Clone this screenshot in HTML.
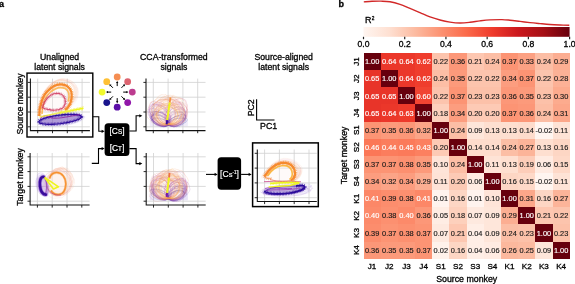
<!DOCTYPE html>
<html><head><meta charset="utf-8"><style>
html,body{margin:0;padding:0;background:#fff;width:575px;height:284px;overflow:hidden}
svg{display:block;will-change:transform}
text{font-family:"Liberation Sans", sans-serif}
</style></head><body>
<svg width="575" height="284" viewBox="0 0 575 284" font-family='"Liberation Sans", sans-serif'>
<rect width="575" height="284" fill="#fff"/>
<text x="-0.9" y="6.8" font-size="9.0" text-anchor="start" fill="#000" stroke="#000" stroke-width="0.3" font-weight="bold">a</text>
<text x="59.6" y="59.9" font-size="8.7" text-anchor="middle" fill="#000" stroke="#000" stroke-width="0.3" font-weight="normal">Unaligned</text>
<text x="59.6" y="69.5" font-size="8.7" text-anchor="middle" fill="#000" stroke="#000" stroke-width="0.3" font-weight="normal">latent signals</text>
<text x="173.9" y="59.9" font-size="8.7" text-anchor="middle" fill="#000" stroke="#000" stroke-width="0.3" font-weight="normal">CCA-transformed</text>
<text x="173.9" y="69.5" font-size="8.7" text-anchor="middle" fill="#000" stroke="#000" stroke-width="0.3" font-weight="normal">signals</text>
<text x="283.7" y="59.9" font-size="8.7" text-anchor="middle" fill="#000" stroke="#000" stroke-width="0.3" font-weight="normal">Source-aligned</text>
<text x="283.7" y="69.5" font-size="8.7" text-anchor="middle" fill="#000" stroke="#000" stroke-width="0.3" font-weight="normal">latent signals</text>
<text x="22.8" y="104" font-size="8.8" text-anchor="middle" fill="#000" stroke="#000" stroke-width="0.3" font-weight="normal" transform="rotate(-90 22.8 104)">Source monkey</text>
<text x="22.8" y="177" font-size="8.8" text-anchor="middle" fill="#000" stroke="#000" stroke-width="0.3" font-weight="normal" transform="rotate(-90 22.8 177)">Target monkey</text>
<line x1="30.40" y1="82.40" x2="89.90" y2="82.40" stroke="#d0d0d0" stroke-width="0.8"/>
<line x1="30.40" y1="97.20" x2="89.90" y2="97.20" stroke="#d0d0d0" stroke-width="0.8"/>
<line x1="30.40" y1="112.00" x2="89.90" y2="112.00" stroke="#d0d0d0" stroke-width="0.8"/>
<line x1="30.40" y1="126.80" x2="89.90" y2="126.80" stroke="#d0d0d0" stroke-width="0.8"/>
<line x1="37.70" y1="78.60" x2="37.70" y2="130.60" stroke="#d0d0d0" stroke-width="0.8"/>
<line x1="52.50" y1="78.60" x2="52.50" y2="130.60" stroke="#d0d0d0" stroke-width="0.8"/>
<line x1="67.30" y1="78.60" x2="67.30" y2="130.60" stroke="#d0d0d0" stroke-width="0.8"/>
<line x1="82.10" y1="78.60" x2="82.10" y2="130.60" stroke="#d0d0d0" stroke-width="0.8"/>
<line x1="30.10" y1="156.80" x2="89.60" y2="156.80" stroke="#d0d0d0" stroke-width="0.8"/>
<line x1="30.10" y1="171.60" x2="89.60" y2="171.60" stroke="#d0d0d0" stroke-width="0.8"/>
<line x1="30.10" y1="186.40" x2="89.60" y2="186.40" stroke="#d0d0d0" stroke-width="0.8"/>
<line x1="30.10" y1="201.20" x2="89.60" y2="201.20" stroke="#d0d0d0" stroke-width="0.8"/>
<line x1="37.40" y1="153.00" x2="37.40" y2="205.00" stroke="#d0d0d0" stroke-width="0.8"/>
<line x1="52.20" y1="153.00" x2="52.20" y2="205.00" stroke="#d0d0d0" stroke-width="0.8"/>
<line x1="67.00" y1="153.00" x2="67.00" y2="205.00" stroke="#d0d0d0" stroke-width="0.8"/>
<line x1="81.80" y1="153.00" x2="81.80" y2="205.00" stroke="#d0d0d0" stroke-width="0.8"/>
<line x1="146.00" y1="82.40" x2="205.50" y2="82.40" stroke="#d0d0d0" stroke-width="0.8"/>
<line x1="146.00" y1="97.20" x2="205.50" y2="97.20" stroke="#d0d0d0" stroke-width="0.8"/>
<line x1="146.00" y1="112.00" x2="205.50" y2="112.00" stroke="#d0d0d0" stroke-width="0.8"/>
<line x1="146.00" y1="126.80" x2="205.50" y2="126.80" stroke="#d0d0d0" stroke-width="0.8"/>
<line x1="153.30" y1="78.60" x2="153.30" y2="130.60" stroke="#d0d0d0" stroke-width="0.8"/>
<line x1="168.10" y1="78.60" x2="168.10" y2="130.60" stroke="#d0d0d0" stroke-width="0.8"/>
<line x1="182.90" y1="78.60" x2="182.90" y2="130.60" stroke="#d0d0d0" stroke-width="0.8"/>
<line x1="197.70" y1="78.60" x2="197.70" y2="130.60" stroke="#d0d0d0" stroke-width="0.8"/>
<line x1="146.20" y1="156.80" x2="205.70" y2="156.80" stroke="#d0d0d0" stroke-width="0.8"/>
<line x1="146.20" y1="171.60" x2="205.70" y2="171.60" stroke="#d0d0d0" stroke-width="0.8"/>
<line x1="146.20" y1="186.40" x2="205.70" y2="186.40" stroke="#d0d0d0" stroke-width="0.8"/>
<line x1="146.20" y1="201.20" x2="205.70" y2="201.20" stroke="#d0d0d0" stroke-width="0.8"/>
<line x1="153.50" y1="153.00" x2="153.50" y2="205.00" stroke="#d0d0d0" stroke-width="0.8"/>
<line x1="168.30" y1="153.00" x2="168.30" y2="205.00" stroke="#d0d0d0" stroke-width="0.8"/>
<line x1="183.10" y1="153.00" x2="183.10" y2="205.00" stroke="#d0d0d0" stroke-width="0.8"/>
<line x1="197.90" y1="153.00" x2="197.90" y2="205.00" stroke="#d0d0d0" stroke-width="0.8"/>
<line x1="257.30" y1="153.30" x2="316.80" y2="153.30" stroke="#d0d0d0" stroke-width="0.8"/>
<line x1="257.30" y1="168.10" x2="316.80" y2="168.10" stroke="#d0d0d0" stroke-width="0.8"/>
<line x1="257.30" y1="182.90" x2="316.80" y2="182.90" stroke="#d0d0d0" stroke-width="0.8"/>
<line x1="257.30" y1="197.70" x2="316.80" y2="197.70" stroke="#d0d0d0" stroke-width="0.8"/>
<line x1="264.60" y1="149.50" x2="264.60" y2="201.50" stroke="#d0d0d0" stroke-width="0.8"/>
<line x1="279.40" y1="149.50" x2="279.40" y2="201.50" stroke="#d0d0d0" stroke-width="0.8"/>
<line x1="294.20" y1="149.50" x2="294.20" y2="201.50" stroke="#d0d0d0" stroke-width="0.8"/>
<line x1="309.00" y1="149.50" x2="309.00" y2="201.50" stroke="#d0d0d0" stroke-width="0.8"/>
<path d="M38.5,112.8 C39.3,95.6 50.5,81.0 61.7,81.1 C70.9,81.8 75.9,87.8 74.8,95.8 C73.7,103.8 66.5,109.8 58.5,111.8" fill="none" stroke="#f8a060" stroke-opacity="0.16" stroke-width="0.4"/>
<path d="M38.3,112.5 C38.3,94.5 50.3,79.4 62.4,80.0 C72.5,81.5 77.5,87.5 75.9,95.5 C74.4,103.5 66.3,109.5 58.3,111.5" fill="none" stroke="#f4b080" stroke-opacity="0.16" stroke-width="0.4"/>
<path d="M39.5,110.7 C40.9,94.1 51.5,79.7 62.2,79.6 C70.9,79.7 75.9,85.7 75.0,93.7 C74.2,101.7 67.5,107.7 59.5,109.7" fill="none" stroke="#f8a060" stroke-opacity="0.16" stroke-width="0.4"/>
<path d="M38.2,112.5 C38.6,94.9 50.2,80.1 61.8,80.4 C71.4,81.5 76.4,87.5 75.1,95.5 C73.8,103.5 66.2,109.5 58.2,111.5" fill="none" stroke="#f4b080" stroke-opacity="0.16" stroke-width="0.4"/>
<path d="M40.0,110.7 C40.3,93.0 52.0,78.1 63.8,78.5 C73.5,79.7 78.5,85.7 77.1,93.7 C75.8,101.7 68.0,107.7 60.0,109.7" fill="none" stroke="#fbc070" stroke-opacity="0.16" stroke-width="0.4"/>
<path d="M38.8,112.4 C40.1,95.8 50.8,81.4 61.5,81.3 C70.2,81.4 75.2,87.4 74.3,95.4 C73.5,103.4 66.8,109.4 58.8,111.4" fill="none" stroke="#f4b080" stroke-opacity="0.16" stroke-width="0.4"/>
<path d="M38.5,110.9 C39.4,93.8 50.5,79.2 61.6,79.3 C70.7,79.9 75.7,85.9 74.7,93.9 C73.6,101.9 66.5,107.9 58.5,109.9" fill="none" stroke="#e890a0" stroke-opacity="0.16" stroke-width="0.4"/>
<path d="M40.4,110.9 C40.8,93.3 52.4,78.4 64.0,78.8 C73.6,79.9 78.6,85.9 77.3,93.9 C76.0,101.9 68.4,107.9 60.4,109.9" fill="none" stroke="#f4b080" stroke-opacity="0.16" stroke-width="0.4"/>
<path d="M39.9,110.7 C40.6,93.4 51.9,78.8 63.2,78.9 C72.5,79.7 77.5,85.7 76.3,93.7 C75.2,101.7 67.9,107.7 59.9,109.7" fill="none" stroke="#f8a060" stroke-opacity="0.16" stroke-width="0.4"/>
<path d="M39.7,112.4 C40.0,94.6 51.7,79.8 63.5,80.1 C73.2,81.4 78.2,87.4 76.8,95.4 C75.5,103.4 67.7,109.4 59.7,111.4" fill="none" stroke="#e890a0" stroke-opacity="0.16" stroke-width="0.4"/>
<path d="M41.2,111.8 C41.8,94.3 53.2,79.6 64.7,79.8 C74.1,80.8 79.1,86.8 77.9,94.8 C76.7,102.8 69.2,108.8 61.2,110.8" fill="none" stroke="#f4b080" stroke-opacity="0.16" stroke-width="0.4"/>
<path d="M40.4,111.4 C40.4,93.3 52.4,78.3 64.5,78.8 C74.5,80.4 79.5,86.4 78.0,94.4 C76.5,102.4 68.4,108.4 60.4,110.4" fill="none" stroke="#e890a0" stroke-opacity="0.16" stroke-width="0.4"/>
<path d="M41.1,113.1 C41.5,95.5 53.1,80.7 64.6,81.0 C74.2,82.1 79.2,88.1 77.9,96.1 C76.6,104.1 69.1,110.1 61.1,112.1" fill="none" stroke="#e890a0" stroke-opacity="0.16" stroke-width="0.4"/>
<path d="M38.3,112.3 C38.6,94.6 50.3,79.7 62.0,80.1 C71.6,81.3 76.6,87.3 75.3,95.3 C74.0,103.3 66.3,109.3 58.3,111.3" fill="none" stroke="#f4b080" stroke-opacity="0.16" stroke-width="0.4"/>
<path d="M38.5,112.2 C38.6,94.2 50.5,79.3 62.5,79.7 C72.5,81.2 77.5,87.2 76.0,95.2 C74.5,103.2 66.5,109.2 58.5,111.2" fill="none" stroke="#f8a060" stroke-opacity="0.16" stroke-width="0.4"/>
<path d="M38.3,112.5 C37.9,94.1 50.3,79.0 62.6,79.6 C72.9,81.5 77.9,87.5 76.3,95.5 C74.6,103.5 66.3,109.5 58.3,111.5" fill="none" stroke="#e890a0" stroke-opacity="0.16" stroke-width="0.4"/>
<path d="M39.2,112.2 C40.0,95.0 51.2,80.4 62.4,80.5 C71.7,81.2 76.7,87.2 75.5,95.2 C74.4,103.2 67.2,109.2 59.2,111.2" fill="none" stroke="#fbc070" stroke-opacity="0.16" stroke-width="0.4"/>
<path d="M38.3,111.4 C39.6,94.7 50.3,80.4 61.1,80.2 C69.8,80.4 74.8,86.4 73.9,94.4 C73.1,102.4 66.3,108.4 58.3,110.4" fill="none" stroke="#f8a060" stroke-opacity="0.16" stroke-width="0.4"/>
<path d="M39.2,116 C39.2,106 43,95 48,90.7 C52,86.5 56,84.3 60,84.3 C64,84.3 68,86 70,89 C72,92 72,97 71,101 C70,105 68,108 65,110 C58,113 46,114 39.5,112 Z" fill="#fdf0ea" fill-opacity="0.3"/>
<path d="M39.2,116 C39.2,106 43,95 48,90.7 C52,86.5 56,84.3 60,84.3 C64,84.3 68,86 70,89 C72,92 72,97 71,101 C70,105 68,108 65,110" fill="none" stroke="#f68a2e" stroke-width="4.40" stroke-dasharray="0.6 0.9" stroke-opacity="0.75"/>
<path d="M39.2,116 C39.2,106 43,95 48,90.7 C52,86.5 56,84.3 60,84.3 C64,84.3 68,86 70,89 C72,92 72,97 71,101 C70,105 68,108 65,110" fill="none" stroke="#f68a2e" stroke-width="2.2" stroke-opacity="1.0"/>
<path d="M42.0,114 C42.5,104 46,96 50,92.5 C54,89 57,87.6 60.5,87.6 C64,87.6 66.8,89 68,91.5 C69.2,94 69.2,98 68.2,101.5" fill="none" stroke="#fbb045" stroke-width="1.6" stroke-opacity="0.85"/>
<path d="M42.5,107.6 C44,101 49,94.5 55.2,93.5 C60,92.8 64,95 65,99.2 C66,103 64.5,107 62.2,108.3 C58,110.5 53,110.5 49.5,109.7 C46,109 43.5,108.5 42.5,107.6 Z" fill="none" stroke="#d03a60" stroke-width="3.40" stroke-dasharray="0.6 0.9" stroke-opacity="0.64"/>
<path d="M42.5,107.6 C44,101 49,94.5 55.2,93.5 C60,92.8 64,95 65,99.2 C66,103 64.5,107 62.2,108.3 C58,110.5 53,110.5 49.5,109.7 C46,109 43.5,108.5 42.5,107.6 Z" fill="none" stroke="#d03a60" stroke-width="1.2" stroke-opacity="0.85"/>
<path d="M81.95,118.14 L82.38,119.11 L81.04,120.21 L78.85,121.28 L77.60,122.22 L74.12,123.30 L71.50,123.97 L67.51,124.92 L63.79,125.61 L59.64,125.76 L55.64,126.02 L51.46,126.35 L48.31,125.81 L44.96,125.50 L41.76,125.14 L39.72,124.29 L37.71,123.60 L36.33,122.75 L35.66,121.72 L36.07,120.63 L38.03,119.42 L38.43,118.42 L40.72,117.51 L44.07,116.62 L47.09,115.82 L51.11,115.02 L54.82,114.41 L58.74,114.18 L62.65,113.91 L66.60,113.90 L70.71,113.77 L73.31,114.30 L76.42,114.75 L78.40,115.33 L81.65,116.12 L81.89,117.14 L81.61,118.17 Z" fill="none" stroke="#9a80d8" stroke-opacity="0.22" stroke-width="0.4"/>
<path d="M80.61,118.92 L80.36,119.53 L79.43,120.26 L78.41,120.86 L75.54,121.49 L72.95,122.17 L70.39,122.68 L66.99,123.01 L63.71,123.57 L60.01,123.80 L56.31,123.94 L53.04,123.91 L49.70,123.73 L47.11,123.59 L44.33,123.40 L41.25,123.03 L39.67,122.62 L38.63,122.02 L39.49,121.36 L39.80,120.74 L40.01,120.07 L41.21,119.48 L43.55,118.77 L46.72,118.17 L48.88,117.65 L52.35,117.26 L56.07,116.79 L59.58,116.52 L63.33,116.47 L66.64,116.28 L70.19,116.54 L72.59,116.75 L76.08,116.85 L77.17,117.30 L79.99,117.73 L79.97,118.34 L79.95,118.96 Z" fill="none" stroke="#9a80d8" stroke-opacity="0.22" stroke-width="0.4"/>
<path d="M85.02,116.75 L83.63,117.93 L82.90,119.00 L81.85,120.05 L79.47,121.15 L77.39,122.21 L73.76,123.36 L70.55,124.15 L66.69,124.96 L62.68,125.59 L58.92,125.96 L55.12,126.01 L51.07,126.20 L48.12,126.21 L45.13,125.75 L42.84,125.28 L40.60,124.57 L39.84,123.72 L39.88,122.71 L39.67,121.71 L40.12,120.60 L42.18,119.44 L44.22,118.35 L46.68,117.32 L50.00,116.29 L53.24,115.33 L57.12,114.43 L61.14,113.99 L65.17,113.42 L68.67,113.54 L72.44,113.49 L75.47,113.65 L78.83,113.69 L81.59,114.34 L83.10,114.96 L83.24,115.93 L85.19,116.72 Z" fill="none" stroke="#9a80d8" stroke-opacity="0.22" stroke-width="0.4"/>
<path d="M83.62,117.64 L83.99,118.64 L82.52,119.75 L81.79,120.66 L79.36,121.80 L76.03,122.75 L73.55,123.60 L69.68,124.55 L66.29,125.08 L62.30,125.14 L58.57,125.58 L54.76,125.30 L51.15,125.47 L47.45,124.89 L45.50,124.52 L42.60,123.80 L41.67,122.81 L39.57,122.02 L40.25,120.94 L39.51,119.93 L41.38,118.74 L42.92,117.65 L44.50,116.81 L47.06,115.67 L50.50,115.12 L53.77,114.40 L57.66,113.87 L61.42,113.48 L65.25,113.23 L69.25,113.20 L72.66,113.42 L75.73,113.83 L78.37,114.34 L81.37,114.81 L82.20,115.71 L84.58,116.56 L84.80,117.56 Z" fill="none" stroke="#9a80d8" stroke-opacity="0.22" stroke-width="0.4"/>
<path d="M83.19,117.98 L82.67,118.88 L81.41,119.78 L79.41,120.66 L77.02,121.55 L75.15,122.35 L71.51,123.12 L68.61,124.02 L64.78,124.39 L60.93,124.84 L57.14,125.08 L53.46,125.26 L49.56,125.52 L46.72,125.09 L43.40,124.84 L41.99,124.25 L40.29,123.75 L39.03,123.05 L38.61,122.27 L39.28,121.41 L39.95,120.57 L42.05,119.59 L43.80,118.68 L46.04,117.82 L49.01,117.05 L52.35,116.49 L56.27,115.68 L60.02,115.34 L63.89,115.30 L67.72,114.83 L71.13,114.92 L74.55,115.25 L76.97,115.50 L79.69,115.87 L81.41,116.51 L82.61,117.20 L82.69,118.03 Z" fill="none" stroke="#9a80d8" stroke-opacity="0.22" stroke-width="0.4"/>
<path d="M80.94,117.12 L80.77,117.80 L79.60,118.46 L78.52,119.23 L75.94,119.93 L73.46,120.47 L70.41,121.12 L66.54,121.68 L63.21,122.08 L59.39,122.66 L55.60,122.71 L51.94,122.90 L48.24,122.88 L45.17,122.61 L43.09,122.35 L40.04,122.06 L38.65,121.55 L38.48,120.96 L37.05,120.43 L37.33,119.76 L38.54,119.03 L40.18,118.36 L41.74,117.71 L44.36,116.89 L48.40,116.32 L51.19,115.68 L55.06,115.42 L58.80,114.88 L62.50,114.77 L66.05,114.69 L70.12,114.76 L73.21,114.81 L76.08,115.02 L77.37,115.44 L79.41,115.99 L79.61,116.56 L80.75,117.13 Z" fill="none" stroke="#9a80d8" stroke-opacity="0.22" stroke-width="0.4"/>
<path d="M81.03,114.99 L79.84,116.25 L80.05,117.20 L77.99,118.41 L76.23,119.74 L73.95,120.69 L70.86,121.82 L67.38,122.83 L64.23,123.78 L60.47,124.58 L56.86,125.31 L53.35,125.67 L49.40,126.23 L46.29,126.15 L43.37,126.10 L41.55,125.56 L40.60,124.83 L38.83,124.20 L37.99,123.35 L39.12,122.10 L39.74,121.06 L40.78,120.00 L42.17,118.73 L45.24,117.52 L48.07,116.43 L51.26,115.55 L54.82,114.59 L58.36,113.69 L61.93,112.90 L65.96,112.58 L68.81,112.55 L71.79,112.47 L74.45,112.68 L76.88,112.93 L79.57,113.29 L79.96,114.22 L80.65,115.07 Z" fill="none" stroke="#9a80d8" stroke-opacity="0.22" stroke-width="0.4"/>
<path d="M81.08,114.91 L81.53,115.85 L79.79,117.15 L78.62,118.34 L77.41,119.53 L74.71,120.46 L71.06,121.97 L68.41,122.78 L64.67,123.49 L61.08,124.65 L57.30,125.19 L53.48,125.31 L50.68,125.33 L47.25,125.54 L43.98,125.38 L42.08,124.85 L40.64,124.10 L40.22,123.18 L39.40,122.26 L38.85,121.33 L40.47,120.05 L41.05,118.91 L43.74,117.76 L45.66,116.52 L48.71,115.53 L51.82,114.64 L55.41,113.54 L58.98,112.73 L62.77,112.23 L66.12,112.01 L70.03,111.57 L72.59,111.98 L75.48,111.98 L77.64,112.57 L79.71,113.03 L80.13,114.07 L80.80,114.96 Z" fill="none" stroke="#9a80d8" stroke-opacity="0.22" stroke-width="0.4"/>
<path d="M81.04,116.74 L80.93,117.28 L80.46,117.86 L79.64,118.45 L78.49,119.07 L77.03,119.69 L75.28,120.30 L73.28,120.89 L71.04,121.46 L68.63,121.99 L66.07,122.47 L63.40,122.90 L60.69,123.27 L57.96,123.57 L55.28,123.80 L52.67,123.95 L50.20,124.02 L47.90,124.01 L45.81,123.92 L43.96,123.75 L42.39,123.50 L41.13,123.18 L40.19,122.80 L39.60,122.36 L39.36,121.86 L39.47,121.32 L39.94,120.74 L40.76,120.15 L41.91,119.53 L43.37,118.91 L45.12,118.30 L47.12,117.71 L49.36,117.14 L51.77,116.61 L54.33,116.13 L57.00,115.70 L59.71,115.33 L62.44,115.03 L65.12,114.80 L67.73,114.65 L70.20,114.58 L72.50,114.59 L74.59,114.68 L76.44,114.85 L78.01,115.10 L79.27,115.42 L80.21,115.80 L80.80,116.24 L81.04,116.74 Z" fill="#7048b8" fill-opacity="0.55"/>
<path d="M81.54,116.68 L81.43,117.26 L80.95,117.87 L80.12,118.51 L78.94,119.16 L77.45,119.82 L75.66,120.47 L73.61,121.09 L71.32,121.69 L68.85,122.24 L66.23,122.74 L63.50,123.19 L60.72,123.57 L57.93,123.87 L55.18,124.10 L52.52,124.25 L49.98,124.31 L47.62,124.28 L45.48,124.17 L43.59,123.98 L41.98,123.70 L40.69,123.35 L39.72,122.94 L39.11,122.45 L38.86,121.92 L38.97,121.34 L39.45,120.73 L40.28,120.09 L41.46,119.44 L42.95,118.78 L44.74,118.13 L46.79,117.51 L49.08,116.91 L51.55,116.36 L54.17,115.86 L56.90,115.41 L59.68,115.03 L62.47,114.73 L65.22,114.50 L67.88,114.35 L70.42,114.29 L72.78,114.32 L74.92,114.43 L76.81,114.62 L78.42,114.90 L79.71,115.25 L80.68,115.66 L81.29,116.15 L81.54,116.68 Z" fill="none" stroke="#2e0c9c" stroke-width="3.50" stroke-dasharray="0.6 0.9" stroke-opacity="0.75"/>
<path d="M81.54,116.68 L81.43,117.26 L80.95,117.87 L80.12,118.51 L78.94,119.16 L77.45,119.82 L75.66,120.47 L73.61,121.09 L71.32,121.69 L68.85,122.24 L66.23,122.74 L63.50,123.19 L60.72,123.57 L57.93,123.87 L55.18,124.10 L52.52,124.25 L49.98,124.31 L47.62,124.28 L45.48,124.17 L43.59,123.98 L41.98,123.70 L40.69,123.35 L39.72,122.94 L39.11,122.45 L38.86,121.92 L38.97,121.34 L39.45,120.73 L40.28,120.09 L41.46,119.44 L42.95,118.78 L44.74,118.13 L46.79,117.51 L49.08,116.91 L51.55,116.36 L54.17,115.86 L56.90,115.41 L59.68,115.03 L62.47,114.73 L65.22,114.50 L67.88,114.35 L70.42,114.29 L72.78,114.32 L74.92,114.43 L76.81,114.62 L78.42,114.90 L79.71,115.25 L80.68,115.66 L81.29,116.15 L81.54,116.68 Z" fill="none" stroke="#2e0c9c" stroke-width="1.3" stroke-opacity="1.0"/>
<path d="M40,118.5 C43,116 46,114.5 49,117 C54,120 66,117 80,114.5" fill="none" stroke="#8a1aa0" stroke-width="1.0" stroke-opacity="0.8"/>
<path d="M39.5,117 L62,112.3" fill="none" stroke="#f0e830" stroke-width="1.6" stroke-opacity="0.8"/>
<path d="M60,112.8 L83.5,108.3" fill="none" stroke="#eef51e" stroke-width="3.70" stroke-dasharray="0.6 0.9" stroke-opacity="0.75"/>
<path d="M60,112.8 L83.5,108.3" fill="none" stroke="#eef51e" stroke-width="1.5" stroke-opacity="1.0"/>
<path d="M52,115 L84,106.5" fill="none" stroke="#f5f070" stroke-width="0.8" stroke-opacity="0.6"/>
<path d="M68.38,186.44 L68.27,188.68 L66.45,190.58 L65.33,191.96 L64.37,193.87 L62.62,195.03 L60.81,195.94 L58.78,195.84 L56.85,196.73 L55.19,195.78 L53.35,195.49 L51.86,194.24 L50.48,193.38 L49.04,191.27 L48.30,190.10 L47.42,187.53 L47.84,185.94 L47.12,183.33 L48.45,181.37 L48.84,179.07 L49.62,176.99 L51.30,175.28 L52.62,174.00 L53.93,172.29 L55.94,172.13 L57.75,171.27 L59.47,171.63 L61.47,171.14 L63.05,172.65 L64.81,172.77 L65.95,173.97 L67.01,175.85 L68.17,177.77 L68.49,179.90 L69.00,182.11 L69.02,184.32 L68.40,186.45 Z" fill="none" stroke="#fbc080" stroke-opacity="0.28" stroke-width="0.45"/>
<path d="M69.26,189.22 L67.04,190.64 L65.48,192.67 L63.65,194.09 L61.42,194.49 L59.78,195.65 L57.57,195.50 L54.81,196.16 L52.77,195.43 L51.43,193.59 L49.29,192.97 L48.51,190.79 L47.03,188.85 L46.05,187.19 L45.88,184.86 L46.35,182.80 L46.68,179.93 L47.74,177.95 L48.36,175.40 L50.58,173.80 L52.08,172.03 L53.81,170.77 L56.08,169.97 L58.47,168.97 L60.54,169.07 L62.97,168.72 L65.01,169.32 L66.91,170.16 L68.31,172.03 L69.76,173.37 L70.67,175.88 L71.53,177.31 L71.70,180.11 L71.32,182.24 L70.62,184.43 L69.69,186.65 L69.07,189.09 Z" fill="none" stroke="#e890a0" stroke-opacity="0.28" stroke-width="0.45"/>
<path d="M71.65,186.69 L69.77,188.57 L68.37,190.90 L66.93,192.79 L65.52,194.10 L62.66,195.44 L60.72,195.34 L58.69,195.75 L56.51,195.70 L54.29,195.57 L52.48,194.59 L51.09,192.50 L49.43,190.78 L48.98,188.82 L47.63,187.12 L47.38,184.22 L48.08,181.76 L48.06,179.31 L49.26,176.98 L50.40,174.53 L51.50,172.53 L53.03,170.86 L55.46,169.32 L57.62,168.70 L59.42,167.99 L62.25,166.66 L64.07,167.87 L66.22,168.06 L68.28,168.71 L69.45,170.75 L70.67,172.82 L72.43,174.22 L72.66,177.19 L73.34,179.09 L72.84,181.51 L72.25,184.20 L71.03,186.42 Z" fill="none" stroke="#f8a070" stroke-opacity="0.28" stroke-width="0.45"/>
<path d="M70.29,186.05 L70.45,188.73 L69.64,191.29 L67.46,193.33 L66.50,194.57 L64.12,195.99 L62.05,197.93 L59.50,197.63 L57.35,197.93 L54.78,198.29 L52.45,197.99 L50.07,197.03 L48.23,194.96 L46.84,193.19 L46.09,190.72 L44.05,188.46 L43.47,186.33 L43.97,183.78 L44.01,181.17 L45.37,178.92 L45.64,176.52 L46.71,174.04 L49.38,172.89 L50.72,171.47 L53.31,170.52 L55.34,168.84 L58.01,168.36 L60.23,168.97 L62.62,169.51 L64.67,171.11 L66.28,172.73 L67.86,173.62 L69.95,176.13 L69.99,178.33 L71.17,181.11 L70.68,183.45 L71.09,186.20 Z" fill="none" stroke="#e890a0" stroke-opacity="0.28" stroke-width="0.45"/>
<path d="M67.60,185.93 L67.05,187.88 L65.58,189.32 L63.43,190.10 L61.95,191.43 L60.13,192.01 L58.62,191.97 L56.97,191.84 L55.10,191.49 L53.39,190.78 L51.44,190.52 L50.63,188.87 L49.31,187.53 L48.89,185.67 L48.25,184.00 L48.21,182.13 L48.58,179.86 L48.68,177.85 L50.02,176.33 L51.16,174.62 L51.97,172.82 L53.47,171.80 L55.33,170.95 L56.68,170.42 L58.52,170.24 L60.72,170.24 L62.45,170.31 L64.37,170.66 L65.59,172.07 L67.06,173.10 L68.13,174.79 L68.53,176.64 L69.01,178.05 L69.44,180.27 L68.76,182.13 L68.78,184.29 L67.38,185.81 Z" fill="none" stroke="#f4b090" stroke-opacity="0.28" stroke-width="0.45"/>
<path d="M70.90,187.26 L69.68,189.43 L67.81,191.02 L66.66,192.90 L64.34,194.74 L61.65,195.11 L59.72,195.12 L57.42,195.39 L55.32,195.07 L52.88,195.17 L51.02,194.03 L49.80,191.46 L47.94,190.09 L47.04,188.78 L46.71,185.66 L46.20,183.87 L46.70,181.31 L46.15,178.64 L47.32,176.42 L48.25,174.10 L50.05,172.15 L51.81,170.64 L54.06,169.83 L56.34,168.73 L58.58,167.86 L60.31,168.15 L62.97,167.97 L65.14,168.51 L66.58,170.69 L68.70,171.61 L70.23,172.98 L71.23,175.70 L71.41,177.16 L72.33,180.45 L71.63,182.42 L71.78,184.84 L70.29,186.98 Z" fill="none" stroke="#fbc080" stroke-opacity="0.28" stroke-width="0.45"/>
<path d="M68.86,189.49 L67.91,191.52 L65.98,192.94 L64.29,194.09 L62.36,195.23 L59.70,195.31 L58.01,195.38 L55.72,195.60 L53.87,194.99 L52.15,193.89 L50.02,193.39 L49.25,191.07 L48.00,189.36 L47.80,187.35 L46.76,185.49 L47.07,183.11 L47.61,180.85 L47.96,178.53 L49.35,176.74 L50.58,174.82 L52.74,173.54 L54.83,172.17 L56.66,171.03 L58.55,170.82 L60.65,170.57 L62.40,171.19 L64.40,171.39 L66.24,172.32 L67.90,173.45 L69.41,174.80 L70.46,176.29 L70.89,179.27 L71.65,180.77 L71.26,183.46 L71.06,185.46 L69.43,187.25 L69.28,189.76 Z" fill="none" stroke="#e890a0" stroke-opacity="0.28" stroke-width="0.45"/>
<path d="M72.41,186.97 L71.14,188.56 L70.24,190.27 L69.25,191.45 L67.29,192.73 L65.11,193.22 L62.88,193.53 L60.27,194.18 L58.45,193.30 L56.07,193.04 L53.84,192.20 L51.91,191.07 L49.87,189.77 L49.02,187.85 L47.44,186.38 L47.21,184.39 L46.19,182.34 L46.67,180.56 L46.91,178.65 L47.36,176.86 L48.92,175.31 L50.65,174.38 L51.83,172.50 L53.57,172.37 L56.15,171.45 L58.37,171.89 L60.48,172.18 L62.88,172.18 L65.02,172.92 L67.09,173.99 L68.50,175.90 L69.82,177.71 L71.04,179.24 L72.02,181.19 L73.06,183.11 L72.24,184.98 L72.04,186.85 Z" fill="none" stroke="#f4b090" stroke-opacity="0.28" stroke-width="0.45"/>
<path d="M67.99,187.82 L67.49,190.21 L65.11,191.24 L63.33,192.46 L61.95,194.17 L59.52,194.82 L57.57,194.98 L55.27,194.75 L53.25,194.18 L51.61,192.82 L49.74,191.83 L48.51,189.87 L47.67,188.18 L46.07,186.77 L45.99,184.20 L45.63,182.13 L46.35,179.78 L47.25,177.84 L48.27,175.80 L49.34,173.66 L51.48,172.45 L53.15,171.36 L54.66,169.71 L56.67,169.17 L59.29,169.31 L61.48,168.72 L63.15,169.72 L64.85,171.10 L66.62,172.23 L67.76,173.89 L69.16,174.93 L70.07,176.72 L70.32,178.96 L70.03,181.72 L70.34,184.11 L69.69,186.27 L68.00,187.83 Z" fill="none" stroke="#f4b090" stroke-opacity="0.28" stroke-width="0.45"/>
<path d="M71.94,185.26 L71.03,187.49 L68.82,188.87 L67.84,191.26 L65.67,192.17 L64.32,193.29 L62.18,194.36 L59.72,194.42 L57.74,194.50 L55.79,193.65 L53.70,193.05 L51.85,192.15 L50.54,190.35 L48.88,189.00 L48.07,186.55 L48.10,184.14 L47.09,181.96 L47.47,179.54 L48.28,177.37 L48.95,175.09 L50.75,173.35 L51.67,171.45 L53.71,169.91 L55.60,168.54 L57.81,168.80 L60.06,167.99 L62.25,167.52 L64.00,168.99 L66.33,168.89 L68.06,170.45 L69.39,171.61 L70.89,173.77 L71.82,176.18 L71.63,177.98 L72.49,180.70 L72.32,182.80 L71.13,184.99 Z" fill="none" stroke="#fbc080" stroke-opacity="0.28" stroke-width="0.45"/>
<path d="M67.57,186.99 L66.45,189.18 L64.37,190.59 L62.98,192.56 L60.94,193.27 L59.17,193.81 L57.04,194.05 L55.22,194.35 L53.35,193.98 L51.89,192.92 L49.95,192.83 L49.39,190.37 L48.00,189.32 L47.85,187.33 L47.62,185.09 L48.21,182.75 L47.68,180.45 L49.00,178.36 L50.33,176.35 L51.62,174.22 L52.97,172.28 L54.46,171.02 L56.98,170.38 L58.72,169.67 L60.98,168.85 L62.52,168.75 L64.68,168.64 L66.15,169.80 L67.21,171.46 L68.61,172.81 L69.60,174.05 L70.36,176.12 L70.11,178.22 L69.96,180.01 L69.88,183.04 L68.30,184.70 L67.48,186.93 Z" fill="none" stroke="#f8a070" stroke-opacity="0.28" stroke-width="0.45"/>
<path d="M72.55,187.06 L70.35,188.67 L69.71,190.92 L67.24,192.08 L65.84,193.10 L63.28,193.82 L60.84,194.39 L58.79,194.16 L56.37,194.30 L54.31,193.60 L52.84,191.64 L50.80,190.26 L48.97,189.14 L48.21,186.38 L47.84,184.36 L46.78,182.35 L47.26,179.92 L48.01,177.86 L48.74,175.51 L50.30,173.73 L51.96,171.82 L53.07,170.35 L54.82,169.01 L57.31,168.53 L59.96,167.47 L61.80,168.17 L64.05,168.38 L66.03,169.42 L68.03,170.69 L70.13,171.50 L71.11,173.35 L72.09,175.58 L72.74,177.60 L74.02,179.87 L73.69,182.67 L72.63,184.38 L71.47,186.53 Z" fill="none" stroke="#e890a0" stroke-opacity="0.28" stroke-width="0.45"/>
<path d="M68.02,186.81 L67.64,188.94 L65.88,190.38 L64.45,192.02 L62.46,193.63 L61.08,194.20 L58.83,195.09 L57.02,195.77 L55.02,195.49 L53.36,194.24 L51.36,193.95 L50.06,192.45 L48.72,191.43 L47.34,189.71 L46.38,187.36 L46.48,185.33 L46.00,183.39 L46.90,181.25 L46.80,178.90 L47.80,177.01 L49.21,175.00 L51.13,173.69 L52.38,172.08 L54.42,171.05 L55.71,171.13 L58.04,170.84 L60.18,170.17 L62.12,170.74 L63.90,171.57 L65.05,173.62 L66.72,174.80 L67.46,176.04 L68.07,178.45 L68.52,180.22 L68.59,182.53 L68.78,184.66 L67.58,186.64 Z" fill="none" stroke="#f4b090" stroke-opacity="0.28" stroke-width="0.45"/>
<path d="M69.99,185.52 L69.06,187.46 L68.39,189.51 L67.49,191.51 L65.63,192.51 L64.50,194.20 L62.17,194.73 L60.31,195.59 L58.01,196.36 L55.98,195.83 L53.89,195.24 L52.07,193.70 L50.07,192.51 L48.88,191.45 L47.19,189.89 L46.26,187.82 L45.52,185.60 L45.97,183.67 L46.24,181.53 L46.35,179.41 L47.05,177.32 L49.13,176.01 L50.42,174.34 L52.14,172.79 L53.96,172.09 L55.99,170.84 L57.89,171.74 L60.18,170.79 L62.12,171.44 L64.20,172.32 L65.92,173.88 L67.50,175.97 L68.14,177.48 L68.94,179.26 L69.49,181.33 L70.04,183.43 L69.53,185.44 Z" fill="none" stroke="#e890a0" stroke-opacity="0.28" stroke-width="0.45"/>
<path d="M70.63,187.73 L69.31,189.45 L68.15,191.37 L66.06,192.51 L64.67,193.64 L62.19,194.60 L59.81,195.41 L57.63,195.09 L55.63,194.35 L53.21,193.84 L50.71,193.72 L48.83,192.35 L47.29,190.81 L46.05,188.36 L44.91,186.82 L44.53,184.21 L44.42,182.43 L43.87,179.97 L44.34,177.92 L45.04,175.95 L46.46,174.25 L47.88,172.62 L49.83,171.67 L52.12,171.21 L54.86,170.45 L57.20,170.07 L59.56,170.32 L61.81,170.77 L63.76,172.18 L65.86,173.47 L67.23,175.63 L68.77,177.01 L69.48,179.02 L71.03,181.60 L71.21,183.59 L70.81,185.62 L70.59,187.71 Z" fill="none" stroke="#e890a0" stroke-opacity="0.28" stroke-width="0.45"/>
<path d="M70.27,184.73 L70.07,186.98 L68.64,188.67 L67.23,190.29 L65.85,192.10 L63.70,193.50 L62.04,194.34 L60.30,195.01 L58.36,194.41 L56.67,193.60 L54.78,193.61 L52.96,192.95 L51.52,191.10 L50.16,189.37 L49.57,187.71 L49.18,185.46 L48.73,183.27 L48.43,181.07 L49.30,178.97 L50.20,176.94 L51.07,174.89 L52.17,172.82 L53.98,171.79 L55.74,170.08 L57.64,169.75 L59.25,169.66 L61.59,168.67 L63.29,169.54 L65.12,169.75 L66.86,170.94 L68.48,172.32 L69.13,174.62 L69.99,176.13 L70.68,178.43 L70.68,180.25 L70.98,182.66 L70.97,184.93 Z" fill="none" stroke="#f8a070" stroke-opacity="0.28" stroke-width="0.45"/>
<path d="M68.47,184.57 L66.82,186.31 L65.56,188.23 L64.62,190.37 L62.99,192.12 L61.37,192.49 L59.35,193.66 L57.72,193.97 L56.43,193.40 L54.44,194.15 L53.31,192.77 L51.99,192.03 L51.03,190.38 L50.59,188.11 L50.33,186.39 L50.29,184.59 L49.81,182.22 L51.04,179.95 L51.31,177.60 L52.65,175.63 L53.38,173.66 L55.34,172.11 L56.72,170.71 L58.13,169.53 L60.38,168.15 L61.68,168.17 L63.57,167.61 L64.65,169.02 L66.36,169.05 L67.40,170.51 L68.41,171.61 L68.93,173.14 L69.07,175.72 L69.34,177.97 L69.64,180.09 L68.75,182.18 L68.43,184.55 Z" fill="none" stroke="#f8a070" stroke-opacity="0.28" stroke-width="0.45"/>
<path d="M73.87,185.88 L73.06,187.90 L71.34,189.85 L70.23,191.25 L68.35,192.90 L66.86,194.14 L64.32,195.04 L62.04,194.88 L59.72,194.88 L57.41,194.67 L55.27,193.74 L53.19,193.04 L51.11,191.55 L49.39,189.34 L48.59,187.80 L47.80,185.21 L47.43,182.91 L47.05,180.78 L48.31,178.79 L48.28,176.42 L50.33,174.72 L51.55,173.39 L52.86,171.37 L54.75,170.70 L57.58,169.44 L59.91,169.04 L61.95,169.19 L64.33,169.69 L66.31,171.01 L68.63,172.10 L70.34,173.03 L71.86,175.04 L73.26,176.88 L74.31,179.59 L74.17,181.29 L74.58,183.68 L73.30,185.72 Z" fill="none" stroke="#fbc080" stroke-opacity="0.28" stroke-width="0.45"/>
<path d="M68.84,186.76 L68.19,188.26 L67.38,189.67 L66.41,190.97 L65.31,192.13 L64.10,193.14 L62.79,193.97 L61.40,194.61 L59.97,195.05 L58.51,195.29 L57.05,195.32 L55.61,195.14 L54.22,194.75 L52.91,194.15 L51.70,193.37 L50.59,192.41 L49.63,191.29 L48.82,190.03 L48.17,188.65 L47.70,187.17 L47.41,185.61 L47.31,184.02 L47.41,182.41 L47.69,180.80 L48.16,179.24 L48.81,177.74 L49.62,176.33 L50.59,175.03 L51.69,173.87 L52.90,172.86 L54.21,172.03 L55.60,171.39 L57.03,170.95 L58.49,170.71 L59.95,170.68 L61.39,170.86 L62.78,171.25 L64.09,171.85 L65.30,172.63 L66.41,173.59 L67.37,174.71 L68.18,175.97 L68.83,177.35 L69.30,178.83 L69.59,180.39 L69.69,181.98 L69.59,183.59 L69.31,185.20 L68.84,186.76 Z" fill="#fde4d8" fill-opacity="0.45"/>
<path d="M47.95,182.50 L48.60,184.54 L49.02,186.30 L49.18,188.33 L49.05,189.78 L48.64,191.04 L48.49,192.70 L47.69,193.41 L46.77,193.55 L45.84,193.33 L44.65,192.55 L43.50,191.53 L42.43,190.72 L41.54,189.19 L40.54,187.17 L39.96,185.21 L39.45,183.11 L38.80,181.36 L38.83,179.25 L38.63,177.41 L39.11,176.01 L39.52,174.99 L40.46,174.79 L41.28,174.37 L42.17,174.29 L43.14,174.61 L44.40,176.16 L45.44,177.02 L46.55,178.56 L47.50,180.34 L48.13,182.44 Z" fill="none" stroke="#9a70d8" stroke-opacity="0.3" stroke-width="0.45"/>
<path d="M46.95,183.43 L47.59,185.18 L47.17,187.19 L47.07,189.07 L46.60,190.73 L46.21,191.96 L45.19,192.53 L44.27,193.33 L43.16,193.38 L42.10,193.48 L40.90,193.09 L39.93,191.65 L38.87,190.57 L38.04,188.88 L37.51,187.19 L36.85,185.39 L36.35,183.46 L36.30,181.50 L36.69,179.72 L37.35,178.18 L37.88,177.21 L38.62,175.69 L39.66,175.35 L40.77,175.42 L42.03,175.86 L42.91,175.92 L44.14,177.27 L45.18,178.31 L46.00,179.82 L46.65,181.52 L47.07,183.41 Z" fill="none" stroke="#9a70d8" stroke-opacity="0.3" stroke-width="0.45"/>
<path d="M47.01,185.45 L47.31,187.32 L47.23,189.28 L46.84,191.06 L46.31,192.57 L45.72,193.47 L44.81,194.36 L43.94,195.62 L42.86,195.63 L41.65,194.85 L40.55,194.74 L39.79,193.74 L38.72,192.01 L37.72,190.65 L37.19,188.76 L36.81,186.92 L36.92,184.97 L37.07,183.01 L37.27,181.42 L37.58,179.85 L38.23,178.45 L39.13,177.56 L40.11,176.72 L41.20,176.68 L42.29,176.93 L43.44,177.53 L44.34,178.92 L45.44,179.89 L46.28,181.90 L46.81,183.60 L47.16,185.43 Z" fill="none" stroke="#9a70d8" stroke-opacity="0.3" stroke-width="0.45"/>
<path d="M47.04,184.49 L47.63,186.36 L47.62,188.33 L48.00,190.04 L47.66,191.79 L47.21,193.27 L46.52,194.86 L45.59,195.45 L44.56,196.07 L43.26,195.45 L42.06,195.14 L40.63,194.59 L39.61,192.91 L38.22,191.79 L37.44,189.92 L36.79,188.01 L36.10,186.02 L35.78,184.33 L35.87,182.42 L35.83,180.60 L36.69,179.40 L37.25,178.07 L38.18,177.38 L39.39,177.36 L40.51,177.08 L41.60,177.46 L43.26,178.47 L44.03,179.36 L45.25,181.01 L46.31,182.65 L47.10,184.47 Z" fill="none" stroke="#9a70d8" stroke-opacity="0.3" stroke-width="0.45"/>
<path d="M48.05,185.85 L48.27,188.10 L48.28,190.12 L48.42,192.39 L48.21,194.02 L47.71,195.54 L47.20,196.31 L46.50,196.73 L45.76,196.91 L45.00,196.51 L44.26,196.34 L43.31,194.60 L42.60,192.98 L41.88,191.15 L41.46,189.31 L40.84,187.08 L40.51,184.93 L40.54,182.91 L40.52,180.89 L40.60,179.02 L40.99,177.82 L41.51,176.57 L42.29,176.40 L42.87,175.43 L43.70,176.00 L44.52,176.72 L45.31,178.28 L46.33,179.92 L46.84,181.86 L47.36,183.77 L47.99,185.86 Z" fill="none" stroke="#9a70d8" stroke-opacity="0.3" stroke-width="0.45"/>
<path d="M47.74,183.06 L48.51,185.39 L48.23,187.93 L48.42,189.77 L47.73,191.59 L47.41,193.77 L46.64,195.02 L45.51,195.09 L44.50,195.68 L43.37,195.42 L42.08,194.03 L40.91,192.87 L39.79,191.54 L38.91,189.74 L38.22,187.47 L37.75,185.12 L37.07,182.68 L37.20,180.36 L37.05,178.43 L37.68,176.64 L38.11,174.52 L38.87,173.28 L39.83,172.88 L40.91,172.63 L42.09,172.86 L43.18,173.50 L44.32,174.79 L45.60,176.35 L46.38,178.40 L47.54,180.65 L47.78,183.05 Z" fill="none" stroke="#9a70d8" stroke-opacity="0.3" stroke-width="0.45"/>
<path d="M47.87,183.17 L48.29,185.24 L48.37,187.22 L48.17,189.14 L48.08,191.04 L47.81,192.11 L47.39,193.26 L46.67,193.66 L46.11,194.56 L45.18,193.37 L44.30,192.88 L43.45,191.98 L42.69,190.39 L41.91,188.70 L41.45,186.78 L41.00,184.57 L40.65,182.40 L40.32,180.23 L40.42,178.40 L40.42,176.45 L40.69,175.30 L41.35,174.63 L41.91,173.87 L42.67,173.96 L43.41,173.82 L44.12,174.26 L45.01,175.79 L45.76,177.12 L46.77,179.17 L47.34,181.00 L47.70,183.21 Z" fill="none" stroke="#9a70d8" stroke-opacity="0.3" stroke-width="0.45"/>
<path d="M46.83,185.32 L47.39,187.48 L47.60,189.69 L47.64,192.03 L47.31,193.93 L47.02,194.88 L46.28,195.78 L45.63,196.28 L44.82,196.62 L43.90,196.29 L43.17,196.10 L42.20,194.61 L41.11,193.38 L40.28,191.59 L39.81,189.16 L38.95,187.06 L38.83,184.73 L38.54,182.58 L38.60,180.80 L38.49,178.90 L38.95,177.63 L39.57,176.55 L40.26,175.88 L41.09,175.73 L41.92,175.64 L42.80,176.55 L43.72,177.25 L44.70,179.33 L45.67,180.80 L46.37,183.12 L46.72,185.34 Z" fill="none" stroke="#9a70d8" stroke-opacity="0.3" stroke-width="0.45"/>
<path d="M46.54,182.51 L47.07,184.60 L47.15,186.66 L47.17,188.83 L46.86,190.40 L46.10,191.53 L45.51,193.20 L44.49,193.30 L43.42,193.30 L42.21,193.00 L41.32,193.20 L40.25,191.86 L39.12,190.24 L38.28,188.53 L37.25,186.91 L36.61,184.81 L36.35,182.73 L36.22,180.61 L36.39,178.40 L36.83,176.77 L37.16,175.59 L37.87,174.04 L38.88,173.71 L39.96,173.72 L41.07,173.90 L42.13,174.34 L43.35,175.59 L44.35,176.82 L45.10,178.52 L45.88,180.39 L46.59,182.49 Z" fill="none" stroke="#9a70d8" stroke-opacity="0.3" stroke-width="0.45"/>
<path d="M47.21,184.41 L47.37,186.43 L47.20,188.15 L47.20,189.97 L46.77,191.76 L46.27,193.06 L45.39,193.57 L44.72,194.47 L43.78,193.96 L42.89,193.63 L42.08,193.53 L41.17,192.20 L40.55,190.77 L39.59,189.31 L39.29,187.38 L38.81,185.46 L38.92,183.44 L38.86,181.59 L39.13,179.91 L39.48,178.40 L40.11,177.32 L40.71,176.59 L41.45,175.48 L42.34,175.74 L43.15,175.58 L44.02,176.47 L45.08,177.83 L45.67,178.85 L46.41,180.69 L46.68,182.51 L47.14,184.42 Z" fill="none" stroke="#9a70d8" stroke-opacity="0.3" stroke-width="0.45"/>
<path d="M49.6,178.5 C50.5,175 53,172.8 56.5,172.6 C62,172.4 66,178 65.8,184 C65.5,190 63,194 59,194.5 C55.5,195 52.5,193 51,190.5" fill="none" stroke="#f8a040" stroke-width="2.6" stroke-opacity="0.35"/>
<path d="M49.6,178.5 C50.5,175 53,172.8 56.5,172.6 C62,172.4 66,178 65.8,184 C65.5,190 63,194 59,194.5 C55.5,195 52.5,193 51,190.5" fill="none" stroke="#f7902f" stroke-width="1.5"/>
<path d="M64,176 C67,181 67,189 63,195" fill="none" stroke="#f8a050" stroke-width="0.8" stroke-opacity="0.6"/>
<path d="M47,186 C48,192 54,196 61,195" fill="none" stroke="#c04088" stroke-width="1.0" stroke-opacity="0.7"/>
<path d="M43.5,176.8 C46.5,179 47,186 46,192 C45.5,194.5 44,195 43,193" fill="none" stroke="#8a20a8" stroke-width="1.1" stroke-opacity="0.75"/>
<path d="M43.5,175.5 C38,176 36.5,183 38.5,189 C40,194 44,197 48,195.5 C50,190 48,180 43.5,175.5 Z" fill="#a070d0" fill-opacity="0.35"/>
<path d="M43.6,176.8 C40.5,176.8 39.5,181 40,186 C40.5,190.5 42.5,194.5 45.8,194.6" fill="none" stroke="#6a30c0" stroke-width="4.2" stroke-opacity="0.35" stroke-linecap="round"/>
<path d="M43.6,176.8 C40.5,176.8 39.5,181 40,186 C40.5,190.5 42.5,194.5 45.8,194.6" fill="none" stroke="#3a0c9c" stroke-width="2.6" stroke-linecap="round"/>
<path d="M44.6,177.4 L58.5,186.8 L53.5,189 L44.6,177.4" fill="#fffbd0" fill-opacity="0.5" stroke="#eef51e" stroke-width="1.6" stroke-linejoin="round"/>
<defs><radialGradient id="ccag0" gradientUnits="userSpaceOnUse" cx="168.8" cy="108.3" r="21" gradientTransform="translate(168.8 108.3) scale(1 1.15) translate(-168.8 -108.3)"><stop offset="0" stop-color="#f8a060"/><stop offset="0.5" stop-color="#f6a070"/><stop offset="0.7" stop-color="#d890b0"/><stop offset="0.85" stop-color="#8a70d8"/><stop offset="1" stop-color="#6a50d0"/></radialGradient></defs>
<path d="M149.8,126.3 C148.8,110.3 156.8,95.3 168.8,95.3 C180.8,95.3 188.8,110.3 187.8,126.3 Z" fill="url(#ccag0)" fill-opacity="0.1"/>
<path d="M185.64,120.40 L185.57,121.05 L186.11,121.57 L185.33,122.21 L184.47,123.10 L183.59,123.67 L182.81,124.24 L181.94,124.84 L180.56,125.18 L179.22,125.95 L177.78,126.12 L176.29,126.30 L175.10,126.50 L173.81,126.68 L172.62,126.43 L171.42,126.39 L169.90,126.19 L169.50,125.77 L168.74,125.33 L167.95,124.95 L168.45,124.20 L167.69,123.76 L168.22,122.98 L168.85,122.33 L168.96,121.72 L169.85,120.96 L171.21,120.38 L172.31,119.73 L173.45,119.40 L174.67,118.99 L176.10,118.50 L177.46,118.30 L178.96,118.14 L180.17,117.90 L181.62,118.11 L182.51,118.29 L183.62,118.48 L184.38,118.93 L184.92,119.30 L186.01,119.68 L186.06,120.30 Z" fill="none" stroke="#2a1a9a" stroke-opacity="0.38" stroke-width="0.4"/>
<path d="M185.37,116.09 L185.60,116.65 L185.44,117.34 L185.51,117.90 L184.95,118.84 L184.10,119.65 L183.37,120.42 L182.17,121.17 L180.87,122.24 L179.56,123.10 L178.19,123.67 L176.87,124.37 L175.36,124.85 L173.96,125.19 L172.48,125.39 L171.59,125.55 L170.56,125.52 L169.51,125.26 L168.90,125.04 L167.56,124.97 L167.46,124.37 L167.10,123.86 L167.86,122.93 L167.73,122.41 L168.15,121.62 L169.25,120.53 L170.09,119.71 L171.15,118.74 L172.27,117.99 L173.58,117.24 L174.98,116.71 L176.34,116.14 L177.89,115.64 L179.29,115.29 L180.49,114.85 L181.71,114.74 L182.57,114.82 L183.50,114.96 L185.00,114.90 L185.21,115.52 L185.40,116.08 Z" fill="none" stroke="#2a1a9a" stroke-opacity="0.38" stroke-width="0.4"/>
<path d="M187.04,119.65 L187.48,120.06 L186.98,120.74 L186.78,121.32 L185.91,121.88 L185.01,122.45 L183.62,123.15 L182.53,123.72 L181.25,124.25 L179.91,124.70 L178.40,125.03 L176.90,125.59 L175.36,125.73 L173.86,125.79 L172.83,125.85 L171.71,125.70 L170.29,125.73 L169.29,125.53 L168.45,125.21 L168.09,124.84 L168.19,124.27 L168.45,123.70 L168.15,123.19 L168.92,122.58 L169.75,121.94 L170.56,121.34 L171.36,120.79 L172.70,120.11 L174.09,119.67 L175.32,119.24 L176.82,118.59 L178.41,118.33 L179.89,118.25 L181.15,118.18 L182.37,117.96 L184.02,118.05 L185.15,118.20 L185.54,118.42 L186.98,118.62 L187.11,119.12 L187.30,119.59 Z" fill="none" stroke="#2a1a9a" stroke-opacity="0.38" stroke-width="0.4"/>
<path d="M152.17,116.75 L152.10,115.97 L153.12,115.75 L153.38,115.15 L154.58,115.06 L155.59,114.92 L157.02,115.07 L158.02,115.34 L159.41,115.77 L160.71,116.00 L162.05,116.69 L163.29,117.38 L164.53,118.04 L166.04,118.72 L166.92,119.70 L167.66,120.40 L168.60,121.40 L168.85,122.25 L169.15,122.94 L169.32,123.79 L169.11,124.38 L168.25,124.75 L168.10,125.38 L166.91,125.54 L166.54,126.03 L165.31,126.02 L164.14,125.89 L162.64,125.68 L161.39,125.42 L159.90,124.97 L158.57,124.42 L157.30,123.80 L156.04,122.75 L154.85,121.93 L154.09,121.31 L153.25,120.47 L152.12,119.47 L151.80,118.64 L151.44,117.88 L151.46,117.18 L151.52,116.46 Z" fill="none" stroke="#2a1a9a" stroke-opacity="0.38" stroke-width="0.4"/>
<path d="M151.15,116.30 L152.04,116.00 L152.40,115.38 L152.94,115.03 L154.21,115.04 L155.48,115.00 L156.67,115.12 L157.71,115.37 L159.25,115.38 L160.62,115.87 L161.90,116.55 L163.14,117.32 L164.50,118.02 L165.77,118.87 L166.52,119.67 L167.29,120.40 L168.45,121.32 L169.01,122.33 L168.81,122.82 L169.24,123.76 L169.14,124.44 L168.37,124.78 L168.18,125.37 L166.90,125.53 L166.24,125.90 L165.12,126.03 L163.94,125.90 L162.68,125.46 L161.31,125.16 L159.80,124.76 L158.48,124.11 L157.16,123.47 L155.76,122.84 L154.47,122.03 L153.88,121.31 L152.80,120.36 L152.44,119.69 L151.39,118.42 L151.50,117.86 L151.34,117.08 L151.41,116.42 Z" fill="none" stroke="#2a1a9a" stroke-opacity="0.38" stroke-width="0.4"/>
<path d="M183.76,118.49 L184.17,119.11 L183.85,119.92 L184.18,120.49 L183.24,121.52 L182.49,122.30 L181.86,122.84 L181.19,123.68 L180.01,124.56 L178.83,125.14 L177.60,125.62 L176.22,125.71 L175.06,126.35 L173.91,126.44 L172.75,126.29 L171.47,126.41 L170.21,126.28 L169.29,126.03 L169.02,125.42 L168.57,124.87 L168.06,124.29 L167.57,123.75 L167.83,122.95 L168.33,122.00 L168.72,121.40 L169.05,120.57 L170.11,119.77 L171.11,118.82 L172.25,118.38 L173.24,117.67 L174.51,117.25 L175.73,116.87 L177.11,116.53 L178.35,116.16 L179.31,116.36 L180.31,116.44 L181.73,116.53 L182.53,116.85 L183.49,117.08 L183.98,117.71 L184.09,118.37 Z" fill="none" stroke="#2a1a9a" stroke-opacity="0.38" stroke-width="0.4"/>
<path d="M151.70,120.28 L152.21,119.86 L152.32,119.35 L153.25,119.12 L154.10,118.80 L154.78,118.71 L155.89,118.57 L157.04,118.60 L158.59,118.64 L159.74,118.99 L161.17,119.11 L162.45,119.50 L163.70,119.82 L165.08,120.36 L166.19,121.04 L166.83,121.35 L167.56,122.08 L168.17,122.67 L169.15,123.27 L168.85,123.77 L169.07,124.33 L168.62,124.77 L168.47,125.25 L167.76,125.55 L166.94,125.88 L165.82,125.91 L164.85,126.16 L163.50,125.88 L162.38,125.84 L161.11,125.69 L159.66,125.58 L158.37,125.15 L156.96,124.72 L155.89,124.10 L154.80,123.71 L153.90,123.11 L152.78,122.59 L152.48,121.94 L152.04,121.43 L152.07,120.92 L151.84,120.31 Z" fill="none" stroke="#2a1a9a" stroke-opacity="0.38" stroke-width="0.4"/>
<path d="M152.25,119.82 L151.97,119.13 L152.68,118.73 L153.16,118.35 L153.84,117.86 L154.87,117.66 L156.22,117.62 L157.44,117.80 L158.62,117.90 L159.82,118.00 L161.11,118.45 L162.35,118.82 L163.53,119.37 L164.84,119.84 L165.72,120.51 L166.75,121.18 L167.22,121.68 L168.08,122.37 L168.46,123.07 L168.75,123.79 L168.53,124.35 L167.86,124.74 L167.91,125.41 L167.10,125.68 L166.11,125.89 L165.27,126.34 L164.08,126.12 L162.85,126.19 L161.78,126.29 L160.44,125.80 L159.15,125.50 L157.80,125.21 L156.45,124.85 L155.38,124.16 L154.34,123.44 L153.81,123.03 L152.88,122.22 L152.53,121.58 L151.65,120.88 L151.46,120.24 L151.94,119.73 Z" fill="none" stroke="#2a1a9a" stroke-opacity="0.38" stroke-width="0.4"/>
<path d="M185.21,116.01 L185.71,116.38 L185.90,117.00 L184.99,118.00 L184.58,118.71 L184.36,119.38 L183.09,120.32 L182.12,121.18 L180.95,121.70 L179.54,122.64 L178.17,123.24 L176.84,124.17 L175.44,124.53 L173.89,125.07 L172.53,125.40 L171.47,125.47 L170.11,125.49 L169.36,125.45 L168.29,125.33 L168.17,124.77 L167.68,124.34 L167.65,123.74 L167.54,123.12 L167.76,122.56 L168.48,121.53 L169.42,120.59 L170.13,119.99 L171.11,119.22 L172.57,118.19 L173.67,117.32 L175.06,116.68 L176.44,116.16 L177.96,115.64 L179.13,115.31 L180.56,114.80 L181.97,114.58 L182.68,114.92 L183.89,114.78 L184.49,115.10 L185.61,115.20 L185.90,115.69 Z" fill="none" stroke="#2a1a9a" stroke-opacity="0.38" stroke-width="0.4"/>
<path d="M150.43,113.25 L151.45,112.86 L151.82,112.06 L152.88,111.83 L153.74,111.49 L155.14,111.19 L156.61,111.75 L158.00,112.01 L159.55,112.61 L161.08,113.01 L162.48,114.07 L164.13,114.64 L165.26,116.06 L166.31,116.96 L167.45,118.27 L168.34,119.08 L168.86,120.62 L168.70,121.34 L169.39,122.59 L169.11,123.48 L168.66,124.25 L168.28,125.12 L167.55,125.72 L166.69,126.22 L165.49,126.11 L164.01,126.37 L162.45,126.15 L160.86,125.80 L159.54,125.28 L158.14,124.41 L156.71,123.64 L155.34,122.82 L153.80,121.78 L152.59,120.70 L151.57,119.65 L150.97,118.22 L150.71,117.34 L150.58,116.31 L149.67,114.96 L150.30,114.26 L150.26,113.15 Z" fill="none" stroke="#5a20b0" stroke-opacity="0.38" stroke-width="0.4"/>
<path d="M152.32,114.62 L153.05,113.80 L154.12,113.33 L154.73,112.59 L155.64,112.17 L156.96,111.91 L158.10,112.19 L159.80,112.49 L160.85,112.88 L162.53,113.11 L163.59,114.07 L164.94,114.61 L166.09,115.55 L166.91,116.87 L167.42,117.93 L168.29,119.11 L168.58,119.85 L168.94,121.27 L168.93,122.39 L168.71,123.47 L167.78,124.09 L167.13,124.87 L166.46,125.56 L165.64,126.43 L164.78,126.67 L163.63,126.81 L161.99,126.64 L160.69,126.74 L159.35,126.41 L157.92,125.98 L156.73,125.27 L155.61,124.48 L154.54,123.56 L153.49,122.31 L153.12,121.03 L152.37,120.31 L152.09,119.07 L151.63,117.75 L152.02,116.73 L152.27,115.85 L152.51,114.74 Z" fill="none" stroke="#5a20b0" stroke-opacity="0.38" stroke-width="0.4"/>
<path d="M154.13,111.96 L155.01,111.67 L155.94,111.32 L156.78,111.19 L157.76,110.85 L158.65,111.07 L160.16,111.23 L161.63,112.02 L162.69,112.40 L163.83,113.42 L165.09,114.34 L166.10,115.35 L167.24,116.33 L168.11,117.37 L168.81,118.68 L169.51,119.72 L169.79,120.74 L170.37,121.97 L169.91,122.77 L169.54,123.43 L169.32,124.27 L168.66,124.73 L168.00,125.25 L166.87,125.33 L166.24,125.85 L164.91,125.20 L163.74,124.89 L162.40,124.59 L161.20,123.76 L159.87,123.16 L158.56,122.40 L157.47,121.44 L156.60,120.04 L155.61,119.27 L155.03,118.18 L154.41,116.78 L153.93,115.77 L153.52,114.61 L153.69,113.70 L154.37,113.22 L154.25,112.06 Z" fill="none" stroke="#5a20b0" stroke-opacity="0.38" stroke-width="0.4"/>
<path d="M153.04,115.02 L153.96,114.32 L154.84,113.79 L155.56,112.91 L156.88,112.93 L158.12,112.64 L159.25,112.68 L160.44,112.49 L161.73,112.90 L163.04,113.67 L164.44,114.20 L165.75,114.83 L166.97,115.82 L168.06,116.79 L168.61,117.60 L169.24,118.66 L169.66,120.17 L170.28,121.46 L169.90,122.31 L169.90,123.48 L169.29,124.24 L169.08,125.23 L168.11,125.83 L167.01,126.37 L166.17,126.71 L164.69,126.72 L163.77,126.95 L161.98,126.78 L160.65,126.73 L159.43,125.84 L158.07,125.42 L156.91,124.54 L155.61,123.71 L154.52,122.83 L153.96,121.86 L153.48,120.32 L152.69,119.05 L153.03,118.34 L152.75,117.28 L152.54,115.89 L153.21,115.11 Z" fill="none" stroke="#5a20b0" stroke-opacity="0.38" stroke-width="0.4"/>
<path d="M152.17,113.52 L152.61,112.72 L153.35,112.19 L154.55,111.80 L155.24,111.37 L156.91,111.45 L158.28,111.68 L159.26,112.19 L160.74,112.65 L162.42,113.00 L163.57,114.06 L165.07,114.69 L166.15,115.98 L167.16,116.73 L168.09,118.42 L168.92,119.42 L168.98,120.45 L169.55,121.64 L169.58,122.65 L169.24,123.47 L169.28,124.57 L168.60,125.17 L167.44,125.61 L166.57,126.02 L165.39,126.11 L164.05,126.12 L162.70,126.08 L161.30,125.79 L160.05,125.32 L158.72,124.53 L157.26,123.83 L156.04,122.90 L155.01,121.79 L153.72,120.87 L152.94,119.83 L152.27,118.33 L152.11,117.54 L151.38,116.24 L151.82,115.52 L151.59,114.22 L152.01,113.42 Z" fill="none" stroke="#5a20b0" stroke-opacity="0.38" stroke-width="0.4"/>
<path d="M151.71,116.22 L151.67,115.32 L152.90,115.12 L153.65,114.67 L154.32,114.30 L155.52,114.16 L156.63,113.87 L158.12,114.10 L159.30,114.70 L160.58,115.26 L161.86,115.78 L163.20,116.41 L164.28,117.26 L165.55,117.80 L166.52,118.88 L167.25,119.98 L167.43,120.89 L167.81,121.79 L168.10,122.73 L167.83,123.37 L167.81,124.28 L167.64,125.10 L166.99,125.64 L165.92,125.81 L165.26,126.28 L164.03,126.42 L162.73,126.37 L161.37,126.07 L159.95,125.64 L158.60,125.33 L157.30,124.87 L156.17,123.94 L154.91,123.53 L153.61,122.48 L153.23,121.41 L152.27,120.48 L151.50,119.54 L151.12,118.60 L151.22,117.74 L151.34,116.95 L151.60,116.16 Z" fill="none" stroke="#5a20b0" stroke-opacity="0.38" stroke-width="0.4"/>
<path d="M185.04,114.52 L185.24,115.65 L185.80,116.50 L186.00,117.58 L185.77,118.61 L185.03,120.14 L184.64,121.11 L183.93,122.17 L182.97,123.42 L182.07,124.51 L180.74,125.18 L179.58,126.18 L177.98,126.24 L176.84,126.86 L175.39,126.70 L173.95,127.30 L173.11,126.62 L171.63,126.40 L171.11,125.70 L169.70,125.27 L169.58,124.10 L169.08,123.09 L168.89,122.10 L168.35,121.34 L168.99,119.94 L169.21,118.63 L169.55,117.84 L170.40,116.24 L171.37,115.47 L172.51,114.55 L173.70,113.82 L174.73,112.78 L176.14,112.08 L177.39,111.77 L179.01,111.89 L180.14,111.75 L181.67,112.06 L182.28,112.41 L183.24,113.07 L184.30,113.75 L184.88,114.62 Z" fill="none" stroke="#5a20b0" stroke-opacity="0.38" stroke-width="0.4"/>
<path d="M150.00,115.71 L150.62,115.12 L151.88,114.81 L152.49,114.13 L153.51,114.05 L154.97,113.66 L156.04,113.84 L157.28,113.61 L158.92,114.17 L160.31,114.77 L161.72,115.50 L163.33,115.87 L164.69,116.81 L166.05,117.65 L166.88,118.88 L167.98,119.89 L168.17,120.60 L168.92,121.69 L169.11,122.61 L168.95,123.37 L169.12,124.37 L168.88,125.14 L167.65,125.55 L167.20,126.26 L166.17,126.46 L164.91,126.69 L163.46,126.72 L162.12,126.35 L160.38,126.07 L158.94,125.62 L157.55,124.68 L156.00,124.38 L154.67,123.08 L153.50,122.52 L152.48,121.31 L151.25,120.43 L150.97,119.55 L150.43,118.57 L149.76,117.40 L150.27,116.72 L150.01,115.71 Z" fill="none" stroke="#5a20b0" stroke-opacity="0.38" stroke-width="0.4"/>
<path d="M184.99,114.85 L185.31,115.79 L185.63,116.55 L185.39,117.73 L185.59,118.66 L184.70,120.14 L184.00,121.12 L183.42,122.12 L182.29,122.81 L181.43,124.06 L180.08,124.63 L178.96,125.48 L177.38,125.82 L176.20,126.60 L174.90,126.43 L173.61,126.77 L172.62,126.24 L171.56,126.09 L170.73,125.52 L169.74,125.06 L169.44,124.13 L168.38,123.67 L168.41,122.67 L168.34,121.62 L168.64,120.37 L169.30,119.09 L170.20,118.32 L170.64,116.97 L171.49,116.00 L172.68,115.04 L174.12,114.64 L175.21,113.62 L176.56,113.21 L177.91,113.02 L179.20,112.67 L180.57,112.78 L181.38,112.98 L182.85,112.90 L183.47,113.66 L184.43,114.13 L185.06,114.81 Z" fill="none" stroke="#5a20b0" stroke-opacity="0.38" stroke-width="0.4"/>
<path d="M148.50,110.14 L148.96,109.26 L150.20,108.95 L151.84,108.86 L152.43,108.19 L154.03,108.62 L155.66,109.15 L157.42,109.53 L159.04,110.08 L160.41,111.14 L162.12,112.17 L163.60,113.35 L165.08,114.58 L166.15,115.70 L167.03,117.15 L168.14,118.42 L168.92,120.05 L168.95,121.23 L169.09,122.38 L168.89,123.41 L168.16,124.11 L167.64,124.90 L166.40,125.32 L165.50,125.82 L164.62,126.22 L162.82,125.99 L161.53,125.40 L159.88,125.13 L158.01,124.44 L156.30,123.70 L154.97,122.23 L153.22,121.35 L152.05,120.18 L150.63,118.69 L149.83,117.25 L148.93,115.78 L148.17,114.31 L147.94,113.32 L148.19,112.23 L147.72,110.85 L148.48,110.12 Z" fill="none" stroke="#8a30b0" stroke-opacity="0.38" stroke-width="0.4"/>
<path d="M184.30,108.99 L185.22,109.98 L185.58,111.43 L186.27,112.71 L186.05,114.27 L186.03,115.70 L186.01,117.09 L185.05,118.78 L184.30,120.00 L183.15,121.35 L181.96,122.67 L180.64,123.88 L179.26,124.67 L178.13,125.78 L176.45,126.55 L174.55,126.77 L172.83,126.65 L171.47,126.59 L170.72,125.70 L168.94,125.45 L168.53,123.99 L167.15,123.40 L166.46,122.42 L166.78,120.41 L166.45,118.77 L166.41,117.85 L166.98,116.07 L167.12,114.46 L168.02,113.23 L169.04,111.73 L170.40,110.52 L171.26,108.98 L173.03,108.07 L174.60,107.87 L176.02,107.30 L178.00,106.87 L179.17,106.69 L180.36,107.32 L182.23,107.21 L183.16,108.12 L184.35,108.93 Z" fill="none" stroke="#8a30b0" stroke-opacity="0.38" stroke-width="0.4"/>
<path d="M184.28,109.96 L184.96,110.61 L185.31,111.61 L185.68,112.56 L185.65,113.81 L185.01,115.37 L184.37,116.63 L183.87,117.75 L183.06,119.22 L181.94,120.23 L180.76,121.47 L179.47,122.60 L178.34,123.69 L177.18,124.24 L175.74,124.94 L174.34,125.49 L173.12,125.48 L171.87,125.67 L170.55,125.64 L169.85,124.93 L169.42,123.98 L168.83,123.22 L168.29,122.43 L167.94,121.72 L168.08,120.45 L168.27,118.86 L168.77,117.80 L169.22,116.41 L170.43,115.03 L171.53,114.03 L172.54,112.76 L173.75,111.76 L175.20,110.73 L176.37,109.90 L177.65,109.20 L179.12,108.77 L180.17,108.81 L181.37,108.80 L182.68,108.75 L183.16,109.66 L184.51,109.75 Z" fill="none" stroke="#8a30b0" stroke-opacity="0.38" stroke-width="0.4"/>
<path d="M150.58,106.23 L152.03,105.87 L152.75,104.51 L154.59,104.72 L155.46,104.33 L157.78,104.66 L159.34,104.86 L160.93,105.66 L162.64,106.58 L163.86,108.20 L165.30,109.48 L166.64,111.01 L167.54,112.58 L168.90,113.66 L169.56,115.42 L169.51,117.21 L170.24,119.00 L169.62,120.40 L169.44,122.03 L168.49,122.88 L168.15,124.44 L167.00,125.12 L165.48,125.49 L164.02,125.66 L162.85,126.50 L161.36,126.11 L159.63,125.65 L157.61,124.51 L156.36,123.75 L154.80,122.30 L153.37,120.99 L151.78,119.67 L150.90,118.10 L149.99,116.27 L149.14,114.54 L148.60,113.31 L148.70,111.44 L148.40,109.81 L148.95,108.34 L149.39,106.86 L150.19,105.82 Z" fill="none" stroke="#8a30b0" stroke-opacity="0.38" stroke-width="0.4"/>
<path d="M153.20,107.56 L154.18,107.09 L154.83,106.27 L156.04,106.16 L157.29,105.86 L158.94,106.17 L160.22,106.63 L161.59,107.82 L163.46,108.78 L164.67,109.77 L165.92,111.25 L167.58,112.20 L168.64,113.75 L169.05,115.33 L170.03,116.63 L170.45,118.03 L170.74,119.59 L170.76,121.24 L170.92,122.79 L170.24,123.64 L169.71,124.58 L168.23,124.64 L167.38,125.13 L166.16,125.49 L165.11,125.96 L163.77,125.55 L162.25,124.64 L160.60,124.06 L158.82,123.16 L157.75,121.69 L156.43,120.46 L154.87,119.37 L154.04,117.86 L153.01,116.25 L152.40,114.78 L152.33,113.36 L151.77,111.76 L151.50,110.19 L151.65,108.94 L152.65,108.53 L153.08,107.43 Z" fill="none" stroke="#8a30b0" stroke-opacity="0.38" stroke-width="0.4"/>
<path d="M152.40,106.39 L153.38,105.55 L155.00,105.52 L156.15,105.03 L157.53,104.69 L159.34,105.12 L160.49,105.38 L162.44,106.47 L164.25,107.02 L165.34,108.36 L166.46,109.94 L168.09,110.90 L168.74,112.95 L169.48,114.64 L170.16,116.10 L170.43,117.32 L170.75,119.41 L170.22,120.44 L169.95,122.03 L169.02,122.91 L168.01,123.86 L167.26,124.96 L165.70,125.29 L165.05,126.25 L162.93,125.81 L161.46,125.47 L160.10,125.26 L158.50,124.10 L156.56,123.78 L155.69,122.18 L154.07,121.00 L152.82,119.68 L151.71,118.13 L150.95,116.63 L150.44,114.49 L150.47,113.24 L150.37,111.76 L150.23,109.80 L150.56,108.09 L151.31,107.22 L152.71,106.73 Z" fill="none" stroke="#8a30b0" stroke-opacity="0.38" stroke-width="0.4"/>
<path d="M150.45,104.82 L151.33,104.26 L152.72,104.31 L154.26,104.43 L155.32,104.43 L156.64,104.41 L158.33,105.69 L159.62,106.36 L161.38,107.68 L162.70,108.87 L164.41,110.15 L165.81,111.68 L166.98,113.20 L167.88,114.82 L168.70,116.72 L168.88,118.37 L169.05,119.52 L168.89,120.91 L169.12,122.42 L168.64,123.57 L167.52,123.94 L166.87,124.83 L165.51,124.79 L164.28,125.01 L163.22,125.06 L161.66,124.75 L160.38,124.24 L158.76,123.04 L157.42,121.88 L155.67,120.58 L154.09,119.35 L152.78,117.73 L152.03,115.90 L150.86,114.53 L149.79,112.75 L149.60,111.27 L149.59,109.78 L149.72,108.66 L149.72,107.14 L150.09,106.03 L150.40,104.76 Z" fill="none" stroke="#8a30b0" stroke-opacity="0.38" stroke-width="0.4"/>
<path d="M184.73,110.85 L185.04,111.98 L185.23,113.21 L185.78,114.24 L185.77,115.47 L185.04,116.87 L184.62,118.51 L183.53,119.49 L182.95,121.12 L181.68,121.94 L180.62,123.39 L178.96,123.97 L177.52,124.94 L176.47,125.66 L174.68,125.95 L173.12,126.20 L172.17,125.97 L170.60,125.88 L169.61,125.64 L168.65,124.98 L167.61,124.38 L167.53,123.03 L166.72,122.38 L166.81,120.81 L166.55,120.11 L167.02,118.48 L167.91,117.26 L168.43,115.66 L169.35,114.51 L170.67,113.39 L171.79,112.22 L172.93,111.00 L174.26,110.22 L175.80,109.67 L177.36,109.39 L179.03,109.33 L180.45,108.82 L181.37,109.34 L182.65,109.60 L183.34,110.57 L184.26,111.22 Z" fill="none" stroke="#8a30b0" stroke-opacity="0.38" stroke-width="0.4"/>
<path d="M183.92,109.35 L184.91,110.32 L185.15,111.73 L185.47,112.85 L185.49,114.34 L185.64,115.79 L185.25,117.17 L184.80,118.74 L183.81,119.96 L182.82,121.64 L181.81,123.13 L180.50,124.21 L178.74,124.81 L177.25,125.74 L175.61,125.87 L173.82,126.64 L172.93,126.31 L171.12,126.25 L170.06,125.78 L168.82,125.04 L167.33,124.65 L167.03,123.20 L166.20,122.11 L166.08,120.66 L166.01,118.96 L165.98,117.55 L166.44,116.01 L167.43,114.66 L167.75,113.20 L168.99,111.84 L170.39,110.75 L171.45,109.40 L173.22,108.62 L174.81,107.95 L176.34,107.40 L177.77,107.09 L179.36,107.08 L180.60,107.17 L181.71,107.93 L183.27,108.16 L184.22,109.08 Z" fill="none" stroke="#8a30b0" stroke-opacity="0.38" stroke-width="0.4"/>
<path d="M151.18,101.84 L152.53,101.57 L154.35,101.65 L155.72,101.58 L156.95,101.31 L158.39,102.10 L159.83,102.77 L161.97,103.47 L163.62,105.29 L164.68,106.93 L166.24,108.37 L167.22,110.24 L168.50,111.87 L169.06,114.11 L169.95,115.53 L169.91,117.14 L169.90,118.84 L169.95,121.08 L169.51,122.55 L168.51,123.04 L167.84,124.41 L166.70,124.95 L165.00,124.78 L163.57,125.24 L162.39,125.22 L160.53,124.76 L158.93,123.67 L157.14,122.73 L155.59,121.67 L154.42,119.69 L152.94,118.18 L151.93,116.36 L151.13,114.49 L149.83,112.79 L149.53,110.72 L149.09,108.99 L148.81,107.07 L149.21,105.44 L150.07,104.64 L150.15,102.72 L151.75,102.61 Z" fill="none" stroke="#c05090" stroke-opacity="0.38" stroke-width="0.4"/>
<path d="M184.92,105.82 L186.05,106.74 L186.53,108.13 L187.49,109.11 L187.61,110.90 L187.46,112.60 L187.32,114.57 L186.99,116.17 L186.20,117.65 L184.91,119.02 L183.83,120.67 L182.78,122.41 L181.31,123.63 L179.70,124.48 L177.55,125.29 L176.46,125.41 L174.49,125.85 L173.38,125.81 L171.60,125.49 L170.51,124.82 L169.32,124.01 L168.08,123.31 L167.28,121.97 L167.05,120.09 L166.96,118.99 L166.40,117.55 L166.99,115.83 L167.38,114.16 L168.24,112.45 L168.98,110.51 L170.28,109.05 L171.46,107.63 L173.36,106.57 L174.54,105.28 L175.93,104.71 L178.39,104.07 L179.60,104.21 L181.13,104.21 L182.70,104.23 L183.84,104.92 L185.06,105.66 Z" fill="none" stroke="#c05090" stroke-opacity="0.38" stroke-width="0.4"/>
<path d="M178.03,104.87 L179.34,104.85 L179.69,106.18 L180.62,106.77 L181.09,107.88 L180.93,109.67 L181.37,110.88 L181.02,112.74 L180.95,114.37 L179.97,115.89 L179.71,117.70 L178.71,119.12 L177.57,120.49 L176.34,121.69 L175.48,122.92 L174.16,123.33 L172.83,124.67 L171.81,124.25 L170.35,124.96 L169.18,124.63 L168.26,124.10 L167.16,123.92 L166.37,122.95 L165.93,121.98 L165.52,120.52 L165.24,119.25 L165.19,117.38 L165.21,115.87 L165.68,114.35 L166.43,112.96 L167.20,111.34 L168.12,109.77 L168.90,108.27 L169.88,107.22 L171.13,106.01 L172.18,105.39 L173.33,104.57 L174.80,104.22 L175.83,104.19 L177.09,104.27 L178.40,104.15 Z" fill="none" stroke="#c05090" stroke-opacity="0.38" stroke-width="0.4"/>
<path d="M184.71,103.83 L185.35,105.44 L186.18,106.77 L186.50,108.30 L187.18,110.04 L186.76,111.54 L186.89,113.60 L186.79,115.21 L185.86,116.79 L184.57,118.42 L183.57,120.29 L182.50,122.03 L180.58,123.16 L178.74,124.15 L177.65,124.80 L175.77,125.89 L173.97,126.03 L172.54,125.52 L170.35,126.12 L169.20,125.19 L167.65,124.77 L166.57,123.69 L166.05,122.12 L165.99,120.16 L165.22,118.73 L165.14,116.73 L165.09,115.38 L165.88,113.28 L166.74,111.48 L167.55,109.79 L168.74,108.20 L170.05,106.77 L171.69,105.53 L172.98,104.22 L174.99,103.69 L176.34,102.90 L178.39,102.55 L180.25,102.57 L181.62,102.94 L183.42,102.95 L184.61,103.95 Z" fill="none" stroke="#c05090" stroke-opacity="0.38" stroke-width="0.4"/>
<path d="M153.47,104.68 L154.08,103.67 L155.43,103.43 L157.00,103.69 L158.34,103.89 L159.58,103.87 L161.20,105.14 L162.44,105.55 L164.12,106.97 L165.71,108.10 L166.87,109.79 L168.12,111.37 L169.29,112.76 L170.25,114.87 L170.76,116.78 L171.00,118.46 L171.28,119.84 L171.34,121.45 L170.85,122.79 L170.25,123.75 L169.08,124.11 L168.44,125.21 L167.30,125.58 L165.62,124.93 L164.48,125.07 L162.91,124.37 L161.05,123.77 L159.49,122.95 L158.03,121.87 L156.94,120.28 L155.79,118.69 L154.41,117.25 L153.24,115.91 L152.80,113.73 L151.80,111.80 L151.85,110.54 L151.57,109.33 L151.43,107.45 L152.07,106.47 L152.06,104.72 L152.82,103.87 Z" fill="none" stroke="#c05090" stroke-opacity="0.38" stroke-width="0.4"/>
<path d="M152.42,103.49 L154.26,103.46 L155.12,102.20 L156.99,102.57 L159.13,102.56 L160.29,102.46 L162.11,103.48 L163.73,104.49 L165.00,105.56 L166.86,106.71 L168.01,108.38 L169.71,109.69 L170.07,111.73 L170.99,113.46 L171.41,115.34 L171.90,117.04 L171.54,119.17 L171.02,120.11 L170.78,122.13 L169.49,122.99 L168.81,124.47 L167.24,124.94 L166.06,125.51 L164.53,126.24 L162.48,125.41 L161.04,124.95 L159.35,125.18 L157.92,123.73 L156.22,122.53 L154.55,121.35 L153.10,120.03 L152.38,118.04 L151.36,116.11 L150.37,115.04 L150.15,112.74 L149.73,110.47 L149.46,109.11 L149.94,107.33 L150.83,106.18 L151.98,105.32 L152.87,104.07 Z" fill="none" stroke="#c05090" stroke-opacity="0.38" stroke-width="0.4"/>
<path d="M183.90,99.69 L185.44,99.90 L186.14,101.37 L186.58,103.31 L187.31,104.50 L187.41,105.87 L187.16,108.12 L186.89,110.31 L185.93,112.58 L185.09,114.34 L183.72,116.32 L182.76,118.49 L181.19,119.90 L179.95,121.68 L178.24,123.05 L176.17,124.31 L174.75,124.74 L172.81,125.26 L171.62,124.77 L170.04,124.68 L168.91,123.73 L167.37,123.63 L166.37,122.43 L165.84,121.12 L165.45,119.61 L165.45,116.97 L165.30,115.43 L165.62,113.12 L166.56,111.15 L167.43,108.79 L169.05,107.18 L169.77,104.91 L171.90,103.32 L172.88,101.69 L175.15,100.26 L176.44,99.61 L178.62,98.62 L179.51,98.75 L181.02,98.89 L183.04,98.36 L184.08,99.42 Z" fill="none" stroke="#c05090" stroke-opacity="0.38" stroke-width="0.4"/>
<path d="M179.02,104.21 L180.47,104.62 L181.90,105.45 L182.64,107.33 L183.32,108.09 L183.87,110.48 L183.91,111.34 L184.37,113.40 L184.15,115.27 L183.26,116.74 L183.02,118.74 L181.89,120.15 L180.85,121.71 L179.12,122.65 L177.99,123.58 L176.73,124.33 L174.49,125.24 L173.17,125.44 L171.88,124.86 L169.92,125.13 L168.87,123.89 L167.23,123.75 L166.16,122.77 L165.53,120.82 L164.56,120.11 L164.05,117.74 L163.80,116.14 L164.08,114.62 L163.69,112.85 L164.56,111.23 L165.36,109.64 L165.89,107.94 L167.08,106.44 L168.42,105.32 L169.96,104.68 L171.57,103.87 L173.34,103.02 L174.69,103.11 L176.41,102.56 L177.80,103.28 L179.44,103.39 Z" fill="none" stroke="#c05090" stroke-opacity="0.38" stroke-width="0.4"/>
<path d="M179.17,102.46 L180.51,102.87 L181.31,104.02 L182.09,105.83 L183.16,106.50 L183.21,108.43 L183.50,110.00 L183.09,111.92 L182.84,113.65 L182.26,115.38 L181.52,117.07 L180.93,118.99 L179.71,120.43 L178.14,121.67 L177.11,122.71 L175.89,123.47 L173.88,124.67 L172.61,124.88 L171.07,125.38 L169.76,124.66 L168.22,124.84 L167.20,123.77 L166.51,122.14 L165.35,121.88 L165.10,119.72 L164.36,118.45 L164.43,116.67 L164.67,114.93 L165.08,113.15 L165.07,111.20 L165.91,109.43 L166.87,107.76 L167.94,106.33 L168.98,104.76 L170.70,103.92 L172.18,102.40 L173.40,102.60 L175.04,101.77 L176.81,101.43 L177.88,102.13 L179.08,102.66 Z" fill="none" stroke="#c05090" stroke-opacity="0.38" stroke-width="0.4"/>
<path d="M175.48,101.16 L177.54,101.21 L179.46,102.07 L180.37,103.93 L182.09,105.31 L182.52,107.12 L183.28,108.70 L184.36,110.69 L184.23,112.79 L183.76,114.61 L184.05,116.71 L183.15,118.46 L182.20,120.10 L180.67,121.61 L179.08,122.70 L177.78,123.62 L175.40,124.63 L173.23,124.95 L171.47,124.77 L169.29,125.17 L167.61,124.23 L165.60,123.83 L164.24,122.26 L162.59,121.40 L161.31,119.88 L160.11,118.13 L158.95,116.16 L158.55,113.94 L158.54,111.89 L159.06,110.16 L159.24,108.25 L160.68,106.72 L161.38,104.79 L162.77,103.31 L163.87,102.43 L165.89,101.45 L167.81,101.03 L169.66,99.85 L171.80,99.81 L173.78,99.87 L175.53,101.00 Z" fill="none" stroke="#e07070" stroke-opacity="0.38" stroke-width="0.4"/>
<path d="M159.80,105.97 L161.19,104.76 L163.19,104.87 L164.97,104.77 L166.30,105.02 L168.16,105.21 L169.99,105.67 L170.74,106.46 L172.41,107.48 L173.03,109.00 L174.54,110.09 L174.41,111.83 L174.58,113.50 L175.25,114.86 L174.80,116.30 L173.71,118.31 L173.34,120.15 L172.05,121.01 L170.94,122.34 L169.55,123.18 L168.22,124.37 L166.46,124.73 L164.88,125.55 L162.85,125.35 L161.46,125.48 L159.86,124.77 L157.79,124.15 L157.18,123.21 L155.25,122.55 L154.31,121.02 L153.71,119.61 L153.33,117.96 L152.76,116.55 L152.86,115.02 L152.79,113.43 L153.64,111.89 L154.77,110.40 L155.79,108.97 L156.79,107.41 L158.03,106.13 L159.58,105.48 Z" fill="none" stroke="#e07070" stroke-opacity="0.38" stroke-width="0.4"/>
<path d="M160.59,99.75 L162.48,99.73 L164.28,99.92 L165.77,99.69 L167.96,100.14 L169.24,100.95 L170.51,101.98 L172.02,103.53 L173.11,105.46 L174.48,106.93 L174.56,109.01 L175.46,110.75 L175.68,112.71 L175.45,114.97 L174.83,116.57 L174.66,118.68 L173.09,119.86 L172.05,121.23 L170.77,122.85 L169.32,123.95 L167.72,124.51 L166.11,125.04 L163.98,124.23 L162.10,124.44 L160.78,123.91 L159.09,123.26 L157.37,121.83 L156.02,120.25 L154.44,118.79 L154.40,116.84 L153.03,115.21 L152.83,113.23 L152.26,111.37 L152.62,109.32 L152.79,107.45 L153.85,105.56 L154.51,103.64 L156.23,102.54 L157.40,100.95 L158.84,100.03 L160.45,99.26 Z" fill="none" stroke="#e07070" stroke-opacity="0.38" stroke-width="0.4"/>
<path d="M174.44,106.02 L176.02,106.10 L177.20,107.44 L178.23,108.34 L179.34,109.36 L180.11,110.69 L180.99,112.03 L181.67,113.15 L181.46,114.58 L181.88,116.33 L181.03,117.63 L180.81,119.15 L179.70,120.32 L178.92,121.57 L178.39,122.63 L176.70,123.60 L175.61,123.84 L173.97,124.36 L172.31,125.06 L170.98,124.29 L169.47,123.88 L168.02,123.32 L166.71,123.00 L165.33,121.95 L164.53,120.71 L163.41,119.75 L163.00,118.24 L162.27,116.82 L162.30,115.47 L162.20,113.88 L162.83,112.57 L162.91,111.11 L164.10,109.96 L164.38,108.40 L165.49,107.38 L167.30,106.51 L168.50,105.99 L169.83,105.39 L171.55,105.18 L172.92,105.96 L174.56,105.61 Z" fill="none" stroke="#e07070" stroke-opacity="0.38" stroke-width="0.4"/>
<path d="M174.39,99.22 L176.74,100.41 L179.11,101.38 L181.18,101.89 L183.49,103.25 L184.17,105.04 L185.76,107.00 L187.31,109.32 L186.75,110.86 L187.18,113.11 L186.93,115.06 L187.06,117.13 L185.95,118.78 L184.90,120.49 L182.33,122.14 L180.27,123.01 L178.72,123.82 L176.14,124.60 L173.80,124.13 L171.30,124.73 L168.98,124.06 L166.42,124.11 L164.29,122.34 L162.03,121.10 L160.62,119.61 L158.31,118.08 L157.93,116.22 L157.03,114.30 L156.22,112.37 L156.03,110.44 L156.30,108.39 L156.15,106.24 L157.11,104.53 L158.38,103.01 L160.49,101.54 L162.85,100.62 L164.32,99.88 L166.88,99.13 L169.45,98.78 L171.94,99.18 L174.36,99.38 Z" fill="none" stroke="#e07070" stroke-opacity="0.38" stroke-width="0.4"/>
<path d="M172.33,97.80 L174.30,97.55 L175.80,98.99 L177.35,100.12 L179.07,101.48 L180.29,102.65 L181.20,104.43 L181.13,106.82 L181.72,108.83 L182.47,110.93 L181.78,112.97 L181.92,115.11 L180.35,117.10 L180.05,118.66 L178.57,120.34 L176.90,121.52 L175.35,122.86 L173.10,123.51 L171.60,123.93 L169.43,125.10 L167.59,124.54 L165.94,123.52 L164.15,123.64 L162.58,122.03 L161.23,120.17 L160.10,119.33 L158.96,116.79 L158.35,115.20 L157.61,112.83 L158.34,110.90 L158.15,108.79 L158.62,106.71 L159.05,104.58 L161.02,103.03 L162.33,101.13 L163.59,100.15 L164.80,98.66 L166.78,98.45 L168.62,97.03 L170.38,97.83 L172.46,97.08 Z" fill="none" stroke="#e07070" stroke-opacity="0.38" stroke-width="0.4"/>
<path d="M160.65,103.95 L162.19,103.67 L163.76,103.47 L165.56,103.42 L167.04,103.65 L168.70,104.27 L170.25,105.32 L171.36,106.15 L172.42,107.34 L173.01,109.01 L174.42,110.32 L174.15,112.16 L175.16,113.53 L175.16,115.30 L174.13,117.14 L173.93,118.97 L173.07,119.93 L172.55,121.60 L171.19,122.62 L169.64,123.16 L168.48,124.51 L166.85,124.53 L165.32,125.13 L163.76,124.98 L162.00,124.56 L160.73,123.76 L158.68,122.89 L157.62,122.10 L156.70,120.74 L155.25,119.37 L154.55,117.89 L154.09,116.30 L154.55,114.27 L154.12,112.88 L154.43,110.75 L154.75,109.45 L156.05,108.34 L156.71,106.94 L157.64,105.32 L159.17,104.73 L160.76,104.25 Z" fill="none" stroke="#e07070" stroke-opacity="0.38" stroke-width="0.4"/>
<path d="M182.97,99.78 L184.38,100.24 L185.42,100.86 L185.80,102.81 L186.35,104.21 L186.82,106.18 L186.67,108.33 L186.75,110.25 L185.90,112.19 L184.66,114.08 L184.30,116.45 L182.91,118.20 L181.59,119.74 L179.85,121.68 L178.53,122.43 L177.01,123.61 L175.03,124.66 L173.61,125.07 L171.68,125.58 L170.47,124.88 L169.18,124.28 L167.73,124.07 L167.15,122.25 L166.28,120.90 L165.66,119.26 L165.74,117.77 L165.96,115.50 L166.10,113.52 L166.93,111.62 L166.98,109.24 L168.38,107.49 L169.31,105.40 L170.76,103.74 L172.25,102.49 L174.12,100.76 L175.10,100.17 L177.03,99.36 L179.00,98.88 L180.43,98.37 L182.13,98.48 L183.07,99.61 Z" fill="none" stroke="#e07070" stroke-opacity="0.38" stroke-width="0.4"/>
<path d="M160.89,99.49 L163.16,98.81 L165.79,98.74 L168.39,99.47 L170.80,99.94 L172.36,99.98 L174.10,101.01 L176.18,102.73 L177.20,104.39 L178.29,105.91 L179.44,107.64 L179.81,109.53 L180.02,111.67 L179.44,113.44 L178.62,115.89 L178.10,117.54 L176.20,119.67 L174.29,120.49 L172.29,121.84 L170.39,122.92 L168.29,124.34 L165.99,124.94 L163.66,125.06 L160.74,124.61 L158.72,124.86 L156.91,124.10 L155.15,122.50 L152.76,121.77 L151.99,120.11 L150.67,118.36 L150.23,116.33 L149.36,114.48 L150.01,112.15 L149.68,110.15 L150.99,107.99 L151.19,106.34 L153.13,104.85 L154.70,102.71 L156.62,102.14 L158.59,100.25 L161.12,100.25 Z" fill="none" stroke="#e07070" stroke-opacity="0.38" stroke-width="0.4"/>
<path d="M160.92,94.92 L162.49,94.76 L164.23,95.09 L165.66,94.43 L167.35,96.23 L169.18,97.45 L170.55,98.88 L172.15,99.85 L173.00,102.14 L173.96,104.54 L174.86,106.71 L174.98,109.22 L175.64,111.46 L175.35,113.52 L175.76,116.13 L174.91,117.54 L174.41,119.66 L172.98,121.31 L172.16,123.24 L170.82,124.32 L169.02,123.70 L167.82,125.12 L165.88,124.26 L164.52,124.32 L162.43,123.08 L161.14,122.29 L159.50,120.43 L158.54,118.77 L156.63,116.65 L156.39,114.37 L155.52,112.15 L154.23,110.02 L154.38,107.34 L154.33,105.29 L154.87,102.91 L154.69,100.53 L155.86,99.60 L156.98,97.71 L158.09,96.65 L159.42,95.74 L160.97,95.10 Z" fill="none" stroke="#f09050" stroke-opacity="0.38" stroke-width="0.4"/>
<path d="M157.60,98.25 L160.07,97.43 L162.96,97.84 L164.99,96.65 L167.14,97.37 L169.02,98.10 L171.86,99.01 L173.76,100.41 L175.77,101.92 L176.48,103.70 L177.90,105.52 L178.08,107.85 L178.84,109.65 L178.39,111.74 L177.39,114.06 L176.79,116.73 L175.80,118.75 L174.04,120.19 L171.95,121.33 L169.74,122.96 L167.80,124.79 L165.19,125.24 L162.86,125.26 L160.34,125.73 L157.99,125.39 L155.23,124.92 L153.97,123.49 L151.50,122.42 L150.77,120.59 L149.12,118.83 L147.05,117.38 L146.68,115.23 L146.78,112.98 L146.73,110.77 L148.04,108.55 L149.12,106.62 L149.96,103.69 L151.21,102.64 L153.67,101.11 L155.53,99.72 L157.82,98.82 Z" fill="none" stroke="#f09050" stroke-opacity="0.38" stroke-width="0.4"/>
<path d="M168.30,105.48 L170.24,105.00 L172.14,105.90 L173.88,105.98 L175.46,107.31 L176.64,108.19 L178.40,109.51 L179.48,110.58 L179.42,112.13 L179.57,113.50 L180.25,115.03 L180.50,116.55 L179.68,118.02 L179.06,119.41 L177.22,120.53 L176.68,122.07 L174.69,122.37 L173.40,123.18 L171.35,123.60 L169.56,124.23 L167.75,124.07 L165.95,123.85 L164.10,123.50 L162.30,122.94 L160.77,122.14 L158.94,120.89 L158.02,120.18 L157.35,118.51 L156.41,117.43 L155.58,115.77 L156.32,114.33 L155.98,112.81 L156.75,111.48 L157.13,109.93 L158.23,108.65 L159.99,107.71 L160.85,107.04 L162.54,105.61 L164.43,105.79 L166.43,105.42 L168.31,105.33 Z" fill="none" stroke="#f09050" stroke-opacity="0.38" stroke-width="0.4"/>
<path d="M169.92,103.94 L171.88,104.28 L173.69,104.73 L175.43,105.24 L176.96,106.45 L178.83,107.63 L179.82,108.88 L180.39,110.41 L181.16,112.30 L181.85,113.86 L181.80,115.47 L180.70,117.05 L180.03,118.61 L179.78,120.03 L178.74,121.50 L176.99,121.98 L175.35,123.51 L173.53,124.22 L171.73,124.45 L169.83,124.46 L167.71,124.50 L165.65,124.13 L163.64,123.65 L162.22,122.16 L160.72,121.33 L158.67,120.22 L157.89,118.94 L157.43,117.66 L156.45,116.04 L156.31,114.31 L156.15,112.72 L156.13,111.06 L156.80,109.47 L157.93,108.43 L158.99,106.94 L160.25,106.09 L162.20,105.17 L163.75,104.71 L165.74,103.97 L167.96,103.79 L169.91,104.02 Z" fill="none" stroke="#f09050" stroke-opacity="0.38" stroke-width="0.4"/>
<path d="M168.24,99.22 L170.87,98.90 L173.17,99.33 L175.63,100.87 L177.99,101.64 L180.64,102.92 L181.89,104.38 L183.37,105.77 L184.67,107.84 L183.98,109.83 L185.00,111.78 L184.00,113.77 L183.89,115.78 L182.75,117.59 L181.50,119.50 L180.43,120.49 L177.72,121.67 L176.06,122.96 L173.11,123.26 L170.58,124.53 L168.06,124.19 L165.36,124.39 L162.68,123.18 L160.21,122.71 L157.82,121.79 L156.50,120.50 L154.52,118.74 L153.66,117.04 L152.04,115.60 L152.13,113.60 L151.41,111.55 L151.97,109.65 L151.85,107.48 L153.07,105.82 L154.01,103.87 L156.88,102.56 L158.69,100.99 L160.88,100.65 L163.01,99.60 L165.62,99.22 L168.24,99.48 Z" fill="none" stroke="#f09050" stroke-opacity="0.38" stroke-width="0.4"/>
<path d="M172.84,94.97 L175.28,96.30 L177.84,97.32 L179.83,97.57 L182.56,99.60 L183.88,100.85 L185.27,103.48 L186.91,105.27 L186.87,107.52 L186.79,109.48 L186.84,111.86 L186.91,114.20 L185.72,116.41 L184.51,118.43 L182.86,119.54 L181.40,121.05 L179.14,123.25 L176.62,123.87 L174.53,124.23 L172.03,123.86 L169.35,124.22 L166.69,124.28 L164.60,122.50 L162.30,121.30 L159.53,120.52 L157.73,119.14 L156.38,116.45 L155.63,114.91 L154.69,112.74 L155.00,110.25 L154.41,108.00 L154.49,105.71 L156.67,104.00 L157.55,101.47 L158.23,100.12 L160.23,98.83 L162.75,96.78 L165.49,96.24 L167.55,95.61 L170.20,95.15 L172.69,96.22 Z" fill="none" stroke="#f09050" stroke-opacity="0.38" stroke-width="0.4"/>
<path d="M168.50,104.88 L170.34,104.54 L172.18,105.52 L173.79,105.51 L175.52,106.61 L177.00,107.17 L178.21,108.80 L179.11,109.97 L179.34,111.23 L180.14,112.75 L180.92,114.24 L180.60,115.76 L179.79,117.21 L179.44,118.69 L178.72,119.85 L177.19,121.21 L176.17,122.04 L174.64,123.42 L172.55,123.49 L170.84,124.25 L169.10,124.65 L167.26,124.08 L165.58,124.10 L163.57,123.29 L162.07,122.80 L160.92,121.44 L159.91,120.44 L158.39,119.39 L157.66,118.07 L157.28,116.54 L157.30,114.96 L156.64,113.47 L158.09,111.94 L158.51,110.59 L159.11,109.13 L159.92,108.04 L161.93,106.77 L163.10,106.55 L164.83,105.42 L166.75,105.09 L168.50,104.97 Z" fill="none" stroke="#f09050" stroke-opacity="0.38" stroke-width="0.4"/>
<path d="M168.26,105.01 L170.90,104.35 L173.46,104.94 L175.67,105.99 L177.73,106.15 L180.28,107.60 L180.88,108.40 L182.99,109.99 L184.08,111.06 L183.89,112.64 L184.23,114.22 L184.01,115.74 L183.30,117.26 L183.26,118.76 L182.09,120.26 L180.51,120.93 L178.58,122.29 L175.68,123.10 L173.47,123.93 L171.16,124.60 L168.60,124.69 L165.99,124.06 L163.56,124.10 L161.21,123.16 L159.22,122.76 L157.01,121.39 L155.88,120.56 L153.26,119.10 L152.52,117.72 L152.99,116.26 L151.49,114.78 L153.00,113.18 L152.65,111.67 L153.56,110.30 L155.53,108.93 L157.18,107.61 L158.35,106.88 L160.85,105.82 L163.22,105.05 L165.69,104.96 L168.27,105.15 Z" fill="none" stroke="#f09050" stroke-opacity="0.38" stroke-width="0.4"/>
<path d="M165.82,99.82 L167.41,99.87 L169.30,100.47 L170.58,100.51 L172.37,101.21 L173.33,102.38 L174.70,104.38 L176.04,105.52 L176.36,107.28 L177.18,109.13 L177.01,111.07 L177.17,112.90 L177.50,114.67 L177.19,116.85 L175.76,118.14 L175.43,120.08 L174.20,121.19 L172.63,122.19 L171.40,123.14 L169.81,123.53 L168.21,123.98 L166.57,124.75 L164.94,124.28 L163.25,123.16 L162.06,122.74 L160.67,121.85 L159.03,120.02 L158.21,118.46 L157.16,116.74 L156.66,115.02 L156.58,113.08 L156.29,111.24 L156.22,109.30 L157.12,107.69 L158.03,105.88 L158.77,104.11 L159.72,103.14 L161.02,101.77 L162.74,101.14 L164.24,100.49 L165.77,99.35 Z" fill="none" stroke="#f09050" stroke-opacity="0.38" stroke-width="0.4"/>
<path d="M164.49,108.21 L166.15,107.55 L168.16,107.38 L169.68,107.39 L171.40,107.34 L173.02,108.40 L174.61,108.54 L175.89,109.44 L177.08,110.46 L177.30,111.72 L177.68,113.06 L177.85,114.38 L178.73,115.46 L178.19,117.06 L177.42,118.56 L176.47,119.85 L175.18,120.61 L173.89,122.14 L172.60,123.11 L170.65,123.34 L169.03,124.47 L167.32,125.03 L165.36,124.76 L163.77,125.05 L161.62,124.99 L160.15,124.01 L158.36,123.44 L157.40,122.73 L156.81,121.57 L155.92,120.53 L154.71,119.48 L155.27,117.96 L155.27,116.61 L155.06,115.34 L156.31,113.73 L156.69,112.49 L158.09,111.17 L159.30,110.19 L161.08,109.11 L162.75,108.91 L164.33,107.66 Z" fill="none" stroke="#f8b040" stroke-opacity="0.38" stroke-width="0.4"/>
<path d="M175.67,97.69 L177.44,97.88 L179.25,98.14 L181.07,99.35 L182.08,101.95 L183.22,103.56 L183.63,105.15 L184.34,106.71 L184.43,109.26 L184.14,111.15 L183.87,113.41 L183.27,115.45 L182.68,117.39 L181.37,119.43 L179.87,120.63 L178.55,122.20 L176.91,123.66 L174.67,124.19 L173.34,123.96 L171.37,124.11 L169.51,123.70 L167.42,124.28 L165.96,123.00 L164.64,121.63 L163.51,119.65 L162.22,118.05 L161.23,116.87 L160.85,114.37 L160.11,112.13 L161.20,110.33 L160.98,107.99 L161.44,105.88 L163.14,103.91 L163.54,101.80 L164.92,100.37 L167.15,98.88 L168.41,97.96 L169.91,97.80 L172.21,96.36 L173.85,97.04 L175.70,97.54 Z" fill="none" stroke="#f8b040" stroke-opacity="0.38" stroke-width="0.4"/>
<path d="M159.62,99.72 L161.43,99.44 L163.42,99.33 L165.51,100.21 L167.51,100.78 L169.33,101.35 L170.98,102.39 L172.39,103.39 L173.17,104.94 L174.33,106.74 L175.58,108.45 L175.80,110.51 L176.26,112.23 L176.25,114.54 L175.54,116.13 L174.89,118.22 L173.64,120.12 L172.47,121.14 L170.98,122.74 L169.34,124.04 L167.34,123.72 L165.46,124.28 L163.48,124.43 L161.96,124.32 L159.96,124.48 L158.12,123.36 L156.18,122.53 L155.09,121.07 L153.96,119.49 L153.31,117.73 L151.62,116.16 L151.58,114.04 L151.94,112.02 L151.65,110.38 L151.62,108.07 L152.64,106.75 L153.66,104.45 L155.01,102.83 L156.47,102.20 L157.96,100.73 L159.87,100.51 Z" fill="none" stroke="#f8b040" stroke-opacity="0.38" stroke-width="0.4"/>
<path d="M168.46,102.74 L170.75,102.59 L172.80,103.55 L174.80,103.64 L177.20,105.10 L178.39,106.23 L179.51,106.94 L181.35,108.84 L181.76,110.09 L182.07,111.85 L182.76,113.57 L181.95,115.31 L181.30,116.95 L181.49,118.51 L179.99,119.87 L178.15,121.48 L176.78,122.52 L174.58,123.07 L172.62,124.04 L170.50,124.21 L168.37,124.82 L166.05,124.17 L163.96,123.26 L161.70,122.68 L160.35,122.00 L158.65,121.26 L156.50,119.79 L155.40,118.11 L154.66,116.86 L154.24,115.20 L154.68,113.45 L154.06,111.83 L155.28,110.26 L155.48,108.67 L157.12,107.30 L158.74,105.83 L160.40,104.79 L161.98,103.59 L164.05,103.66 L166.29,103.30 L168.46,102.53 Z" fill="none" stroke="#f8b040" stroke-opacity="0.38" stroke-width="0.4"/>
<path d="M166.82,105.48 L168.45,105.20 L170.13,105.82 L171.57,105.87 L173.08,106.72 L174.41,107.42 L175.09,108.38 L176.59,109.65 L177.24,111.03 L177.83,112.28 L177.87,113.79 L178.17,115.25 L177.69,116.64 L177.30,118.09 L176.27,119.45 L175.87,120.59 L174.71,121.76 L173.13,123.01 L171.66,123.58 L170.36,124.43 L168.69,123.93 L167.11,124.34 L165.41,123.97 L164.23,123.81 L162.39,123.36 L161.12,122.13 L159.85,121.45 L158.86,119.88 L158.14,118.67 L157.96,117.33 L157.34,115.86 L157.15,114.31 L157.61,112.85 L158.39,111.33 L159.01,110.06 L160.12,108.99 L160.81,107.49 L162.21,106.66 L163.70,106.09 L165.30,105.43 L166.81,105.37 Z" fill="none" stroke="#f8b040" stroke-opacity="0.38" stroke-width="0.4"/>
<path d="M166.59,107.84 L168.21,107.39 L169.93,107.89 L171.51,107.97 L173.28,108.31 L174.00,109.30 L175.77,110.23 L176.15,111.15 L177.38,112.13 L178.16,113.40 L178.36,114.72 L178.57,116.07 L177.44,117.50 L177.13,118.55 L176.43,120.10 L175.92,121.21 L174.28,121.99 L173.31,122.53 L171.64,123.19 L170.06,123.69 L168.39,124.10 L166.68,124.26 L165.02,124.54 L163.70,123.95 L161.97,123.42 L160.77,122.72 L159.31,122.06 L157.98,120.96 L157.39,119.76 L156.91,118.37 L156.74,117.11 L156.44,115.75 L157.21,114.49 L157.70,113.07 L158.65,111.78 L159.22,110.61 L160.55,109.51 L161.71,109.28 L163.32,108.17 L164.86,108.02 L166.55,107.43 Z" fill="none" stroke="#f8b040" stroke-opacity="0.38" stroke-width="0.4"/>
<path d="M164.16,106.96 L165.80,106.48 L167.70,107.08 L169.15,106.83 L171.05,107.21 L172.26,107.49 L173.86,108.44 L174.85,109.35 L176.51,110.15 L176.45,111.41 L177.84,112.50 L177.54,114.06 L177.33,115.60 L177.84,116.51 L177.24,117.97 L175.84,119.81 L175.12,120.50 L173.89,121.64 L172.44,123.07 L170.90,123.69 L169.40,124.62 L167.63,124.86 L165.65,124.55 L164.23,125.03 L162.56,124.60 L161.02,124.22 L159.56,123.26 L158.83,122.23 L157.01,121.56 L156.92,120.20 L155.99,118.99 L155.85,117.57 L155.63,116.23 L156.04,114.61 L156.44,113.26 L157.67,112.19 L158.57,110.87 L159.77,109.62 L160.87,108.29 L162.60,107.99 L164.14,106.91 Z" fill="none" stroke="#f8b040" stroke-opacity="0.38" stroke-width="0.4"/>
<path d="M175.36,104.18 L177.58,104.48 L179.41,105.95 L181.56,106.90 L183.14,108.15 L183.92,110.16 L184.71,111.80 L185.41,113.27 L185.71,114.90 L186.10,116.68 L186.14,118.46 L184.59,119.69 L184.54,121.52 L182.66,122.63 L181.69,123.47 L180.19,124.21 L177.72,124.99 L175.63,124.67 L173.70,125.10 L171.41,124.49 L169.24,123.87 L166.87,123.74 L165.11,122.78 L163.62,121.13 L162.02,120.02 L160.78,118.21 L158.99,116.84 L158.15,114.71 L158.83,113.30 L157.91,111.41 L158.24,109.80 L158.90,108.25 L160.86,107.23 L161.23,105.87 L162.80,104.67 L165.00,104.26 L166.45,103.60 L169.16,103.07 L171.31,103.03 L173.28,103.51 L175.50,103.73 Z" fill="none" stroke="#f8b040" stroke-opacity="0.38" stroke-width="0.4"/>
<path d="M167.89,108.14 L169.82,107.39 L171.91,107.87 L173.80,107.95 L175.69,108.82 L176.65,109.63 L178.35,110.49 L179.44,111.62 L180.18,112.78 L181.44,113.87 L181.63,115.19 L181.13,116.48 L181.07,117.86 L179.65,119.05 L179.17,120.46 L177.67,121.41 L176.36,121.99 L174.87,122.95 L172.93,123.77 L170.94,124.13 L168.87,124.00 L166.86,124.39 L165.05,123.89 L162.89,123.92 L161.45,123.29 L159.43,122.44 L157.89,121.62 L156.87,120.35 L156.19,119.22 L156.34,118.07 L155.34,116.82 L156.17,115.42 L155.67,114.23 L156.28,113.14 L157.85,111.57 L159.28,110.87 L160.50,109.97 L161.84,108.86 L163.74,108.35 L165.83,108.02 L167.89,108.15 Z" fill="none" stroke="#f8b040" stroke-opacity="0.38" stroke-width="0.4"/>
<path d="M170.5,97.3 L169.7,102.7" stroke="#f59040" stroke-width="1.8" fill="none"/>
<path d="M169.7,102.7 L167.2,120.1" stroke="#eef51e" stroke-width="2.0" fill="none"/>
<path d="M167.2,120.1 L166.6,124.4" stroke="#3a0a9a" stroke-width="2.0" fill="none"/>
<defs><radialGradient id="ccag1" gradientUnits="userSpaceOnUse" cx="168.8" cy="182.3" r="21" gradientTransform="translate(168.8 182.3) scale(1 1.15) translate(-168.8 -182.3)"><stop offset="0" stop-color="#f8a060"/><stop offset="0.5" stop-color="#f6a070"/><stop offset="0.7" stop-color="#d890b0"/><stop offset="0.85" stop-color="#8a70d8"/><stop offset="1" stop-color="#6a50d0"/></radialGradient></defs>
<path d="M149.8,200.3 C148.8,184.3 156.8,169.3 168.8,169.3 C180.8,169.3 188.8,184.3 187.8,200.3 Z" fill="url(#ccag1)" fill-opacity="0.16"/>
<path d="M151.64,189.54 L152.27,189.28 L152.84,189.03 L153.70,188.88 L154.13,188.55 L155.16,188.66 L156.77,189.08 L157.77,189.45 L159.22,189.88 L160.69,190.22 L161.97,191.13 L163.44,191.65 L164.67,192.44 L165.73,193.23 L167.12,194.29 L167.69,194.75 L168.67,195.80 L169.06,196.51 L169.13,196.97 L169.37,197.69 L169.54,198.33 L168.97,198.64 L168.26,198.87 L168.26,199.29 L166.79,199.22 L166.20,199.16 L164.67,198.99 L163.19,198.37 L162.03,198.06 L160.60,197.37 L159.17,196.85 L157.79,196.14 L156.36,195.28 L155.43,194.55 L154.26,193.86 L152.99,192.90 L152.22,192.00 L152.23,191.50 L151.44,190.62 L151.61,190.10 L151.72,189.58 Z" fill="none" stroke="#2a1a9a" stroke-opacity="0.38" stroke-width="0.4"/>
<path d="M184.17,192.34 L184.37,192.98 L184.12,193.74 L183.96,194.53 L183.19,195.43 L182.44,196.36 L181.79,197.12 L180.94,197.58 L179.84,198.29 L178.54,198.76 L177.41,199.49 L176.04,199.70 L174.81,200.36 L173.57,200.49 L172.52,200.47 L171.45,200.30 L170.47,200.03 L169.25,199.92 L168.52,199.45 L168.03,198.97 L167.75,198.36 L167.79,197.64 L167.54,196.98 L168.35,196.10 L168.69,195.34 L168.88,194.55 L170.00,193.68 L170.93,193.23 L171.96,192.38 L173.14,191.79 L174.38,191.22 L175.64,190.85 L176.91,190.41 L178.20,190.50 L179.36,190.49 L180.63,190.28 L181.36,190.63 L182.18,190.87 L182.71,191.42 L183.43,191.92 L183.95,192.43 Z" fill="none" stroke="#2a1a9a" stroke-opacity="0.38" stroke-width="0.4"/>
<path d="M151.69,193.92 L151.44,193.24 L152.37,192.93 L153.06,192.46 L153.36,192.10 L154.25,191.75 L155.70,191.95 L156.89,191.84 L158.00,191.94 L159.29,192.14 L160.64,192.41 L161.93,193.04 L163.10,193.46 L164.37,193.92 L165.49,194.46 L166.47,195.16 L167.02,195.68 L167.69,196.51 L167.53,196.95 L167.64,197.59 L168.30,198.40 L168.05,198.94 L167.42,199.36 L166.41,199.56 L165.95,200.02 L164.60,200.14 L163.64,200.19 L162.68,200.36 L161.33,200.30 L159.99,199.95 L158.70,199.61 L157.33,199.39 L156.21,198.88 L155.18,198.13 L153.89,197.72 L153.18,197.18 L152.25,196.29 L151.63,195.71 L151.75,195.17 L151.38,194.42 L151.48,193.86 Z" fill="none" stroke="#2a1a9a" stroke-opacity="0.38" stroke-width="0.4"/>
<path d="M186.25,189.91 L186.70,190.33 L187.05,190.80 L186.23,191.80 L186.28,192.41 L185.27,193.42 L184.51,194.34 L183.37,195.17 L182.17,195.90 L181.09,196.82 L179.72,197.56 L178.25,197.96 L176.98,198.49 L175.67,199.16 L174.20,199.43 L173.30,199.27 L171.87,199.51 L170.83,199.41 L169.99,199.31 L169.52,198.86 L169.50,198.21 L169.59,197.52 L169.12,197.10 L169.27,196.34 L170.04,195.40 L170.69,194.64 L171.70,193.80 L172.59,192.70 L173.71,192.00 L174.92,191.38 L176.19,190.45 L177.68,190.11 L178.99,189.26 L180.27,189.16 L181.42,188.70 L182.78,188.66 L183.72,188.70 L185.02,188.59 L185.82,188.80 L186.07,189.34 L186.72,189.68 Z" fill="none" stroke="#2a1a9a" stroke-opacity="0.38" stroke-width="0.4"/>
<path d="M184.58,193.17 L184.61,193.83 L184.76,194.50 L183.97,195.33 L184.08,195.88 L183.03,196.82 L182.29,197.65 L181.46,197.97 L180.12,198.67 L179.00,199.23 L177.83,199.92 L176.49,199.91 L175.29,200.26 L174.09,200.43 L172.86,200.56 L171.45,200.62 L170.76,200.20 L170.13,199.79 L168.90,199.56 L168.97,198.79 L168.07,198.40 L168.09,197.73 L168.32,197.01 L168.51,196.19 L169.34,195.52 L169.68,194.59 L170.66,194.03 L171.71,193.16 L172.68,192.77 L173.94,191.93 L175.23,191.71 L176.45,191.25 L177.91,191.06 L179.18,190.96 L180.16,190.86 L181.58,190.89 L182.42,191.15 L183.42,191.42 L183.85,192.04 L183.92,192.68 L184.49,193.19 Z" fill="none" stroke="#2a1a9a" stroke-opacity="0.38" stroke-width="0.4"/>
<path d="M149.75,190.43 L150.15,190.09 L151.19,189.99 L151.33,189.61 L152.42,189.58 L153.52,189.72 L154.75,189.84 L155.92,190.18 L157.34,190.58 L158.82,191.09 L160.35,191.52 L161.73,192.33 L163.01,192.97 L164.30,193.84 L165.49,194.36 L166.14,195.00 L167.27,195.87 L167.96,196.66 L168.36,197.35 L167.96,197.66 L168.56,198.45 L167.67,198.58 L167.43,198.96 L166.68,199.13 L166.13,199.37 L164.99,199.34 L163.31,198.94 L162.13,198.66 L160.79,198.34 L159.32,197.81 L157.90,197.28 L156.50,196.60 L155.06,195.75 L154.09,195.32 L152.78,194.42 L151.59,193.63 L151.10,193.03 L150.54,192.29 L149.81,191.45 L150.01,191.05 L150.15,190.60 Z" fill="none" stroke="#2a1a9a" stroke-opacity="0.38" stroke-width="0.4"/>
<path d="M152.86,190.97 L153.57,190.56 L153.55,189.83 L154.35,189.65 L155.42,189.45 L156.34,189.28 L157.37,189.25 L158.64,189.65 L160.02,190.12 L161.23,190.28 L162.56,190.68 L163.67,191.40 L164.75,192.10 L165.72,192.79 L166.73,193.62 L167.57,194.61 L168.08,195.40 L168.51,196.23 L168.48,196.87 L168.46,197.53 L168.25,198.18 L168.36,198.97 L167.59,199.25 L166.68,199.46 L166.19,199.88 L164.83,199.96 L163.95,199.89 L162.58,199.47 L161.34,199.47 L160.22,198.89 L158.93,198.44 L157.72,197.98 L156.68,197.09 L155.72,196.29 L154.88,195.63 L153.76,194.81 L153.08,193.90 L153.24,193.34 L152.39,192.18 L152.86,191.70 L152.56,190.83 Z" fill="none" stroke="#2a1a9a" stroke-opacity="0.38" stroke-width="0.4"/>
<path d="M186.20,193.90 L186.73,194.36 L186.54,195.05 L185.87,195.71 L184.86,196.55 L184.17,197.20 L183.39,197.67 L182.28,198.47 L180.93,198.93 L179.68,199.53 L178.21,199.94 L176.81,200.23 L175.28,200.38 L173.90,200.39 L172.51,200.42 L171.33,200.35 L170.44,200.07 L169.85,199.70 L169.01,199.37 L168.45,198.87 L168.19,198.30 L167.94,197.72 L167.97,197.17 L168.45,196.38 L169.04,195.70 L170.48,194.95 L170.92,194.32 L172.24,193.84 L173.50,193.43 L174.97,192.89 L176.40,192.54 L177.81,191.92 L179.09,191.86 L180.60,191.94 L181.94,191.66 L182.89,192.03 L184.33,192.15 L184.64,192.49 L185.30,192.94 L186.28,193.26 L185.96,193.96 Z" fill="none" stroke="#2a1a9a" stroke-opacity="0.38" stroke-width="0.4"/>
<path d="M183.43,191.20 L183.47,191.71 L183.44,192.26 L182.84,193.00 L182.47,193.69 L181.87,194.39 L181.14,195.16 L180.45,195.64 L179.24,196.61 L178.12,197.15 L176.95,197.67 L175.62,198.11 L174.48,198.76 L173.18,199.12 L172.16,199.19 L170.86,199.39 L170.23,199.19 L169.48,199.10 L168.31,199.16 L168.28,198.68 L167.70,198.37 L168.04,197.67 L167.96,197.11 L168.12,196.50 L168.73,195.92 L169.01,195.39 L169.84,194.52 L170.95,193.65 L171.91,192.94 L173.03,192.31 L174.31,191.88 L175.52,191.25 L176.86,191.01 L178.00,190.46 L179.02,190.48 L179.94,190.29 L180.86,190.23 L181.86,190.24 L182.78,190.42 L182.85,190.92 L183.48,191.18 Z" fill="none" stroke="#2a1a9a" stroke-opacity="0.38" stroke-width="0.4"/>
<path d="M184.65,184.35 L184.67,185.43 L184.96,186.19 L185.30,186.98 L184.80,188.35 L184.24,189.67 L183.75,190.51 L182.88,191.81 L181.80,193.31 L180.70,194.26 L179.31,195.36 L178.06,196.46 L176.63,197.62 L175.32,197.97 L174.06,198.75 L172.50,198.84 L171.28,199.39 L170.33,199.13 L169.35,198.99 L167.82,199.20 L167.52,198.34 L166.95,197.73 L167.05,196.58 L167.08,195.74 L167.40,194.28 L167.56,193.42 L168.27,192.37 L169.16,190.94 L170.24,189.57 L171.47,188.48 L172.87,187.48 L173.97,186.08 L175.51,185.34 L177.01,184.83 L178.25,183.97 L179.47,183.77 L180.69,183.49 L182.12,183.37 L183.28,183.35 L183.79,183.95 L184.67,184.33 Z" fill="none" stroke="#5a20b0" stroke-opacity="0.38" stroke-width="0.4"/>
<path d="M184.85,190.36 L184.89,191.37 L185.22,192.10 L185.06,193.01 L184.58,194.34 L184.36,194.94 L183.37,195.99 L182.59,197.12 L181.68,197.93 L180.62,198.98 L179.09,199.21 L177.98,200.06 L176.74,200.57 L175.28,200.41 L173.66,200.88 L172.67,200.81 L171.78,200.38 L170.67,200.20 L169.49,199.83 L169.27,198.92 L168.19,198.47 L168.36,197.38 L167.81,196.79 L168.15,195.62 L168.56,194.44 L169.38,193.36 L169.92,192.37 L170.72,191.64 L171.84,190.51 L172.93,189.86 L174.11,188.97 L175.46,188.56 L177.01,188.29 L178.41,187.96 L179.72,187.69 L180.95,187.61 L182.08,188.03 L182.84,188.44 L183.98,188.85 L184.75,189.45 L184.92,190.33 Z" fill="none" stroke="#5a20b0" stroke-opacity="0.38" stroke-width="0.4"/>
<path d="M154.80,187.40 L155.38,186.54 L156.10,185.87 L157.13,185.35 L158.41,185.40 L159.78,185.60 L161.00,185.50 L161.95,185.84 L163.37,186.36 L164.75,186.89 L166.02,187.52 L167.06,188.60 L167.81,189.69 L168.65,190.91 L169.24,191.63 L170.04,192.91 L169.99,194.31 L170.40,195.49 L170.33,196.69 L169.54,197.34 L168.86,198.06 L168.71,199.19 L167.35,199.57 L166.37,199.91 L165.23,200.30 L164.44,200.46 L162.86,200.18 L161.59,199.93 L160.37,199.56 L159.34,198.72 L158.17,197.87 L156.85,197.35 L155.99,196.34 L155.39,194.78 L154.67,194.04 L154.36,192.70 L153.94,191.69 L153.55,190.05 L153.75,189.05 L154.07,188.16 L154.92,187.49 Z" fill="none" stroke="#5a20b0" stroke-opacity="0.38" stroke-width="0.4"/>
<path d="M185.01,187.35 L185.00,188.55 L185.66,189.22 L185.52,190.28 L185.23,191.53 L184.83,192.66 L183.96,193.97 L183.53,195.16 L182.50,196.09 L181.38,197.40 L180.19,198.23 L178.80,198.86 L177.49,199.30 L176.00,200.02 L174.65,200.52 L173.53,200.58 L172.50,200.07 L170.99,199.98 L169.78,199.77 L169.20,199.07 L168.73,198.24 L168.38,197.34 L167.82,196.50 L168.16,195.05 L168.45,194.15 L168.70,193.04 L169.03,191.73 L170.05,190.63 L170.94,189.81 L172.02,188.68 L173.10,187.62 L174.64,187.21 L175.70,186.23 L177.22,185.96 L178.76,185.75 L179.92,185.36 L180.88,185.75 L182.52,185.70 L183.25,186.25 L184.08,186.81 L184.55,187.66 Z" fill="none" stroke="#5a20b0" stroke-opacity="0.38" stroke-width="0.4"/>
<path d="M185.47,187.08 L185.70,187.96 L185.99,188.84 L186.05,189.80 L185.84,190.63 L185.48,191.93 L184.87,192.99 L183.92,194.09 L182.86,195.35 L181.79,196.22 L180.56,197.22 L179.11,197.86 L177.76,198.84 L176.46,199.37 L174.97,199.60 L173.63,200.11 L172.48,199.90 L171.46,199.62 L170.31,199.65 L169.74,198.98 L168.99,198.47 L168.95,197.50 L168.61,196.73 L168.59,195.64 L169.11,194.66 L169.66,193.20 L170.14,192.38 L171.24,191.29 L171.96,189.91 L173.20,189.18 L174.31,188.17 L175.56,187.33 L176.90,186.44 L178.28,186.31 L179.58,185.94 L180.94,185.77 L182.45,185.39 L183.42,185.41 L184.50,185.81 L185.05,186.31 L185.69,186.93 Z" fill="none" stroke="#5a20b0" stroke-opacity="0.38" stroke-width="0.4"/>
<path d="M182.74,186.79 L183.18,187.34 L183.02,188.32 L182.86,189.38 L182.91,190.28 L182.53,191.31 L181.81,192.18 L181.23,193.13 L180.29,194.14 L179.36,195.43 L178.12,196.13 L177.25,197.30 L175.82,197.95 L174.67,198.26 L173.66,198.94 L172.09,199.26 L171.52,199.27 L170.09,199.45 L169.23,199.25 L168.88,198.69 L168.20,198.27 L168.05,197.42 L167.45,196.96 L167.93,195.84 L168.02,194.85 L168.44,193.95 L168.90,193.09 L169.42,191.75 L170.34,191.04 L171.36,189.90 L172.37,188.85 L173.74,188.22 L174.64,187.23 L175.80,186.79 L177.38,186.08 L178.27,186.07 L179.44,185.82 L180.19,186.01 L181.61,185.87 L181.93,186.45 L182.33,187.11 Z" fill="none" stroke="#5a20b0" stroke-opacity="0.38" stroke-width="0.4"/>
<path d="M150.02,185.53 L150.90,185.06 L152.07,184.80 L152.79,184.26 L153.83,183.93 L155.31,184.39 L156.59,184.41 L158.48,184.92 L159.71,185.73 L161.32,186.15 L162.80,187.12 L164.10,188.37 L165.06,189.61 L166.32,190.68 L167.27,192.14 L168.36,193.18 L168.19,194.13 L168.42,195.16 L168.48,196.34 L168.49,197.37 L168.11,198.23 L167.64,199.04 L166.52,199.24 L165.67,199.78 L164.55,199.85 L163.63,199.91 L161.61,199.39 L160.43,199.14 L159.00,198.50 L157.50,197.61 L156.04,196.75 L154.71,195.68 L153.47,194.74 L152.48,193.23 L151.53,192.21 L150.57,191.12 L150.39,189.92 L149.50,188.47 L149.72,187.50 L149.83,186.51 L150.10,185.59 Z" fill="none" stroke="#5a20b0" stroke-opacity="0.38" stroke-width="0.4"/>
<path d="M151.57,185.90 L152.10,185.27 L153.35,185.23 L154.10,184.74 L155.35,185.02 L156.63,184.95 L157.87,185.12 L159.01,185.64 L160.42,186.41 L161.97,186.99 L163.35,187.90 L164.68,188.74 L165.90,189.90 L166.79,191.36 L167.82,192.41 L168.35,193.42 L169.08,194.74 L169.01,195.48 L169.54,196.94 L169.44,197.79 L168.56,198.20 L167.90,198.73 L167.07,199.06 L166.63,199.58 L165.38,199.64 L164.24,199.51 L162.80,199.08 L161.07,198.72 L159.98,197.97 L158.65,197.29 L157.30,196.25 L155.81,195.55 L154.56,194.37 L153.61,192.94 L153.13,192.03 L152.02,190.78 L151.67,189.83 L151.53,188.82 L151.37,187.67 L151.21,186.61 L151.55,185.88 Z" fill="none" stroke="#5a20b0" stroke-opacity="0.38" stroke-width="0.4"/>
<path d="M184.60,190.54 L184.57,191.62 L184.92,192.36 L184.85,193.47 L184.30,194.70 L183.89,195.44 L183.46,196.42 L182.19,197.39 L181.43,198.36 L180.25,199.29 L178.86,199.65 L177.53,200.23 L176.22,200.51 L174.91,201.11 L173.36,201.02 L172.17,200.97 L171.22,200.75 L169.99,200.32 L169.42,199.80 L168.83,198.97 L168.17,198.29 L167.61,197.52 L167.58,196.48 L168.17,195.23 L168.29,194.35 L168.68,193.40 L169.65,192.17 L170.20,191.15 L171.40,190.75 L172.65,189.90 L173.71,188.73 L175.05,188.27 L176.56,188.03 L178.05,187.85 L179.02,187.65 L180.43,188.00 L181.59,188.02 L182.52,188.58 L183.26,189.06 L184.23,189.72 L184.98,190.36 Z" fill="none" stroke="#5a20b0" stroke-opacity="0.38" stroke-width="0.4"/>
<path d="M182.83,183.72 L183.05,185.15 L183.75,186.10 L184.19,186.88 L184.45,188.34 L184.29,189.92 L183.62,191.03 L183.55,192.42 L182.96,193.90 L181.58,194.81 L180.74,196.12 L179.61,197.19 L178.20,198.15 L177.03,199.00 L175.95,199.53 L174.37,199.59 L173.22,199.80 L171.56,199.92 L170.81,199.27 L169.60,198.90 L168.47,198.41 L168.14,197.07 L167.14,196.69 L167.17,195.05 L166.73,194.19 L166.88,192.98 L167.28,191.57 L167.53,189.66 L168.23,188.34 L169.15,186.96 L170.52,186.14 L171.38,184.72 L172.82,184.16 L174.21,183.19 L175.73,182.61 L176.99,182.57 L177.99,182.32 L179.26,182.45 L180.87,182.47 L181.64,183.39 L182.37,184.19 Z" fill="none" stroke="#8a30b0" stroke-opacity="0.38" stroke-width="0.4"/>
<path d="M185.88,185.75 L186.99,186.69 L186.91,188.23 L187.07,189.71 L187.14,191.27 L186.83,192.52 L186.66,193.85 L185.34,195.33 L184.58,196.51 L183.41,197.73 L182.39,199.23 L180.73,199.85 L179.49,201.13 L177.84,201.60 L175.87,201.59 L174.53,201.49 L172.78,201.31 L171.87,200.69 L170.44,200.34 L169.40,199.18 L168.48,198.23 L168.04,196.85 L167.09,195.76 L167.12,194.23 L166.58,192.92 L167.35,191.50 L167.69,189.83 L168.46,188.41 L169.51,186.96 L170.90,186.07 L172.03,184.79 L173.56,184.11 L175.04,183.35 L176.37,182.46 L178.21,182.44 L179.71,182.47 L181.52,182.49 L182.75,183.15 L183.77,184.02 L184.75,184.91 L185.60,185.96 Z" fill="none" stroke="#8a30b0" stroke-opacity="0.38" stroke-width="0.4"/>
<path d="M151.77,180.84 L152.94,180.48 L153.81,180.05 L155.44,180.06 L156.72,180.20 L158.10,180.42 L159.30,180.98 L160.66,181.73 L162.43,182.70 L163.68,183.92 L164.79,185.28 L166.06,186.51 L166.92,188.21 L167.64,189.50 L168.54,190.86 L168.86,192.47 L168.93,193.67 L169.25,195.50 L168.98,196.70 L168.31,197.58 L167.18,197.89 L166.51,198.80 L165.63,199.25 L164.17,199.10 L163.14,199.49 L161.45,198.79 L159.97,198.62 L158.78,198.00 L157.12,196.88 L155.91,195.70 L154.87,194.25 L153.64,192.82 L152.35,191.65 L152.07,189.96 L151.01,188.35 L150.81,187.39 L150.33,185.44 L150.56,183.95 L151.23,183.27 L151.45,182.01 L152.44,181.59 Z" fill="none" stroke="#8a30b0" stroke-opacity="0.38" stroke-width="0.4"/>
<path d="M154.48,180.42 L155.87,179.93 L156.70,178.90 L158.52,179.23 L159.82,178.61 L161.62,179.01 L162.73,179.88 L164.81,180.28 L165.62,181.48 L167.24,182.58 L168.18,184.09 L169.62,185.34 L170.05,187.04 L171.33,188.31 L171.74,190.10 L171.89,191.95 L171.21,193.09 L171.25,194.91 L170.38,195.99 L170.17,197.64 L168.77,198.12 L168.06,199.35 L166.59,199.63 L165.19,200.22 L163.83,200.11 L162.06,199.51 L160.09,199.19 L158.73,198.75 L157.52,197.45 L155.81,196.43 L154.56,195.08 L153.91,193.22 L152.85,191.95 L152.57,190.19 L152.25,188.51 L151.28,186.83 L151.62,185.09 L151.91,183.70 L152.72,182.57 L153.75,181.65 L154.55,180.51 Z" fill="none" stroke="#8a30b0" stroke-opacity="0.38" stroke-width="0.4"/>
<path d="M183.74,182.06 L184.13,183.64 L185.34,184.38 L185.37,186.08 L185.69,187.10 L185.83,189.06 L185.69,190.26 L185.25,191.88 L184.27,193.21 L183.89,194.95 L182.82,196.29 L181.53,197.46 L180.33,198.64 L179.09,199.17 L177.36,199.81 L175.39,200.03 L173.99,200.10 L172.56,200.18 L171.43,199.56 L169.95,199.36 L169.21,198.14 L168.34,197.02 L167.31,196.16 L166.73,194.76 L166.58,193.52 L166.57,191.91 L167.04,190.34 L167.01,188.75 L167.73,187.32 L168.87,185.94 L169.75,184.48 L170.95,183.20 L172.49,182.55 L173.50,181.61 L175.32,181.09 L176.58,180.90 L178.61,180.34 L179.82,180.40 L181.19,180.87 L182.15,181.78 L183.49,182.34 Z" fill="none" stroke="#8a30b0" stroke-opacity="0.38" stroke-width="0.4"/>
<path d="M185.99,179.87 L186.40,181.29 L187.20,182.23 L187.24,183.72 L187.41,185.27 L187.29,186.45 L186.61,188.14 L186.06,190.09 L184.87,191.38 L183.95,193.12 L182.62,194.56 L181.51,196.23 L179.59,197.23 L177.96,198.01 L176.57,198.76 L174.53,199.43 L173.11,199.65 L171.60,199.83 L170.27,199.74 L169.25,198.95 L168.56,197.91 L167.27,197.41 L167.09,195.77 L166.28,195.19 L166.46,193.31 L166.93,191.69 L167.14,190.23 L167.96,188.37 L169.03,186.68 L170.26,185.33 L171.25,183.57 L172.82,182.32 L174.46,181.12 L176.33,180.07 L177.35,179.59 L179.44,178.74 L180.83,178.67 L182.05,178.66 L184.02,178.49 L184.93,179.21 L185.54,180.35 Z" fill="none" stroke="#8a30b0" stroke-opacity="0.38" stroke-width="0.4"/>
<path d="M188.43,183.93 L189.11,185.15 L189.59,186.47 L189.47,187.83 L190.11,189.01 L189.47,191.09 L188.67,192.14 L187.67,193.85 L186.32,195.36 L184.87,196.75 L183.29,197.87 L181.64,199.11 L180.11,200.23 L177.94,200.48 L176.27,201.48 L174.31,201.28 L172.72,201.34 L171.84,200.39 L169.89,200.29 L168.50,199.68 L167.67,198.55 L167.50,196.94 L167.43,195.33 L167.26,194.00 L167.24,192.86 L167.32,191.04 L168.53,189.54 L169.10,188.02 L170.69,186.48 L171.89,185.29 L173.44,183.88 L175.01,182.53 L176.76,181.85 L178.66,181.73 L180.36,180.88 L182.14,181.17 L184.29,180.78 L185.11,181.63 L186.40,182.14 L187.99,182.54 L188.62,183.80 Z" fill="none" stroke="#8a30b0" stroke-opacity="0.38" stroke-width="0.4"/>
<path d="M184.54,181.17 L185.13,182.50 L185.87,183.51 L186.66,184.57 L186.51,186.70 L186.68,188.33 L186.48,189.60 L186.11,190.97 L185.45,192.63 L184.19,194.04 L183.49,195.75 L182.46,197.09 L180.88,197.97 L178.89,198.75 L178.03,199.53 L175.73,199.98 L174.65,200.22 L173.34,199.96 L171.65,199.74 L170.76,198.86 L169.01,198.71 L168.28,197.46 L167.64,196.34 L167.32,194.49 L167.40,193.14 L166.92,192.16 L167.16,190.00 L167.55,188.21 L168.16,186.92 L169.29,185.48 L170.59,184.32 L171.53,182.83 L172.91,181.65 L174.68,181.00 L175.84,180.06 L177.86,179.85 L179.20,179.51 L180.43,180.00 L181.91,180.25 L182.95,180.94 L184.05,181.72 Z" fill="none" stroke="#8a30b0" stroke-opacity="0.38" stroke-width="0.4"/>
<path d="M185.06,179.98 L185.41,181.43 L186.37,181.99 L186.54,183.63 L186.45,185.00 L186.63,186.69 L185.68,188.27 L185.57,190.04 L184.31,191.05 L183.18,192.81 L181.90,194.31 L180.99,196.11 L179.03,197.11 L177.60,198.30 L176.46,198.77 L174.80,199.40 L173.32,199.52 L171.48,199.72 L170.41,199.21 L168.77,199.25 L167.59,198.74 L166.91,197.76 L166.45,196.41 L166.10,195.26 L166.20,193.34 L166.66,191.80 L166.66,190.41 L167.81,188.87 L168.42,187.13 L169.63,185.46 L170.59,183.77 L171.95,182.31 L173.90,181.52 L174.96,180.20 L176.66,179.95 L178.34,179.42 L179.76,178.91 L180.99,179.00 L182.74,179.07 L183.57,179.79 L184.77,180.28 Z" fill="none" stroke="#8a30b0" stroke-opacity="0.38" stroke-width="0.4"/>
<path d="M154.43,176.28 L155.38,175.44 L156.68,175.50 L157.84,175.15 L159.57,176.01 L161.22,176.31 L162.50,177.75 L164.32,178.63 L165.11,180.23 L166.52,181.65 L167.42,183.37 L168.92,184.86 L169.52,186.67 L170.04,188.63 L170.17,190.82 L170.38,191.74 L170.29,193.52 L169.69,195.22 L169.42,196.90 L168.23,197.11 L167.66,198.56 L166.43,199.01 L165.00,199.07 L163.71,199.20 L161.99,198.11 L160.81,197.93 L159.27,197.24 L158.25,195.94 L156.38,194.40 L155.55,192.65 L153.86,191.42 L153.48,189.20 L152.65,187.37 L152.04,185.42 L151.33,184.07 L151.48,182.72 L151.82,180.83 L152.26,179.33 L152.50,177.77 L153.37,176.99 L154.60,176.57 Z" fill="none" stroke="#c05090" stroke-opacity="0.38" stroke-width="0.4"/>
<path d="M181.27,178.30 L182.94,178.43 L183.73,179.70 L184.24,181.81 L184.80,183.03 L185.20,184.77 L185.08,185.76 L185.23,187.81 L184.41,189.51 L183.69,191.25 L182.97,193.10 L181.75,194.57 L180.26,195.99 L179.25,197.16 L177.61,197.81 L175.94,198.90 L174.50,198.84 L172.79,199.92 L171.26,199.67 L170.01,198.77 L168.71,198.15 L167.71,196.93 L166.25,196.64 L165.71,194.78 L165.13,193.67 L164.58,191.81 L165.01,189.91 L164.87,187.96 L165.13,186.42 L166.02,184.62 L167.10,183.06 L167.95,181.41 L169.55,180.13 L170.79,178.95 L172.01,178.17 L173.98,177.82 L175.88,176.61 L177.51,176.46 L179.13,176.46 L180.28,177.22 L181.36,178.16 Z" fill="none" stroke="#c05090" stroke-opacity="0.38" stroke-width="0.4"/>
<path d="M153.54,176.76 L155.12,177.00 L156.40,176.54 L157.54,176.56 L158.74,176.72 L160.40,176.86 L161.82,178.26 L163.53,178.70 L164.74,180.31 L166.39,181.59 L167.93,183.10 L168.59,185.19 L169.84,186.88 L170.23,188.84 L170.97,190.08 L170.85,191.81 L171.06,193.29 L170.94,194.74 L170.69,196.33 L170.38,197.87 L168.92,197.97 L168.34,199.16 L167.24,199.57 L165.70,199.24 L164.32,199.03 L162.45,198.36 L161.38,197.62 L159.57,196.23 L158.02,195.39 L156.50,193.96 L155.39,192.19 L154.42,190.50 L153.45,188.58 L152.64,186.67 L152.00,185.25 L151.86,183.70 L151.95,181.80 L152.15,180.78 L152.08,178.80 L152.71,177.67 L153.66,176.92 Z" fill="none" stroke="#c05090" stroke-opacity="0.38" stroke-width="0.4"/>
<path d="M155.36,175.80 L156.75,175.37 L158.02,174.62 L160.01,175.10 L161.59,175.71 L163.25,175.92 L164.50,176.60 L165.97,177.84 L167.58,179.02 L168.52,180.99 L170.17,182.28 L170.63,184.27 L171.19,186.16 L172.39,187.70 L172.52,189.55 L172.23,191.41 L171.73,193.37 L171.39,194.79 L170.90,196.44 L169.64,197.04 L168.65,198.35 L167.53,199.36 L165.61,198.68 L164.38,199.16 L162.89,199.28 L161.18,198.29 L159.28,197.67 L157.84,196.21 L156.53,194.97 L155.07,193.65 L154.15,191.72 L153.24,189.94 L152.56,187.78 L152.14,185.93 L151.91,184.14 L151.34,182.19 L152.09,181.29 L152.46,179.15 L153.12,177.50 L154.47,177.26 L155.60,176.21 Z" fill="none" stroke="#c05090" stroke-opacity="0.38" stroke-width="0.4"/>
<path d="M155.46,179.33 L156.57,178.94 L157.91,178.65 L158.98,178.38 L160.30,178.80 L162.26,179.44 L163.38,180.28 L164.85,180.79 L166.22,181.71 L167.11,183.22 L168.19,184.76 L169.13,186.26 L170.33,187.80 L170.56,189.49 L171.24,191.24 L171.38,192.76 L171.09,193.88 L171.04,195.38 L170.69,196.53 L169.71,197.28 L169.07,198.31 L168.01,198.81 L166.72,198.84 L165.68,199.47 L164.27,199.24 L162.95,198.55 L161.54,198.20 L160.12,196.95 L158.36,196.13 L157.23,194.81 L156.23,193.33 L155.50,191.69 L154.62,190.19 L153.92,188.47 L153.54,186.63 L153.18,185.14 L153.24,183.67 L153.66,182.85 L153.97,181.29 L154.75,180.37 L155.34,179.16 Z" fill="none" stroke="#c05090" stroke-opacity="0.38" stroke-width="0.4"/>
<path d="M157.12,178.21 L158.95,177.91 L160.51,177.73 L162.19,177.54 L163.77,177.39 L165.19,177.85 L167.16,178.36 L168.73,179.35 L170.09,180.05 L171.54,181.29 L171.86,183.29 L173.14,184.53 L173.60,186.53 L174.10,187.80 L174.03,189.89 L173.70,191.30 L173.50,193.23 L172.66,195.22 L171.81,196.48 L170.44,197.26 L169.35,198.60 L167.44,198.61 L166.02,199.08 L164.23,199.26 L162.97,199.40 L160.64,199.14 L159.09,198.85 L157.54,197.98 L156.63,196.64 L155.53,195.08 L154.08,193.95 L153.73,192.10 L152.45,190.73 L152.20,189.15 L152.68,186.89 L152.69,185.61 L153.12,183.22 L154.18,182.27 L155.09,180.97 L156.10,179.62 L157.26,178.43 Z" fill="none" stroke="#c05090" stroke-opacity="0.38" stroke-width="0.4"/>
<path d="M179.99,179.58 L180.88,180.58 L181.79,181.70 L182.80,182.47 L183.10,183.97 L183.22,185.41 L183.20,187.23 L182.99,188.66 L182.52,190.01 L181.96,191.94 L181.29,193.49 L179.98,194.74 L178.86,195.94 L177.71,196.98 L176.12,198.09 L175.07,198.56 L173.45,198.89 L172.23,198.92 L170.74,198.89 L169.11,199.12 L167.97,198.58 L167.29,197.30 L166.19,196.32 L165.56,195.41 L165.06,194.05 L164.97,192.18 L165.02,191.00 L164.87,189.24 L165.31,187.40 L166.31,186.09 L166.65,184.23 L168.07,183.01 L169.12,181.86 L170.30,180.55 L171.88,179.64 L173.14,179.35 L174.72,178.47 L176.08,178.83 L177.47,178.77 L178.68,179.13 L179.94,179.66 Z" fill="none" stroke="#c05090" stroke-opacity="0.38" stroke-width="0.4"/>
<path d="M184.65,180.33 L185.35,181.77 L186.50,182.86 L186.32,184.81 L186.93,186.42 L187.25,187.56 L186.83,189.78 L186.51,191.14 L185.65,192.86 L185.06,194.71 L183.88,196.08 L182.20,197.07 L181.10,198.39 L179.50,199.63 L177.73,199.59 L176.09,199.89 L174.53,200.42 L172.48,200.63 L171.46,199.54 L170.08,198.87 L168.54,198.37 L167.85,196.92 L166.42,196.18 L166.16,194.53 L165.87,192.57 L165.99,190.77 L165.71,189.60 L166.92,187.81 L167.31,186.32 L168.01,184.36 L169.40,183.14 L170.30,181.42 L172.10,180.67 L173.44,179.41 L175.10,178.73 L176.87,178.27 L178.38,178.64 L180.15,179.01 L181.53,179.12 L183.01,179.94 L184.71,180.27 Z" fill="none" stroke="#c05090" stroke-opacity="0.38" stroke-width="0.4"/>
<path d="M182.18,172.25 L183.52,172.89 L184.41,174.08 L184.81,175.78 L185.06,177.70 L185.60,179.95 L185.68,181.32 L185.25,183.08 L184.65,185.27 L184.42,187.82 L182.85,189.65 L182.14,191.88 L180.92,193.64 L178.91,194.84 L177.07,196.63 L175.84,197.58 L174.07,198.49 L172.37,199.10 L170.95,198.76 L169.50,198.65 L168.05,198.40 L166.69,197.95 L166.18,195.86 L165.11,194.79 L164.41,193.59 L164.31,191.45 L164.25,189.21 L164.99,187.73 L165.61,185.58 L166.01,183.12 L167.37,181.29 L168.42,179.17 L169.38,177.50 L171.31,175.83 L172.84,174.67 L174.21,172.87 L176.02,172.75 L177.66,171.50 L179.53,171.43 L180.61,172.04 L182.15,172.29 Z" fill="none" stroke="#c05090" stroke-opacity="0.38" stroke-width="0.4"/>
<path d="M164.02,179.12 L165.43,178.42 L167.04,178.80 L168.52,179.26 L170.01,180.06 L171.59,180.18 L172.59,181.21 L173.47,182.52 L175.08,183.67 L175.19,185.09 L175.73,186.56 L175.86,188.08 L176.27,189.54 L175.50,191.37 L174.91,192.65 L174.23,194.35 L173.20,195.27 L172.34,196.26 L170.89,196.75 L169.70,197.85 L168.18,198.11 L166.68,198.34 L165.04,198.12 L163.56,197.97 L162.48,197.80 L160.71,196.99 L159.47,196.29 L158.39,195.10 L157.31,193.63 L156.96,192.30 L156.93,190.68 L156.40,189.16 L156.04,187.75 L156.62,186.32 L157.51,184.91 L157.94,183.00 L158.98,182.13 L159.78,180.68 L161.13,179.83 L162.57,179.52 L163.98,178.96 Z" fill="none" stroke="#e07070" stroke-opacity="0.38" stroke-width="0.4"/>
<path d="M177.56,172.33 L179.67,172.53 L181.35,174.29 L182.52,176.07 L184.01,177.40 L185.37,179.10 L185.50,181.40 L186.37,183.63 L186.65,185.80 L186.46,187.99 L185.34,189.96 L184.88,192.04 L182.93,193.74 L181.18,195.03 L179.84,196.91 L178.61,197.53 L175.90,198.75 L173.88,198.77 L171.99,199.08 L169.95,198.60 L168.07,197.94 L165.86,198.02 L164.35,195.66 L162.56,194.92 L161.75,192.89 L160.15,190.91 L159.91,189.14 L159.18,187.28 L159.47,184.84 L159.80,182.87 L159.80,180.49 L161.04,178.75 L162.44,176.86 L163.75,175.05 L165.71,174.23 L167.38,172.47 L169.58,171.76 L171.19,171.47 L173.53,171.14 L175.74,171.39 L177.76,171.78 Z" fill="none" stroke="#e07070" stroke-opacity="0.38" stroke-width="0.4"/>
<path d="M160.73,178.33 L162.43,178.19 L163.93,177.70 L165.65,177.98 L167.03,178.02 L168.86,178.66 L170.14,179.09 L171.20,180.59 L172.59,181.63 L173.69,183.03 L174.28,184.53 L175.07,186.07 L174.70,187.77 L175.25,189.40 L174.68,191.19 L174.47,192.49 L173.58,194.04 L172.58,195.20 L171.28,196.66 L170.24,197.81 L168.81,198.79 L167.13,198.98 L165.26,198.80 L163.81,198.86 L161.95,198.37 L160.44,198.32 L159.26,197.01 L158.12,196.22 L156.27,195.34 L155.90,193.61 L154.67,192.27 L154.29,190.64 L153.79,189.02 L154.00,187.15 L154.15,185.66 L154.84,183.97 L156.04,182.57 L156.84,181.08 L157.82,179.54 L159.13,178.67 L160.86,178.65 Z" fill="none" stroke="#e07070" stroke-opacity="0.38" stroke-width="0.4"/>
<path d="M174.53,174.00 L176.80,174.77 L179.20,175.93 L181.26,177.36 L182.70,178.10 L184.43,179.79 L185.29,182.41 L185.77,184.21 L186.75,186.05 L186.46,188.22 L186.39,190.24 L186.14,192.27 L184.17,193.87 L182.88,195.46 L181.13,196.70 L178.92,198.04 L176.86,198.31 L174.63,199.16 L172.66,198.47 L169.92,198.79 L167.78,197.72 L165.03,198.06 L163.06,195.97 L160.92,194.76 L159.81,193.67 L158.22,191.24 L156.26,189.65 L156.18,187.72 L156.25,185.61 L155.20,183.51 L156.75,181.81 L156.37,179.54 L157.21,177.74 L159.60,176.59 L161.40,175.07 L162.92,173.81 L165.08,173.07 L167.66,172.74 L169.74,172.73 L172.01,173.56 L174.51,174.04 Z" fill="none" stroke="#e07070" stroke-opacity="0.38" stroke-width="0.4"/>
<path d="M162.47,171.37 L164.42,170.78 L166.84,172.08 L168.43,171.32 L170.21,172.54 L172.65,173.23 L174.05,174.93 L174.85,176.39 L176.92,177.95 L177.24,180.24 L178.37,182.11 L178.22,184.28 L178.19,186.51 L177.85,188.57 L177.84,190.76 L176.80,192.18 L175.64,193.64 L174.11,195.26 L172.43,196.64 L170.56,197.61 L168.55,198.20 L166.69,199.05 L164.76,198.86 L162.76,198.34 L160.50,197.75 L158.47,196.92 L157.58,195.34 L155.54,193.34 L154.81,191.94 L153.96,189.92 L153.44,187.76 L152.81,185.74 L152.61,183.54 L152.76,181.45 L153.97,179.32 L154.16,178.01 L155.56,176.29 L157.27,175.02 L158.90,173.23 L160.77,172.97 L162.63,172.04 Z" fill="none" stroke="#e07070" stroke-opacity="0.38" stroke-width="0.4"/>
<path d="M157.87,176.71 L159.91,176.87 L161.29,175.83 L163.15,175.89 L165.36,176.53 L166.92,177.05 L168.41,177.98 L170.18,178.59 L171.11,180.07 L172.36,181.28 L173.56,182.79 L174.34,184.45 L174.78,186.10 L174.46,188.00 L174.50,190.11 L173.55,191.60 L173.25,193.54 L171.68,194.61 L171.13,196.59 L169.43,197.12 L168.11,198.61 L166.38,199.09 L164.23,198.87 L162.55,199.08 L160.56,198.95 L159.10,198.73 L157.19,198.06 L156.10,196.92 L154.72,195.43 L153.35,194.18 L152.70,192.54 L152.09,190.73 L151.68,188.98 L151.48,187.30 L151.90,185.26 L151.97,183.42 L153.33,182.31 L154.22,180.60 L154.87,178.67 L156.27,177.57 L157.83,176.63 Z" fill="none" stroke="#e07070" stroke-opacity="0.38" stroke-width="0.4"/>
<path d="M159.13,182.80 L161.25,181.71 L162.89,180.40 L165.39,180.28 L166.89,179.75 L168.91,179.74 L170.84,180.12 L172.93,180.46 L174.75,180.81 L175.63,181.77 L176.42,183.03 L176.72,184.46 L176.90,186.00 L177.26,187.27 L176.79,189.26 L175.58,191.16 L174.21,192.37 L173.38,194.06 L171.90,195.76 L169.93,197.31 L167.70,197.95 L165.69,199.25 L163.88,200.47 L161.57,201.00 L159.56,201.04 L157.40,201.51 L155.20,201.22 L153.66,200.48 L152.84,199.61 L151.34,198.79 L151.02,197.40 L149.42,196.60 L149.83,194.94 L150.16,193.15 L150.76,191.63 L150.74,189.84 L152.10,187.95 L153.87,186.48 L155.20,185.17 L156.86,183.26 L158.87,182.34 Z" fill="none" stroke="#e07070" stroke-opacity="0.38" stroke-width="0.4"/>
<path d="M155.15,174.77 L156.25,173.54 L157.83,173.29 L159.83,173.46 L160.88,173.30 L163.19,173.92 L164.94,175.01 L166.71,176.50 L167.68,178.09 L169.40,179.49 L170.43,181.35 L171.57,183.17 L171.88,185.54 L172.04,187.81 L172.55,189.78 L172.61,191.21 L171.53,192.98 L170.90,194.43 L170.39,196.11 L169.44,197.58 L168.02,198.36 L166.56,198.85 L165.13,199.51 L163.43,199.03 L161.60,198.80 L159.76,198.56 L157.95,197.56 L156.27,196.16 L155.02,194.47 L153.75,192.79 L152.38,191.20 L151.68,189.18 L151.17,187.11 L150.95,185.11 L150.54,182.67 L150.40,181.55 L151.10,179.21 L151.70,177.85 L152.35,176.04 L153.67,175.26 L154.58,173.73 Z" fill="none" stroke="#e07070" stroke-opacity="0.38" stroke-width="0.4"/>
<path d="M162.19,177.81 L164.34,177.40 L166.57,177.09 L169.04,177.33 L170.93,176.97 L172.60,178.17 L174.81,178.27 L176.59,179.28 L177.05,180.85 L178.15,182.18 L179.49,183.48 L179.76,185.13 L178.93,187.20 L179.66,188.56 L178.99,190.39 L178.13,192.05 L176.20,193.33 L174.94,194.80 L173.14,196.17 L171.17,197.65 L169.21,198.42 L166.92,198.65 L165.02,199.30 L163.04,199.37 L160.21,198.79 L158.37,199.01 L156.75,198.20 L155.33,196.88 L153.48,195.85 L153.14,194.32 L152.27,192.76 L151.54,191.25 L151.72,189.31 L152.24,187.86 L152.89,186.16 L153.57,184.08 L155.33,182.61 L156.21,180.92 L158.49,179.91 L160.18,178.71 L162.30,178.16 Z" fill="none" stroke="#e07070" stroke-opacity="0.38" stroke-width="0.4"/>
<path d="M172.88,180.95 L174.83,181.34 L176.45,182.30 L178.11,182.64 L179.34,184.28 L180.88,185.62 L181.49,186.80 L182.01,188.41 L181.95,189.61 L182.38,191.29 L182.78,192.85 L181.58,194.05 L180.34,195.15 L179.34,196.34 L178.66,197.18 L176.86,198.14 L175.49,198.52 L173.72,198.64 L171.61,198.83 L169.87,198.92 L168.01,198.32 L166.15,197.86 L164.31,197.25 L163.12,195.73 L161.89,194.41 L160.37,193.60 L159.64,192.16 L159.08,190.67 L158.76,189.08 L159.09,187.75 L159.14,186.23 L159.71,184.86 L160.47,183.51 L161.72,182.44 L162.34,181.48 L163.89,180.45 L165.47,180.55 L167.39,179.89 L169.22,179.86 L171.02,180.56 L172.89,180.90 Z" fill="none" stroke="#f09050" stroke-opacity="0.38" stroke-width="0.4"/>
<path d="M165.16,177.83 L167.52,177.64 L170.33,178.12 L172.39,178.40 L175.03,178.57 L176.15,179.59 L178.53,180.45 L179.60,181.77 L180.22,183.12 L181.71,184.61 L182.47,186.14 L181.85,187.79 L181.49,189.48 L181.57,190.73 L179.34,192.57 L177.80,193.77 L176.34,195.60 L174.97,196.33 L172.54,197.46 L170.15,197.65 L167.75,198.61 L165.24,198.20 L162.65,198.52 L160.67,198.13 L158.65,197.64 L156.82,196.34 L154.48,195.73 L153.05,194.47 L152.43,192.96 L151.40,191.63 L150.21,190.15 L150.48,188.50 L151.26,186.97 L152.43,185.39 L153.26,183.89 L154.08,182.61 L156.46,181.18 L158.38,180.33 L160.37,178.78 L162.68,178.00 L165.16,177.81 Z" fill="none" stroke="#f09050" stroke-opacity="0.38" stroke-width="0.4"/>
<path d="M165.77,179.21 L167.50,178.46 L169.35,178.67 L171.11,179.01 L172.72,179.85 L174.25,179.90 L175.74,181.27 L176.70,182.13 L178.06,183.60 L178.07,185.05 L178.56,186.59 L179.25,188.02 L179.20,189.55 L178.69,191.13 L177.49,192.47 L176.89,193.66 L175.51,195.58 L174.32,196.26 L172.45,197.11 L170.87,197.51 L169.15,198.60 L167.27,198.72 L165.65,198.57 L163.56,198.30 L162.12,197.58 L160.80,196.90 L158.98,195.76 L158.44,194.89 L157.08,193.50 L156.77,191.89 L155.77,190.57 L156.02,189.01 L155.74,187.43 L156.08,185.72 L157.15,184.60 L158.07,182.98 L159.38,181.72 L160.65,180.99 L162.13,179.54 L163.82,179.08 L165.73,179.02 Z" fill="none" stroke="#f09050" stroke-opacity="0.38" stroke-width="0.4"/>
<path d="M163.44,174.84 L165.87,173.66 L167.98,173.20 L170.64,174.04 L172.83,174.05 L175.78,175.04 L176.89,176.50 L178.57,177.56 L179.86,179.07 L181.53,180.53 L182.23,182.43 L182.19,184.36 L181.39,186.38 L181.22,188.25 L180.83,190.60 L179.71,191.74 L177.60,193.41 L176.11,194.69 L174.02,196.25 L171.72,197.96 L168.98,197.93 L166.58,199.11 L164.01,198.66 L161.32,198.46 L158.91,198.06 L157.53,197.70 L154.84,196.65 L153.50,195.33 L151.65,193.78 L151.30,191.85 L149.53,190.28 L149.31,188.32 L150.87,185.93 L150.32,184.17 L151.40,182.13 L153.03,180.47 L154.05,178.44 L156.23,177.86 L158.88,176.53 L160.93,175.38 L163.36,174.52 Z" fill="none" stroke="#f09050" stroke-opacity="0.38" stroke-width="0.4"/>
<path d="M174.06,176.06 L176.65,176.54 L178.70,177.34 L180.77,179.13 L183.21,180.39 L184.48,181.83 L185.62,183.21 L187.08,185.45 L187.63,187.30 L187.34,189.07 L187.33,190.94 L186.68,192.73 L184.74,193.95 L184.06,195.72 L181.94,196.95 L180.01,197.87 L178.36,198.81 L175.95,199.16 L173.56,198.64 L171.25,198.50 L168.61,198.18 L166.27,197.37 L163.72,196.94 L161.42,195.36 L159.87,194.25 L158.72,192.26 L156.49,190.33 L155.80,188.38 L155.76,187.03 L156.17,185.22 L156.26,183.29 L155.97,181.26 L157.58,179.75 L159.40,178.55 L160.27,177.12 L162.47,176.17 L164.76,175.70 L166.88,175.64 L169.24,174.92 L171.82,174.84 L174.09,175.92 Z" fill="none" stroke="#f09050" stroke-opacity="0.38" stroke-width="0.4"/>
<path d="M160.45,175.68 L162.59,174.59 L164.83,174.14 L167.16,175.08 L169.09,174.77 L171.12,175.82 L173.59,176.05 L175.66,177.36 L176.37,179.20 L176.92,180.82 L178.49,182.24 L179.20,183.99 L179.34,185.95 L178.46,187.74 L177.37,189.66 L176.38,191.86 L174.86,193.10 L173.79,195.30 L171.98,196.26 L169.67,197.09 L167.55,198.10 L165.17,198.41 L163.04,199.59 L160.52,199.48 L158.46,198.90 L156.76,197.77 L154.51,197.47 L152.68,196.25 L151.10,194.88 L150.44,193.11 L149.43,191.45 L149.92,189.23 L149.37,187.72 L149.55,185.63 L150.08,183.97 L151.07,182.38 L152.57,179.84 L154.21,179.05 L155.91,177.37 L158.25,176.21 L160.50,175.86 Z" fill="none" stroke="#f09050" stroke-opacity="0.38" stroke-width="0.4"/>
<path d="M168.22,170.39 L170.16,170.65 L172.00,171.22 L173.86,171.51 L175.91,173.17 L177.06,174.61 L177.97,176.03 L179.38,177.89 L179.91,179.74 L181.15,182.01 L180.72,184.20 L180.98,186.35 L179.84,188.76 L179.24,190.85 L177.85,192.49 L176.81,193.94 L175.77,195.29 L173.72,197.35 L171.91,198.03 L170.00,198.25 L168.08,198.88 L166.05,198.24 L164.18,197.62 L162.37,196.99 L160.82,195.65 L159.42,193.76 L157.79,192.80 L157.21,190.20 L156.10,188.49 L155.15,186.40 L155.13,184.07 L155.37,181.75 L156.30,179.50 L156.72,177.57 L157.75,175.51 L159.41,173.76 L160.71,172.30 L162.58,170.91 L164.17,170.49 L166.21,169.77 L168.22,170.47 Z" fill="none" stroke="#f09050" stroke-opacity="0.38" stroke-width="0.4"/>
<path d="M179.05,170.47 L181.35,170.48 L183.39,171.88 L184.42,173.96 L185.98,176.17 L187.13,177.75 L188.31,180.40 L187.70,181.93 L188.11,184.90 L187.83,187.16 L186.83,189.26 L185.63,191.30 L184.62,193.20 L182.56,195.08 L181.29,196.22 L178.71,198.03 L176.85,198.50 L174.89,199.29 L172.48,199.34 L170.60,198.64 L168.04,198.77 L166.09,197.46 L164.31,195.80 L162.97,194.61 L161.09,192.27 L160.31,190.94 L159.76,187.97 L159.81,186.17 L159.26,183.60 L159.23,180.98 L160.69,179.09 L161.60,176.95 L162.32,174.57 L163.85,173.26 L166.01,172.07 L168.40,170.20 L170.50,169.47 L172.24,169.13 L174.92,168.87 L176.91,169.49 L179.22,170.02 Z" fill="none" stroke="#f09050" stroke-opacity="0.38" stroke-width="0.4"/>
<path d="M166.49,173.19 L168.61,173.54 L170.43,173.59 L172.14,173.51 L174.14,175.36 L175.57,176.38 L177.57,177.59 L177.71,179.40 L179.52,181.17 L179.08,183.09 L179.53,185.05 L179.58,187.01 L179.69,189.05 L178.31,190.62 L178.15,192.84 L176.22,194.46 L174.71,195.76 L173.19,196.87 L171.67,197.91 L169.61,198.01 L167.59,198.87 L165.53,198.42 L163.48,197.68 L161.67,196.76 L160.19,195.76 L158.38,195.11 L156.45,193.31 L155.75,191.73 L155.34,190.02 L154.07,188.23 L154.41,186.13 L153.70,184.08 L155.00,181.99 L155.79,180.48 L156.09,178.88 L157.58,177.39 L158.85,175.78 L160.59,175.03 L162.58,173.11 L164.42,173.24 L166.48,173.12 Z" fill="none" stroke="#f09050" stroke-opacity="0.38" stroke-width="0.4"/>
<path d="M163.77,176.76 L165.25,176.47 L166.82,176.75 L168.45,177.39 L169.85,177.24 L170.80,178.83 L172.22,179.21 L173.17,180.73 L173.88,182.08 L175.34,183.62 L175.71,185.29 L175.54,187.09 L175.63,188.71 L175.48,190.70 L175.20,191.80 L175.02,193.40 L173.80,194.56 L172.87,195.85 L171.89,197.17 L170.47,197.63 L169.15,198.36 L167.66,198.25 L166.26,198.85 L164.52,198.02 L163.30,197.52 L162.00,196.94 L160.73,195.39 L159.41,194.55 L158.39,193.06 L157.93,191.46 L157.13,189.92 L156.68,188.27 L156.92,186.49 L157.46,184.71 L157.74,182.78 L157.97,181.65 L159.17,180.62 L160.01,178.63 L161.13,177.64 L162.33,177.17 L163.81,176.95 Z" fill="none" stroke="#f8b040" stroke-opacity="0.38" stroke-width="0.4"/>
<path d="M171.67,179.76 L173.33,180.40 L174.93,181.05 L176.44,181.43 L178.11,183.09 L178.98,184.02 L180.18,185.36 L180.25,186.70 L181.04,188.28 L181.18,189.57 L181.63,191.24 L181.04,192.63 L180.39,193.85 L179.13,195.27 L178.36,196.30 L176.22,196.91 L174.75,197.58 L173.40,197.96 L171.60,198.93 L169.99,198.45 L168.10,198.40 L166.50,197.47 L164.81,197.05 L163.37,196.54 L162.09,195.45 L161.06,194.03 L159.38,192.53 L158.60,191.40 L158.92,189.84 L158.72,188.44 L158.17,186.75 L159.34,185.43 L159.79,184.07 L160.44,182.93 L162.18,182.06 L163.59,181.11 L164.92,180.45 L166.23,179.70 L168.08,179.06 L169.86,179.34 L171.64,179.91 Z" fill="none" stroke="#f8b040" stroke-opacity="0.38" stroke-width="0.4"/>
<path d="M165.88,180.94 L167.62,180.49 L169.53,180.96 L171.24,181.09 L172.62,181.51 L174.04,182.71 L175.84,183.13 L176.58,184.54 L178.05,185.59 L178.39,186.88 L177.89,188.32 L178.59,189.60 L178.55,190.99 L177.75,192.51 L177.20,193.90 L175.34,195.13 L174.11,195.86 L172.88,196.88 L171.05,197.17 L169.51,197.97 L167.66,198.22 L165.81,198.50 L164.07,198.41 L162.05,197.65 L160.81,196.97 L159.06,196.38 L158.24,195.66 L156.70,194.56 L156.42,193.34 L155.65,192.04 L155.53,190.63 L154.95,189.24 L155.36,187.80 L156.07,186.67 L157.19,185.43 L158.26,183.84 L159.49,183.07 L160.37,181.96 L162.38,181.82 L164.04,180.51 L165.86,180.80 Z" fill="none" stroke="#f8b040" stroke-opacity="0.38" stroke-width="0.4"/>
<path d="M174.67,175.96 L176.95,175.92 L179.05,176.56 L180.83,178.65 L182.43,179.94 L184.11,181.38 L185.30,183.06 L184.97,184.64 L185.88,186.35 L186.46,188.29 L185.81,190.08 L185.18,191.87 L184.26,193.26 L182.94,194.92 L181.24,196.03 L179.64,196.80 L177.82,198.31 L175.92,198.93 L173.82,198.42 L171.50,198.88 L169.41,198.36 L167.31,197.54 L165.05,197.13 L163.46,195.18 L162.17,194.47 L160.83,192.63 L159.44,191.31 L158.17,188.80 L158.27,187.37 L158.15,185.53 L158.14,183.58 L159.20,181.87 L159.42,180.25 L161.60,178.82 L162.09,177.11 L164.57,176.56 L165.92,175.85 L168.58,175.08 L170.24,174.92 L172.79,174.67 L174.70,175.81 Z" fill="none" stroke="#f8b040" stroke-opacity="0.38" stroke-width="0.4"/>
<path d="M171.89,168.47 L173.20,169.30 L174.67,170.47 L175.75,170.61 L176.96,172.61 L177.66,174.20 L178.36,175.51 L179.10,177.79 L179.83,180.11 L179.87,182.29 L179.78,184.65 L178.69,186.91 L178.80,188.98 L177.84,191.40 L176.54,193.33 L176.01,194.45 L174.35,196.39 L173.15,197.22 L171.71,198.20 L170.39,198.01 L168.85,198.59 L167.47,198.29 L166.21,197.31 L164.94,196.09 L163.94,194.49 L162.97,193.23 L161.79,191.51 L161.68,189.75 L161.58,187.20 L160.85,185.13 L160.84,182.73 L161.85,180.55 L162.18,178.49 L163.23,176.10 L164.13,174.45 L164.87,173.00 L165.96,171.13 L167.61,170.50 L168.96,170.13 L170.39,169.80 L171.77,169.65 Z" fill="none" stroke="#f8b040" stroke-opacity="0.38" stroke-width="0.4"/>
<path d="M173.68,175.47 L174.91,176.68 L176.30,177.25 L177.36,177.97 L178.63,179.52 L179.26,180.90 L179.56,182.23 L180.20,184.28 L180.33,185.80 L179.91,187.59 L179.61,189.29 L179.70,191.20 L178.24,192.80 L177.68,194.24 L176.39,195.56 L175.55,196.36 L174.01,197.71 L172.67,198.20 L170.87,198.80 L169.42,198.93 L168.11,198.16 L166.82,197.55 L165.35,197.50 L164.40,195.68 L163.32,195.23 L162.68,193.37 L162.11,191.62 L161.53,190.11 L161.14,188.34 L161.15,186.57 L161.79,184.92 L161.89,183.13 L162.73,181.59 L163.65,179.77 L164.74,178.99 L166.43,177.97 L167.55,177.00 L168.94,176.14 L170.46,176.14 L172.16,175.82 L173.59,175.86 Z" fill="none" stroke="#f8b040" stroke-opacity="0.38" stroke-width="0.4"/>
<path d="M173.55,176.03 L175.11,177.28 L177.17,177.58 L178.21,179.43 L179.49,180.43 L181.29,181.86 L181.92,183.25 L182.34,184.80 L182.53,186.84 L182.79,188.58 L182.54,190.35 L182.40,192.21 L181.53,193.72 L180.03,194.97 L178.38,196.25 L177.15,197.26 L175.52,197.77 L173.82,198.16 L171.87,198.27 L170.01,198.15 L168.11,197.86 L166.26,197.17 L164.36,196.61 L163.16,195.66 L161.70,194.68 L160.39,193.27 L159.49,191.25 L159.22,189.65 L158.95,187.90 L159.01,186.25 L158.94,184.47 L159.39,182.76 L160.18,181.14 L161.02,179.76 L162.89,178.90 L163.83,177.91 L166.10,176.54 L167.81,176.02 L169.60,175.65 L171.54,176.38 L173.40,176.60 Z" fill="none" stroke="#f8b040" stroke-opacity="0.38" stroke-width="0.4"/>
<path d="M169.02,174.09 L170.72,174.44 L172.36,174.35 L173.89,175.21 L175.30,176.95 L176.71,177.58 L177.23,179.61 L178.12,180.85 L178.59,182.71 L179.02,184.59 L179.55,186.49 L179.00,188.36 L179.00,190.15 L177.56,192.18 L176.70,193.57 L175.81,194.87 L174.52,196.65 L173.12,197.01 L171.61,198.30 L170.02,197.60 L168.33,198.38 L166.61,198.50 L165.00,197.59 L163.49,197.23 L161.94,195.82 L161.29,194.94 L160.25,193.02 L158.80,191.43 L159.01,189.48 L157.88,187.71 L158.12,185.88 L158.37,183.93 L158.92,182.16 L159.85,180.40 L160.08,178.50 L161.34,176.98 L162.79,176.16 L164.17,175.46 L165.68,174.22 L167.35,174.74 L169.03,173.61 Z" fill="none" stroke="#f8b040" stroke-opacity="0.38" stroke-width="0.4"/>
<path d="M171.17,180.16 L173.26,180.71 L174.99,180.94 L177.09,181.76 L178.89,182.67 L179.66,184.02 L181.29,185.11 L182.49,186.44 L182.18,187.72 L183.54,189.37 L183.00,190.81 L182.48,192.16 L181.76,193.54 L181.13,194.98 L179.96,195.80 L178.11,196.74 L176.99,197.60 L174.77,197.67 L172.88,198.57 L170.79,198.70 L168.86,198.38 L166.92,198.06 L165.03,197.14 L163.02,196.48 L161.65,195.37 L160.39,194.21 L158.81,193.11 L158.21,191.95 L157.26,190.49 L157.39,189.06 L157.32,187.55 L157.44,186.17 L158.34,184.93 L159.30,183.65 L160.30,182.43 L162.10,181.69 L163.54,180.95 L165.08,179.95 L166.95,180.35 L169.14,180.11 L171.20,179.98 Z" fill="none" stroke="#f8b040" stroke-opacity="0.38" stroke-width="0.4"/>
<path d="M169.6,172.8 L169.0,177.6" stroke="#f07040" stroke-width="1.8" fill="none"/>
<path d="M169.0,177.6 L167.1,193.0" stroke="#eef51e" stroke-width="2.0" fill="none"/>
<path d="M167.1,193.0 L166.6,196.8" stroke="#7a1aa0" stroke-width="2.0" fill="none"/>
<path d="M264.5,178.2 C268.0,171.1 275.6,163.8 283.4,162.5 C291.8,162.1 298.1,166.2 299.9,171.2 C300.6,175.2 299.0,179.7 292.6,182.2" fill="none" stroke="#e890a0" stroke-opacity="0.25" stroke-width="0.4"/>
<path d="M264.5,175.0 C268.0,167.7 275.8,160.3 283.7,159.0 C292.4,158.7 298.8,163.0 300.6,168.0 C301.2,172.0 299.5,176.5 292.8,179.0" fill="none" stroke="#e890a0" stroke-opacity="0.25" stroke-width="0.4"/>
<path d="M262.7,176.6 C266.2,169.5 273.7,162.3 281.4,161.0 C289.7,160.5 296.0,164.6 297.8,169.6 C298.5,173.6 297.0,178.1 290.7,180.6" fill="none" stroke="#f4b080" stroke-opacity="0.25" stroke-width="0.4"/>
<path d="M262.8,177.2 C266.3,170.6 273.4,163.5 281.0,162.2 C288.7,161.6 294.7,165.2 296.5,170.2 C297.5,174.2 296.1,178.7 290.4,181.2" fill="none" stroke="#f8a060" stroke-opacity="0.25" stroke-width="0.4"/>
<path d="M264.4,175.5 C267.9,168.1 275.7,160.7 283.6,159.4 C292.3,159.1 298.7,163.5 300.5,168.5 C301.1,172.5 299.4,177.0 292.7,179.5" fill="none" stroke="#e890a0" stroke-opacity="0.25" stroke-width="0.4"/>
<path d="M265.0,177.6 C268.5,171.0 275.5,164.0 283.1,162.7 C290.7,162.0 296.7,165.6 298.5,170.6 C299.5,174.6 298.2,179.1 292.5,181.6" fill="none" stroke="#f8a060" stroke-opacity="0.25" stroke-width="0.4"/>
<path d="M265.1,176.1 C268.6,169.3 275.9,162.1 283.6,160.8 C291.6,160.3 297.7,164.1 299.5,169.1 C300.4,173.1 298.9,177.6 292.9,180.1" fill="none" stroke="#f8a060" stroke-opacity="0.25" stroke-width="0.4"/>
<path d="M262.6,178.4 C266.1,170.4 274.6,162.7 282.9,161.4 C292.6,161.4 299.3,166.4 301.1,171.4 C301.4,175.4 299.3,179.9 291.6,182.4" fill="none" stroke="#f4b080" stroke-opacity="0.25" stroke-width="0.4"/>
<path d="M264.3,175.8 C267.8,169.5 274.5,162.6 281.9,161.3 C289.1,160.5 295.0,163.8 296.8,168.8 C297.9,172.8 296.7,177.3 291.5,179.8" fill="none" stroke="#f4b080" stroke-opacity="0.25" stroke-width="0.4"/>
<path d="M266.1,176.3 C269.6,169.4 277.0,162.2 284.7,160.9 C292.9,160.4 299.1,164.3 300.9,169.3 C301.7,173.3 300.1,177.8 294.0,180.3" fill="none" stroke="#f4b080" stroke-opacity="0.25" stroke-width="0.4"/>
<path d="M264.7,176.7 C268.2,169.4 276.0,162.0 283.8,160.7 C292.5,160.4 298.9,164.7 300.7,169.7 C301.3,173.7 299.6,178.2 293.0,180.7" fill="none" stroke="#f4b080" stroke-opacity="0.25" stroke-width="0.4"/>
<path d="M261.2,178.3 C264.7,170.4 273.0,162.7 281.2,161.4 C290.7,161.4 297.4,166.3 299.2,171.3 C299.5,175.3 297.5,179.8 290.0,182.3" fill="none" stroke="#f8a060" stroke-opacity="0.25" stroke-width="0.4"/>
<path d="M263.9,176.2 C267.4,169.6 274.5,162.5 282.1,161.2 C289.7,160.6 295.8,164.2 297.6,169.2 C298.5,173.2 297.2,177.7 291.5,180.2" fill="none" stroke="#e890a0" stroke-opacity="0.25" stroke-width="0.4"/>
<path d="M262.6,178.0 C266.1,171.0 273.5,163.8 281.3,162.5 C289.5,162.0 295.7,166.0 297.5,171.0 C298.3,175.0 296.7,179.5 290.5,182.0" fill="none" stroke="#f4b080" stroke-opacity="0.25" stroke-width="0.4"/>
<path d="M265.7,177.3 C269.2,170.8 276.2,163.8 283.8,162.5 C291.3,161.8 297.4,165.3 299.2,170.3 C300.1,174.3 298.8,178.8 293.2,181.3" fill="none" stroke="#fbc070" stroke-opacity="0.25" stroke-width="0.4"/>
<path d="M261.3,177.0 C264.8,169.3 273.0,161.7 281.1,160.4 C290.5,160.3 297.1,165.0 298.9,170.0 C299.3,174.0 297.3,178.5 290.0,181.0" fill="none" stroke="#f4b080" stroke-opacity="0.25" stroke-width="0.4"/>
<path d="M263.6,178.4 C267.1,171.6 274.4,164.5 282.1,163.2 C290.0,162.6 296.1,166.4 297.9,171.4 C298.8,175.4 297.3,179.9 291.4,182.4" fill="none" stroke="#e890a0" stroke-opacity="0.25" stroke-width="0.4"/>
<path d="M264.2,177.3 C267.7,170.0 275.4,162.6 283.3,161.3 C291.9,161.0 298.2,165.3 300.0,170.3 C300.7,174.3 299.0,178.8 292.4,181.3" fill="none" stroke="#f4b080" stroke-opacity="0.25" stroke-width="0.4"/>
<path d="M263.5,175.3 C267.0,167.3 275.6,159.5 283.8,158.2 C293.7,158.3 300.4,163.3 302.2,168.3 C302.5,172.3 300.4,176.8 292.6,179.3" fill="none" stroke="#f4b080" stroke-opacity="0.25" stroke-width="0.4"/>
<path d="M265.5,176.9 C269.0,169.5 276.8,162.1 284.8,160.8 C293.5,160.5 299.9,164.9 301.7,169.9 C302.3,173.9 300.6,178.4 293.8,180.9" fill="none" stroke="#f4b080" stroke-opacity="0.25" stroke-width="0.4"/>
<path d="M264.5,176.5 C268,171 274,164.5 281,163.2 C287,162 292.5,164.5 294.3,169.5 C295.8,173.5 295,178 291,180.5 C284,183 270,182 264.5,176.5 Z" fill="#fdf0ea" fill-opacity="0.3"/>
<path d="M264.5,176.5 C268,171 274,164.5 281,163.2 C287,162 292.5,164.5 294.3,169.5 C295.8,173.5 295,178 291,180.5" fill="none" stroke="#f68a2e" stroke-width="4.40" stroke-dasharray="0.6 0.9" stroke-opacity="0.75"/>
<path d="M264.5,176.5 C268,171 274,164.5 281,163.2 C287,162 292.5,164.5 294.3,169.5 C295.8,173.5 295,178 291,180.5" fill="none" stroke="#f68a2e" stroke-width="2.2" stroke-opacity="1.0"/>
<path d="M264.5,176.5 C266,178.5 269,179.5 271.5,178" fill="none" stroke="#f58a3a" stroke-width="3.20" stroke-dasharray="0.6 0.9" stroke-opacity="0.60"/>
<path d="M264.5,176.5 C266,178.5 269,179.5 271.5,178" fill="none" stroke="#f58a3a" stroke-width="1.0" stroke-opacity="0.8"/>
<path d="M291,180.5 C285,182 276,181.5 270,179.5" fill="none" stroke="#f07850" stroke-width="1.1" stroke-opacity="0.7"/>
<path d="M267.5,176 C271,171 276,166.5 281.5,165.8 C286.5,165 290.5,167 291.8,171 C292.8,174.5 292,177.5 289.5,179.5" fill="none" stroke="#fbb030" stroke-width="1.6" stroke-opacity="0.9"/>
<path d="M311.19,187.99 L311.54,188.56 L310.87,189.28 L308.75,190.18 L306.05,191.06 L303.03,191.86 L300.32,192.45 L296.41,193.25 L292.35,193.96 L287.98,194.51 L283.63,195.09 L279.66,195.34 L275.40,195.71 L272.19,195.73 L269.26,195.60 L267.12,195.37 L264.51,195.16 L263.17,194.68 L264.08,193.96 L263.43,193.42 L264.04,192.77 L266.08,191.97 L269.21,190.98 L271.41,190.19 L275.14,189.47 L278.78,188.82 L283.01,187.86 L287.07,187.29 L291.24,186.89 L295.56,186.58 L299.67,186.38 L302.40,186.38 L306.31,186.26 L308.20,186.63 L310.76,186.82 L310.87,187.39 L311.38,187.97 Z" fill="none" stroke="#9a80d8" stroke-opacity="0.3" stroke-width="0.45"/>
<path d="M307.62,188.10 L306.70,189.01 L305.79,189.82 L305.01,190.63 L302.78,191.53 L300.00,192.48 L296.86,193.07 L292.63,193.78 L288.86,194.21 L284.98,194.68 L281.16,195.17 L277.19,195.17 L273.30,195.10 L269.85,194.87 L267.61,194.63 L264.44,194.11 L263.70,193.49 L262.37,192.80 L261.95,192.04 L262.52,191.18 L262.15,190.39 L265.10,189.44 L267.11,188.47 L269.39,187.78 L272.65,187.11 L276.18,186.38 L280.16,185.99 L284.18,185.44 L288.24,185.25 L292.25,184.96 L295.61,184.98 L298.87,185.15 L301.48,185.60 L304.03,186.04 L305.93,186.70 L306.88,187.35 L306.82,188.17 Z" fill="none" stroke="#b070d0" stroke-opacity="0.3" stroke-width="0.45"/>
<path d="M311.86,185.60 L310.24,186.62 L310.34,187.41 L307.85,188.43 L306.48,189.24 L303.15,190.29 L299.49,191.28 L295.46,192.30 L291.42,192.76 L287.32,193.45 L282.98,194.24 L278.74,194.34 L275.27,194.57 L271.22,194.79 L268.59,194.51 L265.96,194.16 L264.85,193.64 L263.16,193.11 L261.55,192.55 L262.14,191.70 L263.75,190.71 L265.43,189.71 L267.60,188.73 L270.88,187.79 L273.78,186.84 L278.00,185.94 L282.01,185.15 L286.10,184.61 L290.39,184.12 L294.23,183.76 L298.21,183.57 L302.55,183.50 L304.42,183.62 L306.73,184.07 L309.82,184.29 L309.82,185.11 L311.19,185.69 Z" fill="none" stroke="#8060d0" stroke-opacity="0.3" stroke-width="0.45"/>
<path d="M305.11,186.53 L304.35,187.28 L302.80,188.14 L302.50,188.71 L300.29,189.65 L297.72,190.43 L294.81,191.32 L291.58,192.11 L288.27,192.80 L284.62,193.24 L281.16,193.77 L277.56,194.11 L274.48,194.35 L271.31,194.51 L268.35,194.50 L266.85,194.34 L264.54,194.08 L263.33,193.69 L263.53,193.01 L264.34,192.24 L265.35,191.47 L266.49,190.78 L267.92,190.01 L270.99,189.14 L273.15,188.39 L276.41,187.56 L280.14,186.89 L283.55,186.34 L286.97,185.64 L290.46,185.36 L293.77,185.03 L296.55,185.19 L299.59,185.02 L302.01,185.26 L302.63,185.68 L303.79,186.13 L303.96,186.71 Z" fill="none" stroke="#b070d0" stroke-opacity="0.3" stroke-width="0.45"/>
<path d="M307.76,190.44 L308.72,191.31 L306.45,192.32 L305.85,193.16 L303.42,193.92 L300.88,194.70 L298.46,195.27 L294.88,195.57 L291.25,195.97 L287.71,196.16 L284.22,196.17 L280.41,196.10 L277.53,195.98 L274.68,195.44 L271.76,194.82 L269.79,194.09 L268.15,193.28 L267.77,192.48 L267.37,191.56 L266.57,190.67 L268.19,189.76 L269.86,188.83 L271.20,187.98 L274.37,187.39 L277.22,186.81 L280.44,186.45 L283.79,185.87 L287.43,185.92 L291.16,185.64 L294.65,185.97 L298.21,186.14 L300.43,186.63 L303.32,187.31 L304.80,187.87 L307.38,188.64 L308.05,189.53 L308.61,190.42 Z" fill="none" stroke="#9a80d8" stroke-opacity="0.3" stroke-width="0.45"/>
<path d="M309.99,190.52 L310.14,191.41 L309.49,192.31 L306.96,193.29 L304.47,193.87 L301.74,194.78 L298.61,195.24 L294.28,195.58 L290.23,196.13 L285.76,196.25 L281.26,196.12 L277.36,196.11 L273.07,195.66 L270.24,195.17 L266.18,194.57 L264.01,194.00 L262.40,193.09 L260.61,192.31 L260.35,191.39 L261.19,190.47 L262.14,189.52 L264.18,188.76 L266.58,187.83 L269.15,187.33 L272.72,186.47 L277.11,186.07 L281.15,185.82 L285.58,185.92 L290.07,185.79 L294.39,185.74 L298.50,186.11 L302.03,186.55 L305.52,187.12 L308.03,187.98 L310.03,188.79 L309.76,189.59 L310.87,190.51 Z" fill="none" stroke="#b070d0" stroke-opacity="0.3" stroke-width="0.45"/>
<path d="M308.83,190.36 L308.36,191.18 L307.52,191.99 L306.49,192.78 L304.50,193.44 L300.68,194.03 L297.44,194.79 L294.18,195.03 L290.33,195.18 L286.44,195.44 L282.43,195.59 L278.53,195.26 L274.77,195.10 L271.67,194.81 L268.87,194.18 L266.84,193.56 L264.90,192.80 L264.36,192.01 L264.29,191.17 L263.37,190.33 L264.54,189.54 L266.44,188.70 L268.58,187.93 L271.22,187.34 L274.85,186.82 L278.27,186.44 L282.21,186.17 L286.27,186.19 L290.35,185.91 L294.13,186.17 L298.01,186.33 L300.95,186.91 L303.16,187.41 L306.06,188.04 L307.48,188.74 L308.99,189.55 L309.71,190.34 Z" fill="none" stroke="#9a80d8" stroke-opacity="0.3" stroke-width="0.45"/>
<path d="M305.82,188.41 L305.00,189.04 L305.06,189.58 L302.24,190.31 L301.03,190.93 L297.84,191.66 L295.27,192.08 L291.86,192.56 L288.49,193.00 L284.72,193.50 L281.10,193.68 L277.33,193.93 L274.14,193.99 L270.56,193.90 L268.70,193.70 L266.11,193.37 L264.09,193.08 L262.95,192.59 L263.06,192.03 L264.20,191.38 L264.04,190.86 L265.75,190.16 L268.01,189.46 L270.67,188.81 L273.70,188.26 L277.00,187.66 L280.55,187.40 L284.17,186.99 L287.77,186.64 L291.23,186.58 L294.84,186.62 L298.28,186.59 L300.35,186.71 L302.01,187.07 L304.33,187.44 L305.35,187.90 L305.92,188.40 Z" fill="none" stroke="#9a80d8" stroke-opacity="0.3" stroke-width="0.45"/>
<path d="M312.06,188.44 L311.46,189.31 L311.47,190.20 L310.10,191.02 L306.63,192.07 L304.14,192.89 L299.69,193.68 L296.15,194.22 L291.86,194.62 L287.58,195.04 L283.10,195.00 L278.61,195.05 L274.56,195.13 L271.08,194.75 L267.64,194.51 L265.96,193.92 L263.77,193.24 L262.94,192.40 L262.55,191.58 L263.01,190.71 L263.36,189.83 L265.89,188.80 L267.48,188.07 L271.06,187.27 L273.93,186.59 L278.30,185.76 L282.59,185.29 L286.94,184.99 L291.22,184.97 L295.32,184.70 L300.03,184.81 L303.28,185.32 L306.46,185.51 L309.40,186.23 L311.84,186.70 L312.29,187.60 L312.98,188.38 Z" fill="none" stroke="#9a80d8" stroke-opacity="0.3" stroke-width="0.45"/>
<path d="M308.21,189.24 L307.77,189.96 L306.77,190.66 L305.11,191.38 L302.66,192.15 L299.66,192.84 L296.64,193.37 L293.87,193.82 L290.05,194.39 L286.31,194.77 L282.64,194.86 L278.82,194.98 L275.59,195.16 L272.91,194.84 L270.01,194.68 L267.59,194.16 L266.21,193.74 L264.39,193.17 L264.46,192.51 L264.71,191.80 L265.93,191.09 L266.66,190.44 L269.88,189.60 L271.84,189.04 L275.23,188.43 L278.12,187.90 L281.87,187.40 L285.72,186.95 L289.50,186.80 L292.90,186.87 L296.67,186.78 L299.26,187.01 L302.73,187.07 L304.59,187.65 L306.83,188.05 L307.59,188.61 L307.08,189.32 Z" fill="none" stroke="#9a80d8" stroke-opacity="0.3" stroke-width="0.45"/>
<path d="M304.42,188.26 L304.29,188.74 L303.83,189.24 L303.03,189.76 L301.91,190.28 L300.50,190.80 L298.81,191.30 L296.88,191.78 L294.73,192.23 L292.41,192.65 L289.96,193.01 L287.41,193.33 L284.81,193.59 L282.21,193.78 L279.65,193.92 L277.17,193.98 L274.81,193.98 L272.62,193.91 L270.63,193.77 L268.88,193.57 L267.40,193.30 L266.21,192.98 L265.34,192.61 L264.79,192.20 L264.58,191.74 L264.71,191.26 L265.17,190.76 L265.97,190.24 L267.09,189.72 L268.50,189.20 L270.19,188.70 L272.12,188.22 L274.27,187.77 L276.59,187.35 L279.04,186.99 L281.59,186.67 L284.19,186.41 L286.79,186.22 L289.35,186.08 L291.83,186.02 L294.19,186.02 L296.38,186.09 L298.37,186.23 L300.12,186.43 L301.60,186.70 L302.79,187.02 L303.66,187.39 L304.21,187.80 L304.42,188.26 Z" fill="#7048b8" fill-opacity="0.45"/>
<path d="M265,188.5 C272,186.5 280,189 292,188.5 M266,190.5 C275,189 285,191 300,188" fill="none" stroke="#8a20b0" stroke-width="0.9" stroke-opacity="0.75"/>
<path d="M304.92,188.41 L304.79,188.94 L304.31,189.48 L303.50,190.04 L302.36,190.60 L300.91,191.15 L299.18,191.68 L297.20,192.19 L295.01,192.67 L292.63,193.11 L290.11,193.49 L287.50,193.82 L284.84,194.09 L282.17,194.29 L279.54,194.42 L277.00,194.47 L274.58,194.46 L272.34,194.37 L270.30,194.21 L268.51,193.98 L266.98,193.69 L265.76,193.34 L264.86,192.93 L264.30,192.48 L264.08,191.99 L264.21,191.46 L264.69,190.92 L265.50,190.36 L266.64,189.80 L268.09,189.25 L269.82,188.72 L271.80,188.21 L273.99,187.73 L276.37,187.29 L278.89,186.91 L281.50,186.58 L284.16,186.31 L286.83,186.11 L289.46,185.98 L292.00,185.93 L294.42,185.94 L296.66,186.03 L298.70,186.19 L300.49,186.42 L302.02,186.71 L303.24,187.06 L304.14,187.47 L304.70,187.92 L304.92,188.41 Z" fill="none" stroke="#3a10a0" stroke-width="0.9" stroke-opacity="0.7"/>
<path d="M264.2,191.4 C268,193.5 278,194.5 290,193 C298,191.5 305,189 304.7,187 C304,185 300,185 296,186" fill="none" stroke="#2a0a9a" stroke-width="3.80" stroke-dasharray="0.6 0.9" stroke-opacity="0.75"/>
<path d="M264.2,191.4 C268,193.5 278,194.5 290,193 C298,191.5 305,189 304.7,187 C304,185 300,185 296,186" fill="none" stroke="#2a0a9a" stroke-width="1.6" stroke-opacity="1.0"/>
<path d="M264,181.7 C276,181 290,181 301,181.8" fill="none" stroke="#c8408a" stroke-width="1.0" stroke-opacity="0.75"/>
<path d="M270.3,183.5 C280,182.5 292,182.3 299.4,182.6" fill="none" stroke="#eef51e" stroke-width="3.60" stroke-dasharray="0.6 0.9" stroke-opacity="0.75"/>
<path d="M270.3,183.5 C280,182.5 292,182.3 299.4,182.6" fill="none" stroke="#eef51e" stroke-width="1.4" stroke-opacity="1.0"/>
<path d="M268.6,187 C276,186.5 284,186 290,185.5 L299,183" fill="none" stroke="#eef51e" stroke-width="1.3"/>
<path d="M30.40,78.60 V130.60 H89.90" fill="none" stroke="#111" stroke-width="1.05"/>
<line x1="27.80" y1="82.40" x2="30.40" y2="82.40" stroke="#111" stroke-width="0.9"/>
<line x1="27.80" y1="97.20" x2="30.40" y2="97.20" stroke="#111" stroke-width="0.9"/>
<line x1="27.80" y1="112.00" x2="30.40" y2="112.00" stroke="#111" stroke-width="0.9"/>
<line x1="27.80" y1="126.80" x2="30.40" y2="126.80" stroke="#111" stroke-width="0.9"/>
<line x1="37.70" y1="130.60" x2="37.70" y2="133.20" stroke="#111" stroke-width="0.9"/>
<line x1="52.50" y1="130.60" x2="52.50" y2="133.20" stroke="#111" stroke-width="0.9"/>
<line x1="67.30" y1="130.60" x2="67.30" y2="133.20" stroke="#111" stroke-width="0.9"/>
<line x1="82.10" y1="130.60" x2="82.10" y2="133.20" stroke="#111" stroke-width="0.9"/>
<path d="M30.10,153.00 V205.00 H89.60" fill="none" stroke="#111" stroke-width="1.05"/>
<line x1="27.50" y1="156.80" x2="30.10" y2="156.80" stroke="#111" stroke-width="0.9"/>
<line x1="27.50" y1="171.60" x2="30.10" y2="171.60" stroke="#111" stroke-width="0.9"/>
<line x1="27.50" y1="186.40" x2="30.10" y2="186.40" stroke="#111" stroke-width="0.9"/>
<line x1="27.50" y1="201.20" x2="30.10" y2="201.20" stroke="#111" stroke-width="0.9"/>
<line x1="37.40" y1="205.00" x2="37.40" y2="207.60" stroke="#111" stroke-width="0.9"/>
<line x1="52.20" y1="205.00" x2="52.20" y2="207.60" stroke="#111" stroke-width="0.9"/>
<line x1="67.00" y1="205.00" x2="67.00" y2="207.60" stroke="#111" stroke-width="0.9"/>
<line x1="81.80" y1="205.00" x2="81.80" y2="207.60" stroke="#111" stroke-width="0.9"/>
<path d="M146.00,78.60 V130.60 H205.50" fill="none" stroke="#111" stroke-width="1.05"/>
<line x1="143.40" y1="82.40" x2="146.00" y2="82.40" stroke="#111" stroke-width="0.9"/>
<line x1="143.40" y1="97.20" x2="146.00" y2="97.20" stroke="#111" stroke-width="0.9"/>
<line x1="143.40" y1="112.00" x2="146.00" y2="112.00" stroke="#111" stroke-width="0.9"/>
<line x1="143.40" y1="126.80" x2="146.00" y2="126.80" stroke="#111" stroke-width="0.9"/>
<line x1="153.30" y1="130.60" x2="153.30" y2="133.20" stroke="#111" stroke-width="0.9"/>
<line x1="168.10" y1="130.60" x2="168.10" y2="133.20" stroke="#111" stroke-width="0.9"/>
<line x1="182.90" y1="130.60" x2="182.90" y2="133.20" stroke="#111" stroke-width="0.9"/>
<line x1="197.70" y1="130.60" x2="197.70" y2="133.20" stroke="#111" stroke-width="0.9"/>
<path d="M146.20,153.00 V205.00 H205.70" fill="none" stroke="#111" stroke-width="1.05"/>
<line x1="143.60" y1="156.80" x2="146.20" y2="156.80" stroke="#111" stroke-width="0.9"/>
<line x1="143.60" y1="171.60" x2="146.20" y2="171.60" stroke="#111" stroke-width="0.9"/>
<line x1="143.60" y1="186.40" x2="146.20" y2="186.40" stroke="#111" stroke-width="0.9"/>
<line x1="143.60" y1="201.20" x2="146.20" y2="201.20" stroke="#111" stroke-width="0.9"/>
<line x1="153.50" y1="205.00" x2="153.50" y2="207.60" stroke="#111" stroke-width="0.9"/>
<line x1="168.30" y1="205.00" x2="168.30" y2="207.60" stroke="#111" stroke-width="0.9"/>
<line x1="183.10" y1="205.00" x2="183.10" y2="207.60" stroke="#111" stroke-width="0.9"/>
<line x1="197.90" y1="205.00" x2="197.90" y2="207.60" stroke="#111" stroke-width="0.9"/>
<path d="M257.30,149.50 V201.50 H316.80" fill="none" stroke="#111" stroke-width="1.05"/>
<line x1="254.70" y1="153.30" x2="257.30" y2="153.30" stroke="#111" stroke-width="0.9"/>
<line x1="254.70" y1="168.10" x2="257.30" y2="168.10" stroke="#111" stroke-width="0.9"/>
<line x1="254.70" y1="182.90" x2="257.30" y2="182.90" stroke="#111" stroke-width="0.9"/>
<line x1="254.70" y1="197.70" x2="257.30" y2="197.70" stroke="#111" stroke-width="0.9"/>
<line x1="264.60" y1="201.50" x2="264.60" y2="204.10" stroke="#111" stroke-width="0.9"/>
<line x1="279.40" y1="201.50" x2="279.40" y2="204.10" stroke="#111" stroke-width="0.9"/>
<line x1="294.20" y1="201.50" x2="294.20" y2="204.10" stroke="#111" stroke-width="0.9"/>
<line x1="309.00" y1="201.50" x2="309.00" y2="204.10" stroke="#111" stroke-width="0.9"/>
<rect x="27.0" y="73.1" width="65.8" height="63.9" fill="none" stroke="#000" stroke-width="1.4"/>
<rect x="252.6" y="142.9" width="65.7" height="63.7" fill="none" stroke="#000" stroke-width="1.5"/>
<circle cx="106.73" cy="102.57" r="3.4" fill="#0d0887" fill-opacity="0.95"/>
<line x1="112.96" y1="96.34" x2="110.13" y2="99.17" stroke="#000" stroke-width="1.0"/>
<path d="M109.28,100.02 L109.85,97.76 L111.54,99.45 Z" fill="#000"/>
<circle cx="117.20" cy="107.20" r="3.4" fill="#5302a3" fill-opacity="0.95"/>
<line x1="117.20" y1="98.10" x2="117.20" y2="102.10" stroke="#000" stroke-width="1.0"/>
<path d="M117.20,103.30 L116.00,101.30 L118.40,101.30 Z" fill="#000"/>
<circle cx="127.67" cy="102.57" r="3.4" fill="#8b0aa5" fill-opacity="0.95"/>
<line x1="121.44" y1="96.34" x2="124.27" y2="99.17" stroke="#000" stroke-width="1.0"/>
<path d="M125.12,100.02 L122.86,99.45 L124.55,97.76 Z" fill="#000"/>
<circle cx="132.30" cy="92.10" r="3.4" fill="#b83289" fill-opacity="0.95"/>
<line x1="123.20" y1="92.10" x2="127.20" y2="92.10" stroke="#000" stroke-width="1.0"/>
<path d="M128.40,92.10 L126.40,93.30 L126.40,90.90 Z" fill="#000"/>
<circle cx="127.67" cy="81.63" r="3.4" fill="#db5c68" fill-opacity="0.95"/>
<line x1="121.44" y1="87.86" x2="124.27" y2="85.03" stroke="#000" stroke-width="1.0"/>
<path d="M125.12,84.18 L124.55,86.44 L122.86,84.75 Z" fill="#000"/>
<circle cx="117.20" cy="77.00" r="3.4" fill="#f48849" fill-opacity="0.95"/>
<line x1="117.20" y1="86.10" x2="117.20" y2="82.10" stroke="#000" stroke-width="1.0"/>
<path d="M117.20,80.90 L118.40,82.90 L116.00,82.90 Z" fill="#000"/>
<circle cx="106.73" cy="81.63" r="3.4" fill="#febd2a" fill-opacity="0.95"/>
<line x1="112.96" y1="87.86" x2="110.13" y2="85.03" stroke="#000" stroke-width="1.0"/>
<path d="M109.28,84.18 L111.54,84.75 L109.85,86.44 Z" fill="#000"/>
<circle cx="102.10" cy="92.10" r="3.4" fill="#f0f921" fill-opacity="0.95"/>
<line x1="111.20" y1="92.10" x2="107.20" y2="92.10" stroke="#000" stroke-width="1.0"/>
<path d="M106.00,92.10 L108.00,90.90 L108.00,93.30 Z" fill="#000"/>
<rect x="104.6" y="123.2" width="24.8" height="32.9" rx="3.6" fill="#000"/>
<rect x="217.6" y="157.2" width="23.5" height="32.5" rx="3.6" fill="#000"/>
<text x="117" y="134.2" font-size="8.4" text-anchor="middle" fill="#fff" stroke="#fff" stroke-width="0.2">[C<tspan font-size="6.3">S</tspan>]</text>
<text x="117" y="151.4" font-size="8.4" text-anchor="middle" fill="#fff" stroke="#fff" stroke-width="0.2">[C<tspan font-size="6.3">T</tspan>]</text>
<text x="229.5" y="177.3" font-size="8.6" text-anchor="middle" fill="#fff" stroke="#fff" stroke-width="0.15">[C<tspan font-size="7.6">s</tspan><tspan font-size="4.6" dy="-3.2">-1</tspan><tspan dy="3.2">]</tspan></text>
<path d="M92.8,116.7 H98.8 V131.3 H102.5" fill="none" stroke="#000" stroke-width="1.1"/>
<path d="M104.60,131.30 L101.60,129.70 L101.60,132.90 Z" fill="#000"/>
<path d="M91.8,163.4 H98.5 V148.6 H102.5" fill="none" stroke="#000" stroke-width="1.1"/>
<path d="M104.60,148.60 L101.60,147.00 L101.60,150.20 Z" fill="#000"/>
<path d="M129.4,131.0 H136.1 V115.8 H140" fill="none" stroke="#000" stroke-width="1.1"/>
<path d="M142.30,115.80 L139.30,114.20 L139.30,117.40 Z" fill="#000"/>
<path d="M129.4,148.6 H136.1 V163.6 H140" fill="none" stroke="#000" stroke-width="1.1"/>
<path d="M142.30,163.60 L139.30,162.00 L139.30,165.20 Z" fill="#000"/>
<path d="M206.0,174.4 H215.5" fill="none" stroke="#000" stroke-width="1.1"/>
<path d="M217.60,174.40 L214.60,172.80 L214.60,176.00 Z" fill="#000"/>
<path d="M241.1,174.4 H249.5" fill="none" stroke="#000" stroke-width="1.1"/>
<path d="M251.60,174.40 L248.60,172.80 L248.60,176.00 Z" fill="#000"/>
<path d="M256.6,99.2 V120.0 H274.5" fill="none" stroke="#000" stroke-width="1.1"/>
<text x="254.3" y="107.8" font-size="8.7" text-anchor="middle" fill="#000" stroke="#000" stroke-width="0.3" font-weight="normal" transform="rotate(-90 254.3 107.8)">PC2</text>
<text x="268.6" y="128.7" font-size="8.8" text-anchor="middle" fill="#000" stroke="#000" stroke-width="0.3" font-weight="normal">PC1</text>
<g shape-rendering="crispEdges">
<rect x="363.50" y="53.00" width="17.48" height="17.44" fill="#67000d"/>
<rect x="380.68" y="53.00" width="17.48" height="17.44" fill="#eb372a"/>
<rect x="397.87" y="53.00" width="17.48" height="17.44" fill="#eb372a"/>
<rect x="415.05" y="53.00" width="17.48" height="17.44" fill="#ef3d2d"/>
<rect x="432.23" y="53.00" width="17.48" height="17.44" fill="#fcc4ad"/>
<rect x="449.41" y="53.00" width="17.48" height="17.44" fill="#fc9778"/>
<rect x="466.60" y="53.00" width="17.48" height="17.44" fill="#fdc7b1"/>
<rect x="483.78" y="53.00" width="17.48" height="17.44" fill="#fcbea5"/>
<rect x="500.96" y="53.00" width="17.48" height="17.44" fill="#fc9474"/>
<rect x="518.15" y="53.00" width="17.48" height="17.44" fill="#fca183"/>
<rect x="535.33" y="53.00" width="17.48" height="17.44" fill="#fcbea5"/>
<rect x="552.51" y="53.00" width="17.48" height="17.44" fill="#fcae92"/>
<rect x="363.50" y="70.14" width="17.48" height="17.44" fill="#e83429"/>
<rect x="380.68" y="70.14" width="17.48" height="17.44" fill="#67000d"/>
<rect x="397.87" y="70.14" width="17.48" height="17.44" fill="#eb372a"/>
<rect x="415.05" y="70.14" width="17.48" height="17.44" fill="#ef3d2d"/>
<rect x="432.23" y="70.14" width="17.48" height="17.44" fill="#fcbea5"/>
<rect x="449.41" y="70.14" width="17.48" height="17.44" fill="#fc9a7b"/>
<rect x="466.60" y="70.14" width="17.48" height="17.44" fill="#fcc4ad"/>
<rect x="483.78" y="70.14" width="17.48" height="17.44" fill="#fcc4ad"/>
<rect x="500.96" y="70.14" width="17.48" height="17.44" fill="#fc9d7f"/>
<rect x="518.15" y="70.14" width="17.48" height="17.44" fill="#fc9474"/>
<rect x="535.33" y="70.14" width="17.48" height="17.44" fill="#fcc4ad"/>
<rect x="552.51" y="70.14" width="17.48" height="17.44" fill="#fcb196"/>
<rect x="363.50" y="87.28" width="17.48" height="17.44" fill="#e83429"/>
<rect x="380.68" y="87.28" width="17.48" height="17.44" fill="#e83429"/>
<rect x="397.87" y="87.28" width="17.48" height="17.44" fill="#67000d"/>
<rect x="415.05" y="87.28" width="17.48" height="17.44" fill="#f14432"/>
<rect x="432.23" y="87.28" width="17.48" height="17.44" fill="#fcc4ad"/>
<rect x="449.41" y="87.28" width="17.48" height="17.44" fill="#fc9474"/>
<rect x="466.60" y="87.28" width="17.48" height="17.44" fill="#fcc1a9"/>
<rect x="483.78" y="87.28" width="17.48" height="17.44" fill="#fcc1a9"/>
<rect x="500.96" y="87.28" width="17.48" height="17.44" fill="#fc9778"/>
<rect x="518.15" y="87.28" width="17.48" height="17.44" fill="#fc9a7b"/>
<rect x="535.33" y="87.28" width="17.48" height="17.44" fill="#fcc1a9"/>
<rect x="552.51" y="87.28" width="17.48" height="17.44" fill="#fcab8e"/>
<rect x="363.50" y="104.42" width="17.48" height="17.44" fill="#e83429"/>
<rect x="380.68" y="104.42" width="17.48" height="17.44" fill="#eb372a"/>
<rect x="397.87" y="104.42" width="17.48" height="17.44" fill="#ee3a2b"/>
<rect x="415.05" y="104.42" width="17.48" height="17.44" fill="#67000d"/>
<rect x="432.23" y="104.42" width="17.48" height="17.44" fill="#fdd0bc"/>
<rect x="449.41" y="104.42" width="17.48" height="17.44" fill="#fc9d7f"/>
<rect x="466.60" y="104.42" width="17.48" height="17.44" fill="#fdcab5"/>
<rect x="483.78" y="104.42" width="17.48" height="17.44" fill="#fdcab5"/>
<rect x="500.96" y="104.42" width="17.48" height="17.44" fill="#fc9474"/>
<rect x="518.15" y="104.42" width="17.48" height="17.44" fill="#fc9778"/>
<rect x="535.33" y="104.42" width="17.48" height="17.44" fill="#fcbea5"/>
<rect x="552.51" y="104.42" width="17.48" height="17.44" fill="#fca78a"/>
<rect x="363.50" y="121.56" width="17.48" height="17.44" fill="#fc9474"/>
<rect x="380.68" y="121.56" width="17.48" height="17.44" fill="#fc9a7b"/>
<rect x="397.87" y="121.56" width="17.48" height="17.44" fill="#fc9778"/>
<rect x="415.05" y="121.56" width="17.48" height="17.44" fill="#fca487"/>
<rect x="432.23" y="121.56" width="17.48" height="17.44" fill="#67000d"/>
<rect x="449.41" y="121.56" width="17.48" height="17.44" fill="#fcbea5"/>
<rect x="466.60" y="121.56" width="17.48" height="17.44" fill="#fee6da"/>
<rect x="483.78" y="121.56" width="17.48" height="17.44" fill="#fedfd0"/>
<rect x="500.96" y="121.56" width="17.48" height="17.44" fill="#fedfd0"/>
<rect x="518.15" y="121.56" width="17.48" height="17.44" fill="#fedccc"/>
<rect x="535.33" y="121.56" width="17.48" height="17.44" fill="#fff5f0"/>
<rect x="552.51" y="121.56" width="17.48" height="17.44" fill="#fee3d6"/>
<rect x="363.50" y="138.70" width="17.48" height="17.44" fill="#fb7757"/>
<rect x="380.68" y="138.70" width="17.48" height="17.44" fill="#fb7d5d"/>
<rect x="397.87" y="138.70" width="17.48" height="17.44" fill="#fb7a5a"/>
<rect x="415.05" y="138.70" width="17.48" height="17.44" fill="#fc8060"/>
<rect x="432.23" y="138.70" width="17.48" height="17.44" fill="#fdcab5"/>
<rect x="449.41" y="138.70" width="17.48" height="17.44" fill="#67000d"/>
<rect x="466.60" y="138.70" width="17.48" height="17.44" fill="#fedccc"/>
<rect x="483.78" y="138.70" width="17.48" height="17.44" fill="#fedccc"/>
<rect x="500.96" y="138.70" width="17.48" height="17.44" fill="#fcbea5"/>
<rect x="518.15" y="138.70" width="17.48" height="17.44" fill="#fcb499"/>
<rect x="535.33" y="138.70" width="17.48" height="17.44" fill="#fedfd0"/>
<rect x="552.51" y="138.70" width="17.48" height="17.44" fill="#fdd6c4"/>
<rect x="363.50" y="155.84" width="17.48" height="17.44" fill="#fc9474"/>
<rect x="380.68" y="155.84" width="17.48" height="17.44" fill="#fc9474"/>
<rect x="397.87" y="155.84" width="17.48" height="17.44" fill="#fc9070"/>
<rect x="415.05" y="155.84" width="17.48" height="17.44" fill="#fc9a7b"/>
<rect x="432.23" y="155.84" width="17.48" height="17.44" fill="#fee4d8"/>
<rect x="449.41" y="155.84" width="17.48" height="17.44" fill="#fcbea5"/>
<rect x="466.60" y="155.84" width="17.48" height="17.44" fill="#67000d"/>
<rect x="483.78" y="155.84" width="17.48" height="17.44" fill="#fee3d6"/>
<rect x="500.96" y="155.84" width="17.48" height="17.44" fill="#fedfd0"/>
<rect x="518.15" y="155.84" width="17.48" height="17.44" fill="#fdcdb9"/>
<rect x="535.33" y="155.84" width="17.48" height="17.44" fill="#ffebe2"/>
<rect x="552.51" y="155.84" width="17.48" height="17.44" fill="#fed9c8"/>
<rect x="363.50" y="172.98" width="17.48" height="17.44" fill="#fc9d7f"/>
<rect x="380.68" y="172.98" width="17.48" height="17.44" fill="#fca487"/>
<rect x="397.87" y="172.98" width="17.48" height="17.44" fill="#fc9d7f"/>
<rect x="415.05" y="172.98" width="17.48" height="17.44" fill="#fcae92"/>
<rect x="432.23" y="172.98" width="17.48" height="17.44" fill="#fee3d6"/>
<rect x="449.41" y="172.98" width="17.48" height="17.44" fill="#fdcab5"/>
<rect x="466.60" y="172.98" width="17.48" height="17.44" fill="#ffebe2"/>
<rect x="483.78" y="172.98" width="17.48" height="17.44" fill="#67000d"/>
<rect x="500.96" y="172.98" width="17.48" height="17.44" fill="#fdd6c4"/>
<rect x="518.15" y="172.98" width="17.48" height="17.44" fill="#fed9c8"/>
<rect x="535.33" y="172.98" width="17.48" height="17.44" fill="#fff5f0"/>
<rect x="552.51" y="172.98" width="17.48" height="17.44" fill="#fee3d6"/>
<rect x="363.50" y="190.12" width="17.48" height="17.44" fill="#fc8767"/>
<rect x="380.68" y="190.12" width="17.48" height="17.44" fill="#fc8d6d"/>
<rect x="397.87" y="190.12" width="17.48" height="17.44" fill="#fc9070"/>
<rect x="415.05" y="190.12" width="17.48" height="17.44" fill="#fc8767"/>
<rect x="432.23" y="190.12" width="17.48" height="17.44" fill="#fff3ee"/>
<rect x="449.41" y="190.12" width="17.48" height="17.44" fill="#fdd6c4"/>
<rect x="466.60" y="190.12" width="17.48" height="17.44" fill="#fff3ee"/>
<rect x="483.78" y="190.12" width="17.48" height="17.44" fill="#fee4d8"/>
<rect x="500.96" y="190.12" width="17.48" height="17.44" fill="#67000d"/>
<rect x="518.15" y="190.12" width="17.48" height="17.44" fill="#fca78a"/>
<rect x="535.33" y="190.12" width="17.48" height="17.44" fill="#fdd6c4"/>
<rect x="552.51" y="190.12" width="17.48" height="17.44" fill="#fcb499"/>
<rect x="363.50" y="207.26" width="17.48" height="17.44" fill="#fc8a6a"/>
<rect x="380.68" y="207.26" width="17.48" height="17.44" fill="#fc9070"/>
<rect x="397.87" y="207.26" width="17.48" height="17.44" fill="#fc8a6a"/>
<rect x="415.05" y="207.26" width="17.48" height="17.44" fill="#fc9778"/>
<rect x="432.23" y="207.26" width="17.48" height="17.44" fill="#ffede4"/>
<rect x="449.41" y="207.26" width="17.48" height="17.44" fill="#fdd0bc"/>
<rect x="466.60" y="207.26" width="17.48" height="17.44" fill="#fee9df"/>
<rect x="483.78" y="207.26" width="17.48" height="17.44" fill="#fee6da"/>
<rect x="500.96" y="207.26" width="17.48" height="17.44" fill="#fcae92"/>
<rect x="518.15" y="207.26" width="17.48" height="17.44" fill="#67000d"/>
<rect x="535.33" y="207.26" width="17.48" height="17.44" fill="#fdc7b1"/>
<rect x="552.51" y="207.26" width="17.48" height="17.44" fill="#fcc4ad"/>
<rect x="363.50" y="224.40" width="17.48" height="17.44" fill="#fc8d6d"/>
<rect x="380.68" y="224.40" width="17.48" height="17.44" fill="#fc9474"/>
<rect x="397.87" y="224.40" width="17.48" height="17.44" fill="#fc9070"/>
<rect x="415.05" y="224.40" width="17.48" height="17.44" fill="#fc9474"/>
<rect x="432.23" y="224.40" width="17.48" height="17.44" fill="#fee9df"/>
<rect x="449.41" y="224.40" width="17.48" height="17.44" fill="#fdc7b1"/>
<rect x="466.60" y="224.40" width="17.48" height="17.44" fill="#ffeee6"/>
<rect x="483.78" y="224.40" width="17.48" height="17.44" fill="#fee6da"/>
<rect x="500.96" y="224.40" width="17.48" height="17.44" fill="#fcbea5"/>
<rect x="518.15" y="224.40" width="17.48" height="17.44" fill="#fcc1a9"/>
<rect x="535.33" y="224.40" width="17.48" height="17.44" fill="#67000d"/>
<rect x="552.51" y="224.40" width="17.48" height="17.44" fill="#fcc1a9"/>
<rect x="363.50" y="241.54" width="17.48" height="17.44" fill="#fc9778"/>
<rect x="380.68" y="241.54" width="17.48" height="17.44" fill="#fc9a7b"/>
<rect x="397.87" y="241.54" width="17.48" height="17.44" fill="#fc9a7b"/>
<rect x="415.05" y="241.54" width="17.48" height="17.44" fill="#fc9474"/>
<rect x="432.23" y="241.54" width="17.48" height="17.44" fill="#fff2eb"/>
<rect x="449.41" y="241.54" width="17.48" height="17.44" fill="#fdd6c4"/>
<rect x="466.60" y="241.54" width="17.48" height="17.44" fill="#ffeee6"/>
<rect x="483.78" y="241.54" width="17.48" height="17.44" fill="#ffebe2"/>
<rect x="500.96" y="241.54" width="17.48" height="17.44" fill="#fcb89d"/>
<rect x="518.15" y="241.54" width="17.48" height="17.44" fill="#fcbba1"/>
<rect x="535.33" y="241.54" width="17.48" height="17.44" fill="#fee6da"/>
<rect x="552.51" y="241.54" width="17.48" height="17.44" fill="#67000d"/>
</g>
<text x="372.09" y="64.22" font-size="7.4" text-anchor="middle" fill="#fff" stroke="#fff" stroke-width="0.15" font-weight="normal">1.00</text>
<text x="389.27" y="64.22" font-size="7.4" text-anchor="middle" fill="#fff" stroke="#fff" stroke-width="0.15" font-weight="normal">0.64</text>
<text x="406.46" y="64.22" font-size="7.4" text-anchor="middle" fill="#fff" stroke="#fff" stroke-width="0.15" font-weight="normal">0.64</text>
<text x="423.64" y="64.22" font-size="7.4" text-anchor="middle" fill="#fff" stroke="#fff" stroke-width="0.15" font-weight="normal">0.62</text>
<text x="440.82" y="64.22" font-size="7.4" text-anchor="middle" fill="#1a1a1a" stroke="#1a1a1a" stroke-width="0.15" font-weight="normal">0.22</text>
<text x="458.01" y="64.22" font-size="7.4" text-anchor="middle" fill="#1a1a1a" stroke="#1a1a1a" stroke-width="0.15" font-weight="normal">0.36</text>
<text x="475.19" y="64.22" font-size="7.4" text-anchor="middle" fill="#1a1a1a" stroke="#1a1a1a" stroke-width="0.15" font-weight="normal">0.21</text>
<text x="492.37" y="64.22" font-size="7.4" text-anchor="middle" fill="#1a1a1a" stroke="#1a1a1a" stroke-width="0.15" font-weight="normal">0.24</text>
<text x="509.56" y="64.22" font-size="7.4" text-anchor="middle" fill="#1a1a1a" stroke="#1a1a1a" stroke-width="0.15" font-weight="normal">0.37</text>
<text x="526.74" y="64.22" font-size="7.4" text-anchor="middle" fill="#1a1a1a" stroke="#1a1a1a" stroke-width="0.15" font-weight="normal">0.33</text>
<text x="543.92" y="64.22" font-size="7.4" text-anchor="middle" fill="#1a1a1a" stroke="#1a1a1a" stroke-width="0.15" font-weight="normal">0.24</text>
<text x="561.10" y="64.22" font-size="7.4" text-anchor="middle" fill="#1a1a1a" stroke="#1a1a1a" stroke-width="0.15" font-weight="normal">0.29</text>
<text x="372.09" y="81.36" font-size="7.4" text-anchor="middle" fill="#fff" stroke="#fff" stroke-width="0.15" font-weight="normal">0.65</text>
<text x="389.27" y="81.36" font-size="7.4" text-anchor="middle" fill="#fff" stroke="#fff" stroke-width="0.15" font-weight="normal">1.00</text>
<text x="406.46" y="81.36" font-size="7.4" text-anchor="middle" fill="#fff" stroke="#fff" stroke-width="0.15" font-weight="normal">0.64</text>
<text x="423.64" y="81.36" font-size="7.4" text-anchor="middle" fill="#fff" stroke="#fff" stroke-width="0.15" font-weight="normal">0.62</text>
<text x="440.82" y="81.36" font-size="7.4" text-anchor="middle" fill="#1a1a1a" stroke="#1a1a1a" stroke-width="0.15" font-weight="normal">0.24</text>
<text x="458.01" y="81.36" font-size="7.4" text-anchor="middle" fill="#1a1a1a" stroke="#1a1a1a" stroke-width="0.15" font-weight="normal">0.35</text>
<text x="475.19" y="81.36" font-size="7.4" text-anchor="middle" fill="#1a1a1a" stroke="#1a1a1a" stroke-width="0.15" font-weight="normal">0.22</text>
<text x="492.37" y="81.36" font-size="7.4" text-anchor="middle" fill="#1a1a1a" stroke="#1a1a1a" stroke-width="0.15" font-weight="normal">0.22</text>
<text x="509.56" y="81.36" font-size="7.4" text-anchor="middle" fill="#1a1a1a" stroke="#1a1a1a" stroke-width="0.15" font-weight="normal">0.34</text>
<text x="526.74" y="81.36" font-size="7.4" text-anchor="middle" fill="#1a1a1a" stroke="#1a1a1a" stroke-width="0.15" font-weight="normal">0.37</text>
<text x="543.92" y="81.36" font-size="7.4" text-anchor="middle" fill="#1a1a1a" stroke="#1a1a1a" stroke-width="0.15" font-weight="normal">0.22</text>
<text x="561.10" y="81.36" font-size="7.4" text-anchor="middle" fill="#1a1a1a" stroke="#1a1a1a" stroke-width="0.15" font-weight="normal">0.28</text>
<text x="372.09" y="98.50" font-size="7.4" text-anchor="middle" fill="#fff" stroke="#fff" stroke-width="0.15" font-weight="normal">0.65</text>
<text x="389.27" y="98.50" font-size="7.4" text-anchor="middle" fill="#fff" stroke="#fff" stroke-width="0.15" font-weight="normal">0.65</text>
<text x="406.46" y="98.50" font-size="7.4" text-anchor="middle" fill="#fff" stroke="#fff" stroke-width="0.15" font-weight="normal">1.00</text>
<text x="423.64" y="98.50" font-size="7.4" text-anchor="middle" fill="#fff" stroke="#fff" stroke-width="0.15" font-weight="normal">0.60</text>
<text x="440.82" y="98.50" font-size="7.4" text-anchor="middle" fill="#1a1a1a" stroke="#1a1a1a" stroke-width="0.15" font-weight="normal">0.22</text>
<text x="458.01" y="98.50" font-size="7.4" text-anchor="middle" fill="#1a1a1a" stroke="#1a1a1a" stroke-width="0.15" font-weight="normal">0.37</text>
<text x="475.19" y="98.50" font-size="7.4" text-anchor="middle" fill="#1a1a1a" stroke="#1a1a1a" stroke-width="0.15" font-weight="normal">0.23</text>
<text x="492.37" y="98.50" font-size="7.4" text-anchor="middle" fill="#1a1a1a" stroke="#1a1a1a" stroke-width="0.15" font-weight="normal">0.23</text>
<text x="509.56" y="98.50" font-size="7.4" text-anchor="middle" fill="#1a1a1a" stroke="#1a1a1a" stroke-width="0.15" font-weight="normal">0.36</text>
<text x="526.74" y="98.50" font-size="7.4" text-anchor="middle" fill="#1a1a1a" stroke="#1a1a1a" stroke-width="0.15" font-weight="normal">0.35</text>
<text x="543.92" y="98.50" font-size="7.4" text-anchor="middle" fill="#1a1a1a" stroke="#1a1a1a" stroke-width="0.15" font-weight="normal">0.23</text>
<text x="561.10" y="98.50" font-size="7.4" text-anchor="middle" fill="#1a1a1a" stroke="#1a1a1a" stroke-width="0.15" font-weight="normal">0.30</text>
<text x="372.09" y="115.64" font-size="7.4" text-anchor="middle" fill="#fff" stroke="#fff" stroke-width="0.15" font-weight="normal">0.65</text>
<text x="389.27" y="115.64" font-size="7.4" text-anchor="middle" fill="#fff" stroke="#fff" stroke-width="0.15" font-weight="normal">0.64</text>
<text x="406.46" y="115.64" font-size="7.4" text-anchor="middle" fill="#fff" stroke="#fff" stroke-width="0.15" font-weight="normal">0.63</text>
<text x="423.64" y="115.64" font-size="7.4" text-anchor="middle" fill="#fff" stroke="#fff" stroke-width="0.15" font-weight="normal">1.00</text>
<text x="440.82" y="115.64" font-size="7.4" text-anchor="middle" fill="#1a1a1a" stroke="#1a1a1a" stroke-width="0.15" font-weight="normal">0.18</text>
<text x="458.01" y="115.64" font-size="7.4" text-anchor="middle" fill="#1a1a1a" stroke="#1a1a1a" stroke-width="0.15" font-weight="normal">0.34</text>
<text x="475.19" y="115.64" font-size="7.4" text-anchor="middle" fill="#1a1a1a" stroke="#1a1a1a" stroke-width="0.15" font-weight="normal">0.20</text>
<text x="492.37" y="115.64" font-size="7.4" text-anchor="middle" fill="#1a1a1a" stroke="#1a1a1a" stroke-width="0.15" font-weight="normal">0.20</text>
<text x="509.56" y="115.64" font-size="7.4" text-anchor="middle" fill="#1a1a1a" stroke="#1a1a1a" stroke-width="0.15" font-weight="normal">0.37</text>
<text x="526.74" y="115.64" font-size="7.4" text-anchor="middle" fill="#1a1a1a" stroke="#1a1a1a" stroke-width="0.15" font-weight="normal">0.36</text>
<text x="543.92" y="115.64" font-size="7.4" text-anchor="middle" fill="#1a1a1a" stroke="#1a1a1a" stroke-width="0.15" font-weight="normal">0.24</text>
<text x="561.10" y="115.64" font-size="7.4" text-anchor="middle" fill="#1a1a1a" stroke="#1a1a1a" stroke-width="0.15" font-weight="normal">0.31</text>
<text x="372.09" y="132.78" font-size="7.4" text-anchor="middle" fill="#1a1a1a" stroke="#1a1a1a" stroke-width="0.15" font-weight="normal">0.37</text>
<text x="389.27" y="132.78" font-size="7.4" text-anchor="middle" fill="#1a1a1a" stroke="#1a1a1a" stroke-width="0.15" font-weight="normal">0.35</text>
<text x="406.46" y="132.78" font-size="7.4" text-anchor="middle" fill="#1a1a1a" stroke="#1a1a1a" stroke-width="0.15" font-weight="normal">0.36</text>
<text x="423.64" y="132.78" font-size="7.4" text-anchor="middle" fill="#1a1a1a" stroke="#1a1a1a" stroke-width="0.15" font-weight="normal">0.32</text>
<text x="440.82" y="132.78" font-size="7.4" text-anchor="middle" fill="#fff" stroke="#fff" stroke-width="0.15" font-weight="normal">1.00</text>
<text x="458.01" y="132.78" font-size="7.4" text-anchor="middle" fill="#1a1a1a" stroke="#1a1a1a" stroke-width="0.15" font-weight="normal">0.24</text>
<text x="475.19" y="132.78" font-size="7.4" text-anchor="middle" fill="#1a1a1a" stroke="#1a1a1a" stroke-width="0.15" font-weight="normal">0.09</text>
<text x="492.37" y="132.78" font-size="7.4" text-anchor="middle" fill="#1a1a1a" stroke="#1a1a1a" stroke-width="0.15" font-weight="normal">0.13</text>
<text x="509.56" y="132.78" font-size="7.4" text-anchor="middle" fill="#1a1a1a" stroke="#1a1a1a" stroke-width="0.15" font-weight="normal">0.13</text>
<text x="526.74" y="132.78" font-size="7.4" text-anchor="middle" fill="#1a1a1a" stroke="#1a1a1a" stroke-width="0.15" font-weight="normal">0.14</text>
<text x="543.92" y="132.78" font-size="7.4" text-anchor="middle" fill="#1a1a1a" stroke="#1a1a1a" stroke-width="0.15" font-weight="normal">-0.02</text>
<text x="561.10" y="132.78" font-size="7.4" text-anchor="middle" fill="#1a1a1a" stroke="#1a1a1a" stroke-width="0.15" font-weight="normal">0.11</text>
<text x="372.09" y="149.92" font-size="7.4" text-anchor="middle" fill="#fff" stroke="#fff" stroke-width="0.15" font-weight="normal">0.46</text>
<text x="389.27" y="149.92" font-size="7.4" text-anchor="middle" fill="#fff" stroke="#fff" stroke-width="0.15" font-weight="normal">0.44</text>
<text x="406.46" y="149.92" font-size="7.4" text-anchor="middle" fill="#fff" stroke="#fff" stroke-width="0.15" font-weight="normal">0.45</text>
<text x="423.64" y="149.92" font-size="7.4" text-anchor="middle" fill="#fff" stroke="#fff" stroke-width="0.15" font-weight="normal">0.43</text>
<text x="440.82" y="149.92" font-size="7.4" text-anchor="middle" fill="#1a1a1a" stroke="#1a1a1a" stroke-width="0.15" font-weight="normal">0.20</text>
<text x="458.01" y="149.92" font-size="7.4" text-anchor="middle" fill="#fff" stroke="#fff" stroke-width="0.15" font-weight="normal">1.00</text>
<text x="475.19" y="149.92" font-size="7.4" text-anchor="middle" fill="#1a1a1a" stroke="#1a1a1a" stroke-width="0.15" font-weight="normal">0.14</text>
<text x="492.37" y="149.92" font-size="7.4" text-anchor="middle" fill="#1a1a1a" stroke="#1a1a1a" stroke-width="0.15" font-weight="normal">0.14</text>
<text x="509.56" y="149.92" font-size="7.4" text-anchor="middle" fill="#1a1a1a" stroke="#1a1a1a" stroke-width="0.15" font-weight="normal">0.24</text>
<text x="526.74" y="149.92" font-size="7.4" text-anchor="middle" fill="#1a1a1a" stroke="#1a1a1a" stroke-width="0.15" font-weight="normal">0.27</text>
<text x="543.92" y="149.92" font-size="7.4" text-anchor="middle" fill="#1a1a1a" stroke="#1a1a1a" stroke-width="0.15" font-weight="normal">0.13</text>
<text x="561.10" y="149.92" font-size="7.4" text-anchor="middle" fill="#1a1a1a" stroke="#1a1a1a" stroke-width="0.15" font-weight="normal">0.16</text>
<text x="372.09" y="167.06" font-size="7.4" text-anchor="middle" fill="#1a1a1a" stroke="#1a1a1a" stroke-width="0.15" font-weight="normal">0.37</text>
<text x="389.27" y="167.06" font-size="7.4" text-anchor="middle" fill="#1a1a1a" stroke="#1a1a1a" stroke-width="0.15" font-weight="normal">0.37</text>
<text x="406.46" y="167.06" font-size="7.4" text-anchor="middle" fill="#1a1a1a" stroke="#1a1a1a" stroke-width="0.15" font-weight="normal">0.38</text>
<text x="423.64" y="167.06" font-size="7.4" text-anchor="middle" fill="#1a1a1a" stroke="#1a1a1a" stroke-width="0.15" font-weight="normal">0.35</text>
<text x="440.82" y="167.06" font-size="7.4" text-anchor="middle" fill="#1a1a1a" stroke="#1a1a1a" stroke-width="0.15" font-weight="normal">0.10</text>
<text x="458.01" y="167.06" font-size="7.4" text-anchor="middle" fill="#1a1a1a" stroke="#1a1a1a" stroke-width="0.15" font-weight="normal">0.24</text>
<text x="475.19" y="167.06" font-size="7.4" text-anchor="middle" fill="#fff" stroke="#fff" stroke-width="0.15" font-weight="normal">1.00</text>
<text x="492.37" y="167.06" font-size="7.4" text-anchor="middle" fill="#1a1a1a" stroke="#1a1a1a" stroke-width="0.15" font-weight="normal">0.11</text>
<text x="509.56" y="167.06" font-size="7.4" text-anchor="middle" fill="#1a1a1a" stroke="#1a1a1a" stroke-width="0.15" font-weight="normal">0.13</text>
<text x="526.74" y="167.06" font-size="7.4" text-anchor="middle" fill="#1a1a1a" stroke="#1a1a1a" stroke-width="0.15" font-weight="normal">0.19</text>
<text x="543.92" y="167.06" font-size="7.4" text-anchor="middle" fill="#1a1a1a" stroke="#1a1a1a" stroke-width="0.15" font-weight="normal">0.06</text>
<text x="561.10" y="167.06" font-size="7.4" text-anchor="middle" fill="#1a1a1a" stroke="#1a1a1a" stroke-width="0.15" font-weight="normal">0.15</text>
<text x="372.09" y="184.20" font-size="7.4" text-anchor="middle" fill="#1a1a1a" stroke="#1a1a1a" stroke-width="0.15" font-weight="normal">0.34</text>
<text x="389.27" y="184.20" font-size="7.4" text-anchor="middle" fill="#1a1a1a" stroke="#1a1a1a" stroke-width="0.15" font-weight="normal">0.32</text>
<text x="406.46" y="184.20" font-size="7.4" text-anchor="middle" fill="#1a1a1a" stroke="#1a1a1a" stroke-width="0.15" font-weight="normal">0.34</text>
<text x="423.64" y="184.20" font-size="7.4" text-anchor="middle" fill="#1a1a1a" stroke="#1a1a1a" stroke-width="0.15" font-weight="normal">0.29</text>
<text x="440.82" y="184.20" font-size="7.4" text-anchor="middle" fill="#1a1a1a" stroke="#1a1a1a" stroke-width="0.15" font-weight="normal">0.11</text>
<text x="458.01" y="184.20" font-size="7.4" text-anchor="middle" fill="#1a1a1a" stroke="#1a1a1a" stroke-width="0.15" font-weight="normal">0.20</text>
<text x="475.19" y="184.20" font-size="7.4" text-anchor="middle" fill="#1a1a1a" stroke="#1a1a1a" stroke-width="0.15" font-weight="normal">0.06</text>
<text x="492.37" y="184.20" font-size="7.4" text-anchor="middle" fill="#fff" stroke="#fff" stroke-width="0.15" font-weight="normal">1.00</text>
<text x="509.56" y="184.20" font-size="7.4" text-anchor="middle" fill="#1a1a1a" stroke="#1a1a1a" stroke-width="0.15" font-weight="normal">0.16</text>
<text x="526.74" y="184.20" font-size="7.4" text-anchor="middle" fill="#1a1a1a" stroke="#1a1a1a" stroke-width="0.15" font-weight="normal">0.15</text>
<text x="543.92" y="184.20" font-size="7.4" text-anchor="middle" fill="#1a1a1a" stroke="#1a1a1a" stroke-width="0.15" font-weight="normal">-0.02</text>
<text x="561.10" y="184.20" font-size="7.4" text-anchor="middle" fill="#1a1a1a" stroke="#1a1a1a" stroke-width="0.15" font-weight="normal">0.11</text>
<text x="372.09" y="201.34" font-size="7.4" text-anchor="middle" fill="#fff" stroke="#fff" stroke-width="0.15" font-weight="normal">0.41</text>
<text x="389.27" y="201.34" font-size="7.4" text-anchor="middle" fill="#1a1a1a" stroke="#1a1a1a" stroke-width="0.15" font-weight="normal">0.39</text>
<text x="406.46" y="201.34" font-size="7.4" text-anchor="middle" fill="#1a1a1a" stroke="#1a1a1a" stroke-width="0.15" font-weight="normal">0.38</text>
<text x="423.64" y="201.34" font-size="7.4" text-anchor="middle" fill="#fff" stroke="#fff" stroke-width="0.15" font-weight="normal">0.41</text>
<text x="440.82" y="201.34" font-size="7.4" text-anchor="middle" fill="#1a1a1a" stroke="#1a1a1a" stroke-width="0.15" font-weight="normal">0.01</text>
<text x="458.01" y="201.34" font-size="7.4" text-anchor="middle" fill="#1a1a1a" stroke="#1a1a1a" stroke-width="0.15" font-weight="normal">0.16</text>
<text x="475.19" y="201.34" font-size="7.4" text-anchor="middle" fill="#1a1a1a" stroke="#1a1a1a" stroke-width="0.15" font-weight="normal">0.01</text>
<text x="492.37" y="201.34" font-size="7.4" text-anchor="middle" fill="#1a1a1a" stroke="#1a1a1a" stroke-width="0.15" font-weight="normal">0.10</text>
<text x="509.56" y="201.34" font-size="7.4" text-anchor="middle" fill="#fff" stroke="#fff" stroke-width="0.15" font-weight="normal">1.00</text>
<text x="526.74" y="201.34" font-size="7.4" text-anchor="middle" fill="#1a1a1a" stroke="#1a1a1a" stroke-width="0.15" font-weight="normal">0.31</text>
<text x="543.92" y="201.34" font-size="7.4" text-anchor="middle" fill="#1a1a1a" stroke="#1a1a1a" stroke-width="0.15" font-weight="normal">0.16</text>
<text x="561.10" y="201.34" font-size="7.4" text-anchor="middle" fill="#1a1a1a" stroke="#1a1a1a" stroke-width="0.15" font-weight="normal">0.27</text>
<text x="372.09" y="218.48" font-size="7.4" text-anchor="middle" fill="#fff" stroke="#fff" stroke-width="0.15" font-weight="normal">0.40</text>
<text x="389.27" y="218.48" font-size="7.4" text-anchor="middle" fill="#1a1a1a" stroke="#1a1a1a" stroke-width="0.15" font-weight="normal">0.38</text>
<text x="406.46" y="218.48" font-size="7.4" text-anchor="middle" fill="#fff" stroke="#fff" stroke-width="0.15" font-weight="normal">0.40</text>
<text x="423.64" y="218.48" font-size="7.4" text-anchor="middle" fill="#1a1a1a" stroke="#1a1a1a" stroke-width="0.15" font-weight="normal">0.36</text>
<text x="440.82" y="218.48" font-size="7.4" text-anchor="middle" fill="#1a1a1a" stroke="#1a1a1a" stroke-width="0.15" font-weight="normal">0.05</text>
<text x="458.01" y="218.48" font-size="7.4" text-anchor="middle" fill="#1a1a1a" stroke="#1a1a1a" stroke-width="0.15" font-weight="normal">0.18</text>
<text x="475.19" y="218.48" font-size="7.4" text-anchor="middle" fill="#1a1a1a" stroke="#1a1a1a" stroke-width="0.15" font-weight="normal">0.07</text>
<text x="492.37" y="218.48" font-size="7.4" text-anchor="middle" fill="#1a1a1a" stroke="#1a1a1a" stroke-width="0.15" font-weight="normal">0.09</text>
<text x="509.56" y="218.48" font-size="7.4" text-anchor="middle" fill="#1a1a1a" stroke="#1a1a1a" stroke-width="0.15" font-weight="normal">0.29</text>
<text x="526.74" y="218.48" font-size="7.4" text-anchor="middle" fill="#fff" stroke="#fff" stroke-width="0.15" font-weight="normal">1.00</text>
<text x="543.92" y="218.48" font-size="7.4" text-anchor="middle" fill="#1a1a1a" stroke="#1a1a1a" stroke-width="0.15" font-weight="normal">0.21</text>
<text x="561.10" y="218.48" font-size="7.4" text-anchor="middle" fill="#1a1a1a" stroke="#1a1a1a" stroke-width="0.15" font-weight="normal">0.22</text>
<text x="372.09" y="235.62" font-size="7.4" text-anchor="middle" fill="#1a1a1a" stroke="#1a1a1a" stroke-width="0.15" font-weight="normal">0.39</text>
<text x="389.27" y="235.62" font-size="7.4" text-anchor="middle" fill="#1a1a1a" stroke="#1a1a1a" stroke-width="0.15" font-weight="normal">0.37</text>
<text x="406.46" y="235.62" font-size="7.4" text-anchor="middle" fill="#1a1a1a" stroke="#1a1a1a" stroke-width="0.15" font-weight="normal">0.38</text>
<text x="423.64" y="235.62" font-size="7.4" text-anchor="middle" fill="#1a1a1a" stroke="#1a1a1a" stroke-width="0.15" font-weight="normal">0.37</text>
<text x="440.82" y="235.62" font-size="7.4" text-anchor="middle" fill="#1a1a1a" stroke="#1a1a1a" stroke-width="0.15" font-weight="normal">0.07</text>
<text x="458.01" y="235.62" font-size="7.4" text-anchor="middle" fill="#1a1a1a" stroke="#1a1a1a" stroke-width="0.15" font-weight="normal">0.21</text>
<text x="475.19" y="235.62" font-size="7.4" text-anchor="middle" fill="#1a1a1a" stroke="#1a1a1a" stroke-width="0.15" font-weight="normal">0.04</text>
<text x="492.37" y="235.62" font-size="7.4" text-anchor="middle" fill="#1a1a1a" stroke="#1a1a1a" stroke-width="0.15" font-weight="normal">0.09</text>
<text x="509.56" y="235.62" font-size="7.4" text-anchor="middle" fill="#1a1a1a" stroke="#1a1a1a" stroke-width="0.15" font-weight="normal">0.24</text>
<text x="526.74" y="235.62" font-size="7.4" text-anchor="middle" fill="#1a1a1a" stroke="#1a1a1a" stroke-width="0.15" font-weight="normal">0.23</text>
<text x="543.92" y="235.62" font-size="7.4" text-anchor="middle" fill="#fff" stroke="#fff" stroke-width="0.15" font-weight="normal">1.00</text>
<text x="561.10" y="235.62" font-size="7.4" text-anchor="middle" fill="#1a1a1a" stroke="#1a1a1a" stroke-width="0.15" font-weight="normal">0.23</text>
<text x="372.09" y="252.76" font-size="7.4" text-anchor="middle" fill="#1a1a1a" stroke="#1a1a1a" stroke-width="0.15" font-weight="normal">0.36</text>
<text x="389.27" y="252.76" font-size="7.4" text-anchor="middle" fill="#1a1a1a" stroke="#1a1a1a" stroke-width="0.15" font-weight="normal">0.35</text>
<text x="406.46" y="252.76" font-size="7.4" text-anchor="middle" fill="#1a1a1a" stroke="#1a1a1a" stroke-width="0.15" font-weight="normal">0.35</text>
<text x="423.64" y="252.76" font-size="7.4" text-anchor="middle" fill="#1a1a1a" stroke="#1a1a1a" stroke-width="0.15" font-weight="normal">0.37</text>
<text x="440.82" y="252.76" font-size="7.4" text-anchor="middle" fill="#1a1a1a" stroke="#1a1a1a" stroke-width="0.15" font-weight="normal">0.02</text>
<text x="458.01" y="252.76" font-size="7.4" text-anchor="middle" fill="#1a1a1a" stroke="#1a1a1a" stroke-width="0.15" font-weight="normal">0.16</text>
<text x="475.19" y="252.76" font-size="7.4" text-anchor="middle" fill="#1a1a1a" stroke="#1a1a1a" stroke-width="0.15" font-weight="normal">0.04</text>
<text x="492.37" y="252.76" font-size="7.4" text-anchor="middle" fill="#1a1a1a" stroke="#1a1a1a" stroke-width="0.15" font-weight="normal">0.06</text>
<text x="509.56" y="252.76" font-size="7.4" text-anchor="middle" fill="#1a1a1a" stroke="#1a1a1a" stroke-width="0.15" font-weight="normal">0.26</text>
<text x="526.74" y="252.76" font-size="7.4" text-anchor="middle" fill="#1a1a1a" stroke="#1a1a1a" stroke-width="0.15" font-weight="normal">0.25</text>
<text x="543.92" y="252.76" font-size="7.4" text-anchor="middle" fill="#1a1a1a" stroke="#1a1a1a" stroke-width="0.15" font-weight="normal">0.09</text>
<text x="561.10" y="252.76" font-size="7.4" text-anchor="middle" fill="#fff" stroke="#fff" stroke-width="0.15" font-weight="normal">1.00</text>
<text x="358.90" y="61.57" font-size="8.1" text-anchor="middle" fill="#000" stroke="#000" stroke-width="0.3" font-weight="normal" transform="rotate(-90 358.90 61.57)">J1</text>
<text x="372.09" y="269.4" font-size="8.1" text-anchor="middle" fill="#000" stroke="#000" stroke-width="0.3" font-weight="normal">J1</text>
<text x="358.90" y="78.71" font-size="8.1" text-anchor="middle" fill="#000" stroke="#000" stroke-width="0.3" font-weight="normal" transform="rotate(-90 358.90 78.71)">J2</text>
<text x="389.27" y="269.4" font-size="8.1" text-anchor="middle" fill="#000" stroke="#000" stroke-width="0.3" font-weight="normal">J2</text>
<text x="358.90" y="95.85" font-size="8.1" text-anchor="middle" fill="#000" stroke="#000" stroke-width="0.3" font-weight="normal" transform="rotate(-90 358.90 95.85)">J3</text>
<text x="406.46" y="269.4" font-size="8.1" text-anchor="middle" fill="#000" stroke="#000" stroke-width="0.3" font-weight="normal">J3</text>
<text x="358.90" y="112.99" font-size="8.1" text-anchor="middle" fill="#000" stroke="#000" stroke-width="0.3" font-weight="normal" transform="rotate(-90 358.90 112.99)">J4</text>
<text x="423.64" y="269.4" font-size="8.1" text-anchor="middle" fill="#000" stroke="#000" stroke-width="0.3" font-weight="normal">J4</text>
<text x="358.90" y="130.13" font-size="8.1" text-anchor="middle" fill="#000" stroke="#000" stroke-width="0.3" font-weight="normal" transform="rotate(-90 358.90 130.13)">S1</text>
<text x="440.82" y="269.4" font-size="8.1" text-anchor="middle" fill="#000" stroke="#000" stroke-width="0.3" font-weight="normal">S1</text>
<text x="358.90" y="147.27" font-size="8.1" text-anchor="middle" fill="#000" stroke="#000" stroke-width="0.3" font-weight="normal" transform="rotate(-90 358.90 147.27)">S2</text>
<text x="458.01" y="269.4" font-size="8.1" text-anchor="middle" fill="#000" stroke="#000" stroke-width="0.3" font-weight="normal">S2</text>
<text x="358.90" y="164.41" font-size="8.1" text-anchor="middle" fill="#000" stroke="#000" stroke-width="0.3" font-weight="normal" transform="rotate(-90 358.90 164.41)">S3</text>
<text x="475.19" y="269.4" font-size="8.1" text-anchor="middle" fill="#000" stroke="#000" stroke-width="0.3" font-weight="normal">S3</text>
<text x="358.90" y="181.55" font-size="8.1" text-anchor="middle" fill="#000" stroke="#000" stroke-width="0.3" font-weight="normal" transform="rotate(-90 358.90 181.55)">S4</text>
<text x="492.37" y="269.4" font-size="8.1" text-anchor="middle" fill="#000" stroke="#000" stroke-width="0.3" font-weight="normal">S4</text>
<text x="358.90" y="198.69" font-size="8.1" text-anchor="middle" fill="#000" stroke="#000" stroke-width="0.3" font-weight="normal" transform="rotate(-90 358.90 198.69)">K1</text>
<text x="509.56" y="269.4" font-size="8.1" text-anchor="middle" fill="#000" stroke="#000" stroke-width="0.3" font-weight="normal">K1</text>
<text x="358.90" y="215.83" font-size="8.1" text-anchor="middle" fill="#000" stroke="#000" stroke-width="0.3" font-weight="normal" transform="rotate(-90 358.90 215.83)">K2</text>
<text x="526.74" y="269.4" font-size="8.1" text-anchor="middle" fill="#000" stroke="#000" stroke-width="0.3" font-weight="normal">K2</text>
<text x="358.90" y="232.97" font-size="8.1" text-anchor="middle" fill="#000" stroke="#000" stroke-width="0.3" font-weight="normal" transform="rotate(-90 358.90 232.97)">K3</text>
<text x="543.92" y="269.4" font-size="8.1" text-anchor="middle" fill="#000" stroke="#000" stroke-width="0.3" font-weight="normal">K3</text>
<text x="358.90" y="250.11" font-size="8.1" text-anchor="middle" fill="#000" stroke="#000" stroke-width="0.3" font-weight="normal" transform="rotate(-90 358.90 250.11)">K4</text>
<text x="561.10" y="269.4" font-size="8.1" text-anchor="middle" fill="#000" stroke="#000" stroke-width="0.3" font-weight="normal">K4</text>
<text x="466.7" y="281.8" font-size="8.8" text-anchor="middle" fill="#000" stroke="#000" stroke-width="0.3" font-weight="normal">Source monkey</text>
<text x="347.3" y="155.4" font-size="8.8" text-anchor="middle" fill="#000" stroke="#000" stroke-width="0.3" font-weight="normal" transform="rotate(-90 347.3 155.4)">Target monkey</text>
<defs><linearGradient id="cb" x1="0" x2="1" y1="0" y2="0">
<stop offset="0.0" stop-color="#fff5f0"/>
<stop offset="0.125" stop-color="#fee0d2"/>
<stop offset="0.25" stop-color="#fcbba1"/>
<stop offset="0.375" stop-color="#fc9272"/>
<stop offset="0.5" stop-color="#fb6a4a"/>
<stop offset="0.625" stop-color="#ef3b2c"/>
<stop offset="0.75" stop-color="#cb181d"/>
<stop offset="0.875" stop-color="#a50f15"/>
<stop offset="1.0" stop-color="#67000d"/>
</linearGradient></defs>
<rect x="363.5" y="27.0" width="206.10" height="9.8" fill="url(#cb)"/>
<line x1="363.50" y1="36.8" x2="363.50" y2="39.2" stroke="#222" stroke-width="1.2"/>
<text x="363.50" y="47.2" font-size="8.6" text-anchor="middle" fill="#000" stroke="#000" stroke-width="0.3" font-weight="normal">0.0</text>
<line x1="404.72" y1="36.8" x2="404.72" y2="39.2" stroke="#222" stroke-width="1.2"/>
<text x="404.72" y="47.2" font-size="8.6" text-anchor="middle" fill="#000" stroke="#000" stroke-width="0.3" font-weight="normal">0.2</text>
<line x1="445.94" y1="36.8" x2="445.94" y2="39.2" stroke="#222" stroke-width="1.2"/>
<text x="445.94" y="47.2" font-size="8.6" text-anchor="middle" fill="#000" stroke="#000" stroke-width="0.3" font-weight="normal">0.4</text>
<line x1="487.16" y1="36.8" x2="487.16" y2="39.2" stroke="#222" stroke-width="1.2"/>
<text x="487.16" y="47.2" font-size="8.6" text-anchor="middle" fill="#000" stroke="#000" stroke-width="0.3" font-weight="normal">0.6</text>
<line x1="528.38" y1="36.8" x2="528.38" y2="39.2" stroke="#222" stroke-width="1.2"/>
<text x="528.38" y="47.2" font-size="8.6" text-anchor="middle" fill="#000" stroke="#000" stroke-width="0.3" font-weight="normal">0.8</text>
<line x1="569.60" y1="36.8" x2="569.60" y2="39.2" stroke="#222" stroke-width="1.2"/>
<text x="569.60" y="47.2" font-size="8.6" text-anchor="middle" fill="#000" stroke="#000" stroke-width="0.3" font-weight="normal">1.0</text>
<text x="365.0" y="22.6" font-size="9.0" text-anchor="start" fill="#000" stroke="#000" stroke-width="0.3" font-weight="normal">R</text>
<text x="371.7" y="19.6" font-size="4.8" text-anchor="start" fill="#000" stroke="#000" stroke-width="0.3" font-weight="normal">2</text>
<path d="M363.80,1.90 C365.17,1.80 369.13,1.43 372.00,1.30 C374.87,1.18 378.00,1.08 381.00,1.15 C384.00,1.22 386.83,1.17 390.00,1.70 C393.17,2.23 396.67,3.18 400.00,4.30 C403.33,5.42 406.67,7.02 410.00,8.40 C413.33,9.78 416.67,11.18 420.00,12.60 C423.33,14.02 426.67,15.67 430.00,16.90 C433.33,18.13 436.67,19.13 440.00,20.00 C443.33,20.87 446.67,21.60 450.00,22.10 C453.33,22.60 456.67,22.97 460.00,23.00 C463.33,23.03 466.67,22.65 470.00,22.30 C473.33,21.95 476.67,21.30 480.00,20.90 C483.33,20.50 486.33,20.12 490.00,19.90 C493.67,19.68 498.67,19.55 502.00,19.60 C505.33,19.65 507.00,19.90 510.00,20.20 C513.00,20.50 516.67,21.00 520.00,21.40 C523.33,21.80 526.67,22.23 530.00,22.60 C533.33,22.97 536.67,23.28 540.00,23.60 C543.33,23.92 546.67,24.27 550.00,24.50 C553.33,24.73 556.78,24.87 560.00,25.00 C563.22,25.13 567.75,25.25 569.30,25.30" fill="none" stroke="#d22828" stroke-width="1.4"/>
<text x="338.6" y="6.8" font-size="9.0" text-anchor="start" fill="#000" stroke="#000" stroke-width="0.3" font-weight="bold">b</text>
</svg>
</body></html>
